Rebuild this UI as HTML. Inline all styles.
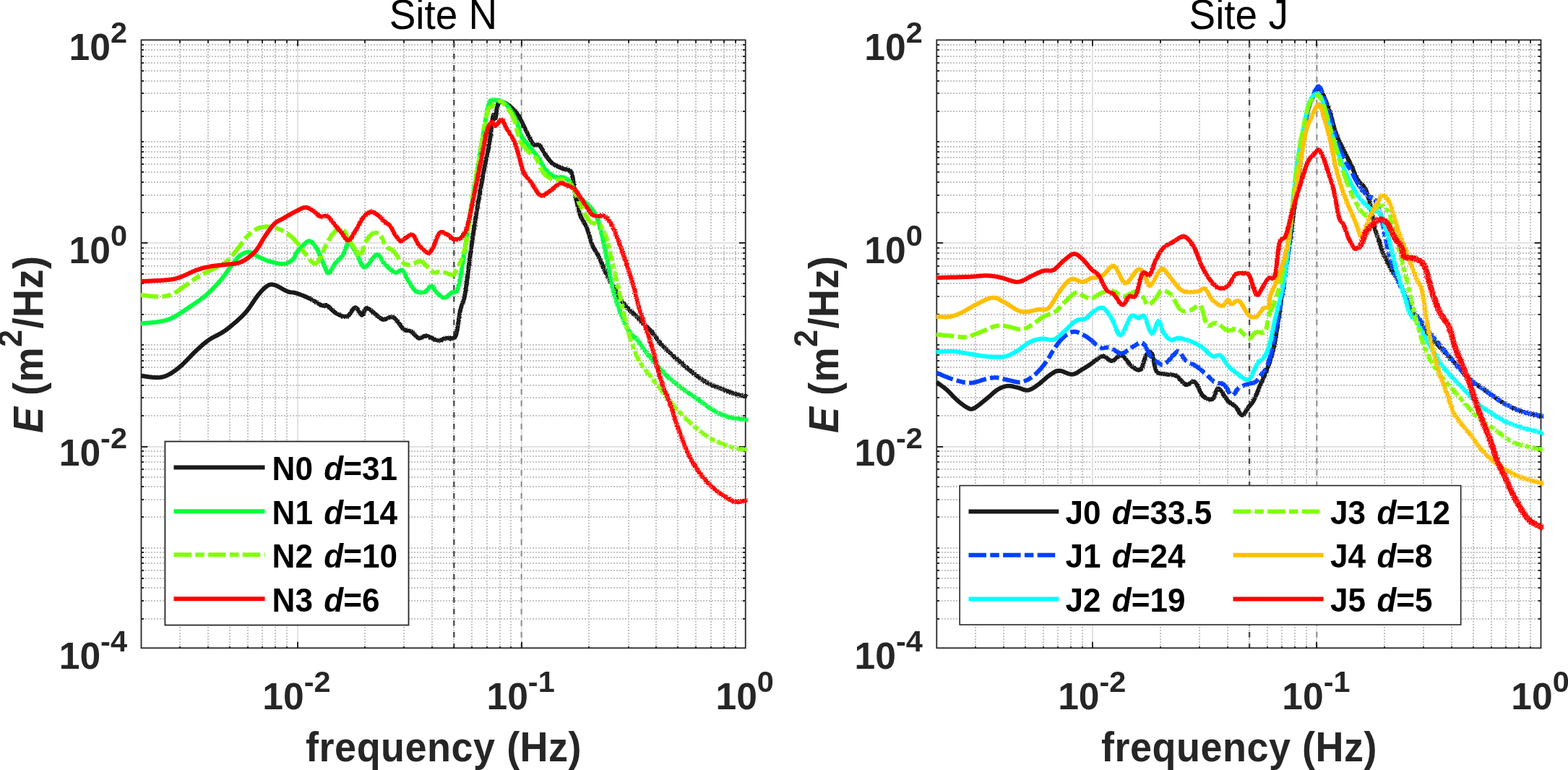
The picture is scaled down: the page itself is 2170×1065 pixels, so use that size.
<!DOCTYPE html>
<html><head><meta charset="utf-8"><title>Site N / Site J spectra</title><style>
html,body{margin:0;padding:0;background:#fff;width:2170px;height:1065px;overflow:hidden;}
svg{display:block;}
text{font-family:"Liberation Sans",Arial,Helvetica,sans-serif;}
.tl{font-size:51.6px;font-weight:bold;fill:#262626;}
.sup{font-size:41.5px;}
.ti{font-size:54.9px;fill:#000;}
.xl{font-size:54px;font-weight:bold;fill:#262626;letter-spacing:0.5px;}
.ysup{font-size:43px;}
.lg{font-size:44.1px;font-weight:bold;fill:#000;}
.it{font-style:italic;}
</style></head><body>
<svg width="2170" height="1065" viewBox="0 0 2170 1065">
<rect width="2170" height="1065" fill="#fff"/>
<defs><clipPath id="k194_0"><rect x="194.7" y="51.3" width="235.3" height="849.0"/></clipPath><clipPath id="k194_1"><rect x="430.0" y="51.3" width="400.0" height="849.0"/></clipPath><clipPath id="k194_2"><rect x="830.0" y="51.3" width="205.4" height="849.0"/></clipPath><clipPath id="k1295_0"><rect x="1295.5" y="51.3" width="214.5" height="849.0"/></clipPath><clipPath id="k1295_1"><rect x="1510.0" y="51.3" width="370.0" height="849.0"/></clipPath><clipPath id="k1295_2"><rect x="1880.0" y="51.3" width="256.2" height="849.0"/></clipPath><filter id="spk0" filterUnits="userSpaceOnUse" x="0" y="0" width="2170" height="1065" color-interpolation-filters="sRGB"><feTurbulence type="fractalNoise" baseFrequency="0.73" numOctaves="1" seed="3" result="t"/><feDisplacementMap in="SourceGraphic" in2="t" scale="0" xChannelSelector="R" yChannelSelector="G" result="d"/><feTurbulence type="fractalNoise" baseFrequency="0.91" numOctaves="1" seed="11" result="t2"/><feColorMatrix in="t2" type="matrix" values="0 0 0 0 0  0 0 0 0 0  0 0 0 0 0  0 0 0 0 1" result="m"/><feComposite in="d" in2="m" operator="in"/></filter><filter id="spk1" filterUnits="userSpaceOnUse" x="0" y="0" width="2170" height="1065" color-interpolation-filters="sRGB"><feTurbulence type="fractalNoise" baseFrequency="0.73" numOctaves="1" seed="4" result="t"/><feDisplacementMap in="SourceGraphic" in2="t" scale="3.0" xChannelSelector="R" yChannelSelector="G" result="d"/><feTurbulence type="fractalNoise" baseFrequency="0.91" numOctaves="1" seed="12" result="t2"/><feColorMatrix in="t2" type="matrix" values="0 0 0 0 0  0 0 0 0 0  0 0 0 0 0  4 0 0 0 -0.4" result="m"/><feComposite in="d" in2="m" operator="in"/></filter><filter id="spk2" filterUnits="userSpaceOnUse" x="0" y="0" width="2170" height="1065" color-interpolation-filters="sRGB"><feTurbulence type="fractalNoise" baseFrequency="0.73" numOctaves="1" seed="5" result="t"/><feDisplacementMap in="SourceGraphic" in2="t" scale="5.0" xChannelSelector="R" yChannelSelector="G" result="d"/><feTurbulence type="fractalNoise" baseFrequency="0.91" numOctaves="1" seed="13" result="t2"/><feColorMatrix in="t2" type="matrix" values="0 0 0 0 0  0 0 0 0 0  0 0 0 0 0  4 0 0 0 -0.7" result="m"/><feComposite in="d" in2="m" operator="in"/></filter></defs>
<path d="M249.0 55V896.3M288.0 55V896.3M318.0 55V896.3M343.0 55V896.3M363.0 55V896.3M381.0 55V896.3M397.0 55V896.3M505.0 55V896.3M559.0 55V896.3M598.0 55V896.3M628.0 55V896.3M653.0 55V896.3M674.0 55V896.3M692.0 55V896.3M707.0 55V896.3M815.0 55V896.3M870.0 55V896.3M908.0 55V896.3M938.0 55V896.3M963.0 55V896.3M984.0 55V896.3M1002.0 55V896.3M1018.0 55V896.3" stroke="#c4c4c4" stroke-width="2" stroke-dasharray="2 2" fill="none"/>
<path d="M197 856.0H1031.7M197 831.0H1031.7M197 813.0H1031.7M197 800.0H1031.7M197 789.0H1031.7M197 779.0H1031.7M197 771.0H1031.7M197 764.0H1031.7M197 758.0H1031.7M197 715.0H1031.7M197 691.0H1031.7M197 673.0H1031.7M197 660.0H1031.7M197 649.0H1031.7M197 639.0H1031.7M197 631.0H1031.7M197 624.0H1031.7M197 575.0H1031.7M197 550.0H1031.7M197 533.0H1031.7M197 519.0H1031.7M197 508.0H1031.7M197 499.0H1031.7M197 491.0H1031.7M197 483.0H1031.7M197 477.0H1031.7M197 435.0H1031.7M197 410.0H1031.7M197 392.0H1031.7M197 379.0H1031.7M197 368.0H1031.7M197 358.0H1031.7M197 350.0H1031.7M197 343.0H1031.7M197 294.0H1031.7M197 270.0H1031.7M197 252.0H1031.7M197 238.0H1031.7M197 227.0H1031.7M197 218.0H1031.7M197 210.0H1031.7M197 203.0H1031.7M197 196.0H1031.7M197 154.0H1031.7M197 129.0H1031.7M197 112.0H1031.7M197 98.0H1031.7M197 87.0H1031.7M197 78.0H1031.7M197 69.0H1031.7M197 62.0H1031.7" stroke="#c4c4c4" stroke-width="2" stroke-dasharray="2 2" fill="none"/>
<path d="M412.0 896.3V55.3M722.0 896.3V55.3M195.5 336.0H1031.7M195.5 618.0H1031.7" stroke="#e2e2e2" stroke-width="2" fill="none"/>
<path d="M628.3 58.1V896.3" stroke="#505050" stroke-width="2.4" stroke-dasharray="7.6 8.4" fill="none"/>
<path d="M721.6 58.1V896.3" stroke="#8c8c8c" stroke-width="2.0" stroke-dasharray="7.6 8.4" fill="none"/>
<path d="M1350.0 55V896.3M1389.0 55V896.3M1419.0 55V896.3M1444.0 55V896.3M1464.0 55V896.3M1482.0 55V896.3M1498.0 55V896.3M1606.0 55V896.3M1660.0 55V896.3M1699.0 55V896.3M1729.0 55V896.3M1754.0 55V896.3M1774.0 55V896.3M1792.0 55V896.3M1808.0 55V896.3M1916.0 55V896.3M1970.0 55V896.3M2009.0 55V896.3M2039.0 55V896.3M2064.0 55V896.3M2084.0 55V896.3M2102.0 55V896.3M2118.0 55V896.3" stroke="#c4c4c4" stroke-width="2" stroke-dasharray="2 2" fill="none"/>
<path d="M1299 856.0H2132.5M1299 831.0H2132.5M1299 813.0H2132.5M1299 800.0H2132.5M1299 789.0H2132.5M1299 779.0H2132.5M1299 771.0H2132.5M1299 764.0H2132.5M1299 758.0H2132.5M1299 715.0H2132.5M1299 691.0H2132.5M1299 673.0H2132.5M1299 660.0H2132.5M1299 649.0H2132.5M1299 639.0H2132.5M1299 631.0H2132.5M1299 624.0H2132.5M1299 575.0H2132.5M1299 550.0H2132.5M1299 533.0H2132.5M1299 519.0H2132.5M1299 508.0H2132.5M1299 499.0H2132.5M1299 491.0H2132.5M1299 483.0H2132.5M1299 477.0H2132.5M1299 435.0H2132.5M1299 410.0H2132.5M1299 392.0H2132.5M1299 379.0H2132.5M1299 368.0H2132.5M1299 358.0H2132.5M1299 350.0H2132.5M1299 343.0H2132.5M1299 294.0H2132.5M1299 270.0H2132.5M1299 252.0H2132.5M1299 238.0H2132.5M1299 227.0H2132.5M1299 218.0H2132.5M1299 210.0H2132.5M1299 203.0H2132.5M1299 196.0H2132.5M1299 154.0H2132.5M1299 129.0H2132.5M1299 112.0H2132.5M1299 98.0H2132.5M1299 87.0H2132.5M1299 78.0H2132.5M1299 69.0H2132.5M1299 62.0H2132.5" stroke="#c4c4c4" stroke-width="2" stroke-dasharray="2 2" fill="none"/>
<path d="M1512.0 896.3V55.3M1822.0 896.3V55.3M1296.3 336.0H2132.5M1296.3 618.0H2132.5" stroke="#e2e2e2" stroke-width="2" fill="none"/>
<path d="M1729.1 58.1V896.3" stroke="#505050" stroke-width="2.4" stroke-dasharray="7.6 8.4" fill="none"/>
<path d="M1822.4 58.1V896.3" stroke="#8c8c8c" stroke-width="2.0" stroke-dasharray="7.6 8.4" fill="none"/>
<path d="M412.0 896.3V887.8M412.0 55.3V63.8M722.0 896.3V887.8M722.0 55.3V63.8M195.5 336.0H204.3M1031.7 336.0H1022.9M195.5 618.0H204.3M1031.7 618.0H1022.9M249.0 896.3V893.9M249.0 55.3V59.5M288.0 896.3V893.9M288.0 55.3V59.5M318.0 896.3V893.9M318.0 55.3V59.5M343.0 896.3V893.9M343.0 55.3V59.5M363.0 896.3V893.9M363.0 55.3V59.5M381.0 896.3V893.9M381.0 55.3V59.5M397.0 896.3V893.9M397.0 55.3V59.5M505.0 896.3V893.9M505.0 55.3V59.5M559.0 896.3V893.9M559.0 55.3V59.5M598.0 896.3V893.9M598.0 55.3V59.5M628.0 896.3V893.9M628.0 55.3V59.5M653.0 896.3V893.9M653.0 55.3V59.5M674.0 896.3V893.9M674.0 55.3V59.5M692.0 896.3V893.9M692.0 55.3V59.5M707.0 896.3V893.9M707.0 55.3V59.5M815.0 896.3V893.9M815.0 55.3V59.5M870.0 896.3V893.9M870.0 55.3V59.5M908.0 896.3V893.9M908.0 55.3V59.5M938.0 896.3V893.9M938.0 55.3V59.5M963.0 896.3V893.9M963.0 55.3V59.5M984.0 896.3V893.9M984.0 55.3V59.5M1002.0 896.3V893.9M1002.0 55.3V59.5M1018.0 896.3V893.9M1018.0 55.3V59.5M195.5 856.0H199.0M1031.7 856.0H1028.0M195.5 831.0H199.0M1031.7 831.0H1028.0M195.5 813.0H199.0M1031.7 813.0H1028.0M195.5 800.0H199.0M1031.7 800.0H1028.0M195.5 789.0H199.0M1031.7 789.0H1028.0M195.5 779.0H199.0M1031.7 779.0H1028.0M195.5 771.0H199.0M1031.7 771.0H1028.0M195.5 764.0H199.0M1031.7 764.0H1028.0M195.5 758.0H199.0M1031.7 758.0H1028.0M195.5 715.0H199.0M1031.7 715.0H1028.0M195.5 691.0H199.0M1031.7 691.0H1028.0M195.5 673.0H199.0M1031.7 673.0H1028.0M195.5 660.0H199.0M1031.7 660.0H1028.0M195.5 649.0H199.0M1031.7 649.0H1028.0M195.5 639.0H199.0M1031.7 639.0H1028.0M195.5 631.0H199.0M1031.7 631.0H1028.0M195.5 624.0H199.0M1031.7 624.0H1028.0M195.5 575.0H199.0M1031.7 575.0H1028.0M195.5 550.0H199.0M1031.7 550.0H1028.0M195.5 533.0H199.0M1031.7 533.0H1028.0M195.5 519.0H199.0M1031.7 519.0H1028.0M195.5 508.0H199.0M1031.7 508.0H1028.0M195.5 499.0H199.0M1031.7 499.0H1028.0M195.5 491.0H199.0M1031.7 491.0H1028.0M195.5 483.0H199.0M1031.7 483.0H1028.0M195.5 477.0H199.0M1031.7 477.0H1028.0M195.5 435.0H199.0M1031.7 435.0H1028.0M195.5 410.0H199.0M1031.7 410.0H1028.0M195.5 392.0H199.0M1031.7 392.0H1028.0M195.5 379.0H199.0M1031.7 379.0H1028.0M195.5 368.0H199.0M1031.7 368.0H1028.0M195.5 358.0H199.0M1031.7 358.0H1028.0M195.5 350.0H199.0M1031.7 350.0H1028.0M195.5 343.0H199.0M1031.7 343.0H1028.0M195.5 294.0H199.0M1031.7 294.0H1028.0M195.5 270.0H199.0M1031.7 270.0H1028.0M195.5 252.0H199.0M1031.7 252.0H1028.0M195.5 238.0H199.0M1031.7 238.0H1028.0M195.5 227.0H199.0M1031.7 227.0H1028.0M195.5 218.0H199.0M1031.7 218.0H1028.0M195.5 210.0H199.0M1031.7 210.0H1028.0M195.5 203.0H199.0M1031.7 203.0H1028.0M195.5 196.0H199.0M1031.7 196.0H1028.0M195.5 154.0H199.0M1031.7 154.0H1028.0M195.5 129.0H199.0M1031.7 129.0H1028.0M195.5 112.0H199.0M1031.7 112.0H1028.0M195.5 98.0H199.0M1031.7 98.0H1028.0M195.5 87.0H199.0M1031.7 87.0H1028.0M195.5 78.0H199.0M1031.7 78.0H1028.0M195.5 69.0H199.0M1031.7 69.0H1028.0M195.5 62.0H199.0M1031.7 62.0H1028.0" stroke="#262626" stroke-width="2" fill="none"/>
<rect x="195.5" y="55.3" width="836.2" height="841.0" stroke="#262626" stroke-width="1.8" fill="none"/>
<path d="M1512.0 896.3V887.8M1512.0 55.3V63.8M1822.0 896.3V887.8M1822.0 55.3V63.8M1296.3 336.0H1305.1M2132.5 336.0H2123.7M1296.3 618.0H1305.1M2132.5 618.0H2123.7M1350.0 896.3V893.9M1350.0 55.3V59.5M1389.0 896.3V893.9M1389.0 55.3V59.5M1419.0 896.3V893.9M1419.0 55.3V59.5M1444.0 896.3V893.9M1444.0 55.3V59.5M1464.0 896.3V893.9M1464.0 55.3V59.5M1482.0 896.3V893.9M1482.0 55.3V59.5M1498.0 896.3V893.9M1498.0 55.3V59.5M1606.0 896.3V893.9M1606.0 55.3V59.5M1660.0 896.3V893.9M1660.0 55.3V59.5M1699.0 896.3V893.9M1699.0 55.3V59.5M1729.0 896.3V893.9M1729.0 55.3V59.5M1754.0 896.3V893.9M1754.0 55.3V59.5M1774.0 896.3V893.9M1774.0 55.3V59.5M1792.0 896.3V893.9M1792.0 55.3V59.5M1808.0 896.3V893.9M1808.0 55.3V59.5M1916.0 896.3V893.9M1916.0 55.3V59.5M1970.0 896.3V893.9M1970.0 55.3V59.5M2009.0 896.3V893.9M2009.0 55.3V59.5M2039.0 896.3V893.9M2039.0 55.3V59.5M2064.0 896.3V893.9M2064.0 55.3V59.5M2084.0 896.3V893.9M2084.0 55.3V59.5M2102.0 896.3V893.9M2102.0 55.3V59.5M2118.0 896.3V893.9M2118.0 55.3V59.5M1296.3 856.0H1299.8M2132.5 856.0H2128.8M1296.3 831.0H1299.8M2132.5 831.0H2128.8M1296.3 813.0H1299.8M2132.5 813.0H2128.8M1296.3 800.0H1299.8M2132.5 800.0H2128.8M1296.3 789.0H1299.8M2132.5 789.0H2128.8M1296.3 779.0H1299.8M2132.5 779.0H2128.8M1296.3 771.0H1299.8M2132.5 771.0H2128.8M1296.3 764.0H1299.8M2132.5 764.0H2128.8M1296.3 758.0H1299.8M2132.5 758.0H2128.8M1296.3 715.0H1299.8M2132.5 715.0H2128.8M1296.3 691.0H1299.8M2132.5 691.0H2128.8M1296.3 673.0H1299.8M2132.5 673.0H2128.8M1296.3 660.0H1299.8M2132.5 660.0H2128.8M1296.3 649.0H1299.8M2132.5 649.0H2128.8M1296.3 639.0H1299.8M2132.5 639.0H2128.8M1296.3 631.0H1299.8M2132.5 631.0H2128.8M1296.3 624.0H1299.8M2132.5 624.0H2128.8M1296.3 575.0H1299.8M2132.5 575.0H2128.8M1296.3 550.0H1299.8M2132.5 550.0H2128.8M1296.3 533.0H1299.8M2132.5 533.0H2128.8M1296.3 519.0H1299.8M2132.5 519.0H2128.8M1296.3 508.0H1299.8M2132.5 508.0H2128.8M1296.3 499.0H1299.8M2132.5 499.0H2128.8M1296.3 491.0H1299.8M2132.5 491.0H2128.8M1296.3 483.0H1299.8M2132.5 483.0H2128.8M1296.3 477.0H1299.8M2132.5 477.0H2128.8M1296.3 435.0H1299.8M2132.5 435.0H2128.8M1296.3 410.0H1299.8M2132.5 410.0H2128.8M1296.3 392.0H1299.8M2132.5 392.0H2128.8M1296.3 379.0H1299.8M2132.5 379.0H2128.8M1296.3 368.0H1299.8M2132.5 368.0H2128.8M1296.3 358.0H1299.8M2132.5 358.0H2128.8M1296.3 350.0H1299.8M2132.5 350.0H2128.8M1296.3 343.0H1299.8M2132.5 343.0H2128.8M1296.3 294.0H1299.8M2132.5 294.0H2128.8M1296.3 270.0H1299.8M2132.5 270.0H2128.8M1296.3 252.0H1299.8M2132.5 252.0H2128.8M1296.3 238.0H1299.8M2132.5 238.0H2128.8M1296.3 227.0H1299.8M2132.5 227.0H2128.8M1296.3 218.0H1299.8M2132.5 218.0H2128.8M1296.3 210.0H1299.8M2132.5 210.0H2128.8M1296.3 203.0H1299.8M2132.5 203.0H2128.8M1296.3 196.0H1299.8M2132.5 196.0H2128.8M1296.3 154.0H1299.8M2132.5 154.0H2128.8M1296.3 129.0H1299.8M2132.5 129.0H2128.8M1296.3 112.0H1299.8M2132.5 112.0H2128.8M1296.3 98.0H1299.8M2132.5 98.0H2128.8M1296.3 87.0H1299.8M2132.5 87.0H2128.8M1296.3 78.0H1299.8M2132.5 78.0H2128.8M1296.3 69.0H1299.8M2132.5 69.0H2128.8M1296.3 62.0H1299.8M2132.5 62.0H2128.8" stroke="#262626" stroke-width="2" fill="none"/>
<rect x="1296.3" y="55.3" width="836.2" height="841.0" stroke="#262626" stroke-width="1.8" fill="none"/>
<g clip-path="url(#k194_0)">
<path d="M194.70 519.70 L197.30 520.04 L200.98 520.58 L205.30 521.19 L209.83 521.74 L214.14 522.12 L217.80 522.20 L220.76 522.03 L223.36 521.73 L225.73 521.25 L228.03 520.56 L230.41 519.62 L233.00 518.40 L235.79 516.89 L238.65 515.10 L241.59 513.07 L244.59 510.82 L247.66 508.35 L250.80 505.70 L254.06 502.71 L257.44 499.34 L260.90 495.76 L264.36 492.14 L267.74 488.66 L271.00 485.50 L274.08 482.63 L277.02 479.92 L279.89 477.35 L282.77 474.90 L285.72 472.56 L288.80 470.30 L292.07 468.21 L295.48 466.31 L298.96 464.52 L302.43 462.75 L305.84 460.91 L309.10 458.90 L312.23 456.73 L315.29 454.47 L318.27 452.14 L321.18 449.75 L324.02 447.33 L326.80 444.90 L329.48 442.51 L332.05 440.16 L334.56 437.77 L337.03 435.29 L339.50 432.62 L342.00 429.70 L344.56 426.37 L347.16 422.64 L349.76 418.74 L352.32 414.87 L354.81 411.25 L357.20 408.10 L359.49 405.35 L361.71 402.81 L363.87 400.53 L365.95 398.53 L367.96 396.84 L369.90 395.50 L371.64 394.51 L373.17 393.85 L374.63 393.51 L376.16 393.46 L377.90 393.70 L380.00 394.20 L382.59 395.17 L385.57 396.65 L388.77 398.42 L392.00 400.24 L395.07 401.87 L397.80 403.10 L400.08 403.82 L402.04 404.20 L403.85 404.39 L405.67 404.57 L407.66 404.89 L410.00 405.50 L412.75 406.42 L415.80 407.53 L419.03 408.77 L422.32 410.11 L425.55 411.50 L428.60 412.90 L431.57 414.43 L434.56 416.16 L437.49 417.94 L440.29 419.64 L442.85 421.10 L445.10 422.20 L446.91 422.75 L448.32 422.83 L449.51 422.69 L450.63 422.56 L451.87 422.68 L453.40 423.30 L455.21 424.56 L457.15 426.28 L459.21 428.26 L461.36 430.29 L463.56 432.14 L465.80 433.60 L468.13 434.83 L470.60 436.04 L473.12 437.07 L475.63 437.79 L478.04 438.04 L480.30 437.70 L482.39 436.32 L484.38 433.94 L486.27 431.11 L488.10 428.36 L489.87 426.24 L491.60 425.30 L493.30 425.94 L494.96 427.81 L496.57 430.31 L498.10 432.85 L499.55 434.84 L500.90 435.70 L502.06 435.11 L503.04 433.49 L503.93 431.31 L504.84 429.08 L505.86 427.28 L507.10 426.40 L508.57 426.50 L510.18 427.20 L511.91 428.34 L513.73 429.73 L515.60 431.21 L517.50 432.60 L519.43 434.11 L521.41 435.93 L523.45 437.83 L525.54 439.60 L527.69 441.03 L529.90 441.90 L532.18 441.87 L534.55 441.06 L536.97 439.90 L539.42 438.84 L541.87 438.33 L544.30 438.80 L546.76 440.57 L549.28 443.34 L551.81 446.66 L554.27 450.07 L556.63 453.10 L558.80 455.30 L560.76 456.52 L562.54 457.10 L564.21 457.30 L565.81 457.40 L567.43 457.68 L569.10 458.40 L570.83 459.73 L572.56 461.50 L574.30 463.44 L576.04 465.29 L577.77 466.80 L579.50 467.70 L581.15 467.79 L582.71 467.24 L584.27 466.34 L585.91 465.40 L587.73 464.72 L589.80 464.60 L592.26 465.20 L595.07 466.32 L598.04 467.70 L601.02 469.08 L603.83 470.20 L606.30 470.80 L608.36 470.80 L610.14 470.38 L611.76 469.70 L613.31 468.92 L614.92 468.20 L616.70 467.70 L618.75 467.57 L620.99 467.71 L623.29 467.91 L625.51 467.96 L627.49 467.62 L629.10 466.70 L630.26 465.18 L631.08 463.23 L631.67 460.90 L632.14 458.25 L632.61 455.33 L633.20 452.20 L633.86 448.69 L634.49 444.73 L635.12 440.49 L635.78 436.17 L636.50 431.95 L637.30 428.00 L638.20 424.68 L639.19 421.92 L640.23 419.26 L641.31 416.22 L642.41 412.36 L643.50 407.20 L644.60 400.44 L645.73 392.39 L646.87 383.51 L648.02 374.26 L649.17 365.10 L650.30 356.50 L651.42 348.34 L652.54 340.23 L653.65 332.22 L654.76 324.34 L655.88 316.66 L657.00 309.20 L658.13 302.01 L659.26 295.04 L660.40 288.26 L661.54 281.63 L662.67 275.09 L663.80 268.60 L664.92 262.18 L666.04 255.85 L667.15 249.63 L668.26 243.49 L669.38 237.45 L670.50 231.50 L671.65 225.72 L672.82 220.11 L674.00 214.61 L675.16 209.10 L676.26 203.49 L677.30 197.70 L678.27 191.23 L679.19 184.05 L680.07 176.77 L680.90 170.02 L681.67 164.39 L682.40 160.50 L683.05 158.99 L683.63 159.50 L684.16 161.14 L684.66 163.02 L685.17 164.23 L685.70 163.90 L686.20 161.67 L686.64 158.20 L687.08 154.06 L687.59 149.86 L688.24 146.18 L689.10 143.60 L690.20 142.16 L691.50 141.37 L692.93 141.11 L694.46 141.23 L696.03 141.57 L697.60 142.00 L699.19 142.58 L700.85 143.43 L702.55 144.51 L704.27 145.78 L706.00 147.19 L707.70 148.70 L709.38 150.27 L711.06 151.94 L712.74 153.75 L714.43 155.75 L716.11 157.98 L717.80 160.50 L719.50 163.41 L721.20 166.70 L722.90 170.22 L724.60 173.84 L726.30 177.42 L728.00 180.80 L729.71 184.19 L731.43 187.75 L733.16 191.26 L734.86 194.51 L736.51 197.30 L738.10 199.40 L739.61 200.52 L741.06 200.78 L742.46 200.57 L743.83 200.29 L745.21 200.33 L746.60 201.10 L747.99 202.69 L749.34 204.79 L750.70 207.22 L752.08 209.79 L753.50 212.31 L755.00 214.60 L756.55 216.72 L758.11 218.84 L759.73 220.92 L761.42 222.90 L763.20 224.74 L765.10 226.40 L767.17 227.84 L769.41 229.10 L771.74 230.23 L774.09 231.25 L776.40 232.23 L778.60 233.20 L780.76 233.88 L782.94 234.18 L785.08 234.43 L787.10 234.96 L788.93 236.11 L790.50 238.20 L791.71 241.40 L792.61 245.47 L793.32 250.16 L793.96 255.20 L794.64 260.34 L795.50 265.30 L796.49 270.29 L797.51 275.56 L798.58 280.93 L799.72 286.19 L800.95 291.18 L802.30 295.70 L803.83 299.64 L805.53 303.13 L807.32 306.33 L809.13 309.43 L810.85 312.59 L812.40 316.00 L813.75 319.73 L814.96 323.65 L816.09 327.64 L817.20 331.57 L818.35 335.30 L819.60 338.70 L820.97 341.68 L822.41 344.31 L823.89 346.76 L825.38 349.14 L826.86 351.61 L828.30 354.30 L829.69 357.25 L831.07 360.35 L832.42 363.54 L833.78 366.74 L835.13 369.88 L836.50 372.90 L837.85 375.76 L839.19 378.51 L840.52 381.21 L841.88 383.90 L843.30 386.65 L844.80 389.50 L846.40 392.52 L848.09 395.67 L849.82 398.88 L851.59 402.06 L853.36 405.13 L855.10 408.00 L856.79 410.67 L858.46 413.21 L860.12 415.63 L861.81 417.97 L863.56 420.25 L865.40 422.50 L867.35 424.69 L869.38 426.79 L871.47 428.83 L873.59 430.84 L875.71 432.86 L877.80 434.90 L879.87 436.97 L881.93 439.03 L884.00 441.10 L886.07 443.17 L888.13 445.23 L890.20 447.30 L892.27 449.32 L894.33 451.29 L896.40 453.26 L898.47 455.28 L900.53 457.41 L902.60 459.70 L904.58 462.16 L906.46 464.74 L908.34 467.43 L910.32 470.21 L912.51 473.08 L915.00 476.00 L917.85 479.03 L920.99 482.18 L924.32 485.41 L927.79 488.67 L931.31 491.92 L934.80 495.10 L938.30 498.25 L941.87 501.43 L945.49 504.58 L949.13 507.69 L952.78 510.70 L956.40 513.60 L960.00 516.42 L963.60 519.19 L967.20 521.88 L970.80 524.43 L974.40 526.82 L978.00 529.00 L981.60 530.92 L985.20 532.61 L988.80 534.14 L992.40 535.55 L996.00 536.92 L999.60 538.30 L1003.33 539.73 L1007.20 541.16 L1011.08 542.55 L1014.80 543.84 L1018.23 544.97 L1021.20 545.90 L1023.72 546.59 L1025.91 547.07 L1027.79 547.39 L1029.41 547.62 L1030.81 547.81 L1032.00 548.00 L1032.93 548.18 L1033.54 548.30 L1033.92 548.38 L1034.16 548.43 L1034.32 548.46 L1034.50 548.50" stroke="#1a1a1a" stroke-width="6.0" fill="none" stroke-linejoin="round"/>
<path d="M194.70 447.40 L197.58 447.16 L201.63 446.85 L206.39 446.47 L211.40 446.02 L216.19 445.50 L220.30 444.90 L223.69 444.29 L226.72 443.67 L229.53 442.98 L232.27 442.15 L235.08 441.11 L238.10 439.80 L241.28 438.19 L244.50 436.35 L247.78 434.29 L251.17 432.06 L254.70 429.69 L258.40 427.20 L262.39 424.56 L266.65 421.74 L271.05 418.78 L275.45 415.71 L279.71 412.57 L283.70 409.40 L287.43 406.16 L291.03 402.81 L294.48 399.40 L297.80 395.95 L300.97 392.51 L304.00 389.10 L306.86 385.67 L309.54 382.17 L312.08 378.68 L314.51 375.26 L316.87 371.98 L319.20 368.90 L321.46 365.96 L323.62 363.09 L325.71 360.36 L327.76 357.83 L329.81 355.59 L331.90 353.70 L334.02 352.13 L336.14 350.83 L338.26 349.81 L340.37 349.08 L342.49 348.67 L344.60 348.60 L346.68 348.99 L348.71 349.85 L350.74 351.03 L352.81 352.37 L354.95 353.71 L357.20 354.90 L359.52 355.99 L361.89 357.12 L364.32 358.26 L366.86 359.36 L369.54 360.38 L372.40 361.30 L375.58 362.20 L379.07 363.14 L382.71 364.00 L386.31 364.69 L389.70 365.09 L392.70 365.10 L395.35 364.65 L397.80 363.81 L400.03 362.68 L402.05 361.38 L403.84 360.02 L405.40 358.70 L406.59 357.39 L407.40 356.00 L407.97 354.54 L408.49 353.04 L409.11 351.52 L410.00 350.00 L411.15 348.45 L412.42 346.84 L413.79 345.21 L415.25 343.60 L416.76 342.05 L418.30 340.60 L419.90 339.06 L421.59 337.35 L423.33 335.71 L425.09 334.35 L426.86 333.50 L428.60 333.40 L430.35 334.15 L432.14 335.60 L433.94 337.56 L435.69 339.86 L437.36 342.30 L438.90 344.70 L440.28 347.16 L441.52 349.84 L442.68 352.67 L443.81 355.58 L444.97 358.48 L446.20 361.30 L447.50 364.40 L448.83 367.91 L450.17 371.43 L451.55 374.52 L452.96 376.78 L454.40 377.80 L455.87 377.27 L457.38 375.47 L458.91 372.84 L460.48 369.83 L462.07 366.86 L463.70 364.40 L465.40 362.44 L467.17 360.64 L468.97 358.89 L470.76 357.10 L472.48 355.17 L474.10 353.00 L475.57 350.21 L476.91 346.81 L478.20 343.26 L479.49 340.05 L480.83 337.64 L482.30 336.50 L483.93 336.84 L485.69 338.30 L487.50 340.57 L489.31 343.32 L491.07 346.20 L492.70 348.90 L494.22 351.70 L495.67 354.93 L497.06 358.29 L498.40 361.52 L499.67 364.32 L500.90 366.40 L501.95 367.86 L502.81 368.93 L503.61 369.57 L504.49 369.75 L505.61 369.40 L507.10 368.50 L509.08 366.49 L511.47 363.31 L514.09 359.61 L516.77 356.05 L519.33 353.29 L521.60 352.00 L523.51 352.39 L525.19 353.99 L526.75 356.39 L528.31 359.20 L529.99 362.00 L531.90 364.40 L534.12 366.65 L536.58 369.11 L539.15 371.57 L541.72 373.81 L544.18 375.63 L546.40 376.80 L548.38 376.98 L550.22 376.27 L551.94 375.12 L553.57 374.01 L555.15 373.38 L556.70 373.70 L558.18 375.09 L559.54 377.20 L560.85 379.80 L562.16 382.64 L563.52 385.49 L565.00 388.10 L566.58 390.67 L568.21 393.43 L569.89 396.19 L571.64 398.76 L573.44 400.96 L575.30 402.60 L577.28 403.65 L579.39 404.27 L581.56 404.52 L583.72 404.45 L585.79 404.12 L587.70 403.60 L589.45 402.56 L591.10 400.90 L592.67 398.98 L594.16 397.18 L595.60 395.86 L597.00 395.40 L598.30 395.96 L599.47 397.28 L600.59 399.09 L601.72 401.11 L602.93 403.07 L604.30 404.70 L605.84 406.19 L607.51 407.79 L609.26 409.33 L611.06 410.64 L612.85 411.56 L614.60 411.90 L616.38 411.46 L618.23 410.33 L620.08 408.81 L621.85 407.17 L623.48 405.70 L624.90 404.70 L626.06 404.24 L627.03 404.11 L627.84 404.16 L628.57 404.23 L629.27 404.16 L630.00 403.80 L630.71 403.42 L631.34 403.20 L631.94 402.84 L632.55 402.06 L633.22 400.54 L634.00 398.00 L634.85 394.59 L635.73 390.57 L636.66 385.82 L637.69 380.23 L638.82 373.66 L640.10 366.00 L641.56 356.79 L643.20 346.03 L644.95 334.30 L646.76 322.17 L648.56 310.21 L650.30 299.00 L651.99 288.55 L653.67 278.40 L655.36 268.42 L657.04 258.48 L658.72 248.45 L660.40 238.20 L662.12 227.34 L663.89 215.89 L665.66 204.36 L667.38 193.22 L669.01 182.97 L670.50 174.10 L671.83 166.57 L673.01 159.97 L674.11 154.26 L675.16 149.39 L676.21 145.32 L677.30 142.00 L678.38 139.71 L679.41 138.55 L680.44 138.19 L681.51 138.29 L682.68 138.54 L684.00 138.60 L685.50 138.51 L687.14 138.54 L688.89 138.71 L690.68 139.05 L692.47 139.57 L694.20 140.30 L695.89 141.19 L697.57 142.23 L699.25 143.44 L700.93 144.90 L702.61 146.63 L704.30 148.70 L706.03 151.19 L707.82 154.08 L709.61 157.26 L711.36 160.60 L713.00 163.98 L714.50 167.30 L715.78 170.66 L716.86 174.19 L717.85 177.77 L718.84 181.27 L719.92 184.59 L721.20 187.60 L722.66 190.20 L724.22 192.48 L725.88 194.56 L727.63 196.60 L729.47 198.73 L731.40 201.10 L733.50 203.72 L735.78 206.48 L738.16 209.34 L740.53 212.24 L742.81 215.14 L744.90 218.00 L746.74 220.90 L748.39 223.89 L749.95 226.88 L751.51 229.77 L753.16 232.48 L755.00 234.90 L757.09 237.09 L759.37 239.14 L761.75 241.01 L764.13 242.63 L766.41 243.98 L768.50 245.00 L770.38 245.51 L772.11 245.50 L773.76 245.21 L775.35 244.87 L776.95 244.72 L778.60 245.00 L780.30 245.62 L782.00 246.39 L783.70 247.35 L785.40 248.54 L787.10 250.01 L788.80 251.80 L790.45 254.06 L792.05 256.78 L793.64 259.78 L795.29 262.87 L797.02 265.87 L798.90 268.60 L801.02 271.12 L803.37 273.57 L805.81 275.94 L808.21 278.19 L810.45 280.29 L812.40 282.20 L814.00 283.77 L815.34 285.00 L816.52 286.07 L817.63 287.18 L818.76 288.53 L820.00 290.30 L821.37 292.47 L822.79 294.87 L824.24 297.51 L825.66 300.37 L827.03 303.47 L828.30 306.80 L829.45 310.38 L830.52 314.22 L831.53 318.29 L832.51 322.57 L833.49 327.01 L834.50 331.60 L835.53 336.41 L836.57 341.47 L837.61 346.71 L838.64 352.04 L839.67 357.36 L840.70 362.60 L841.72 367.86 L842.74 373.24 L843.75 378.62 L844.76 383.88 L845.78 388.91 L846.80 393.60 L847.80 397.86 L848.78 401.78 L849.76 405.47 L850.77 409.04 L851.84 412.61 L853.00 416.30 L854.24 420.11 L855.54 423.94 L856.89 427.77 L858.31 431.58 L859.78 435.33 L861.30 439.00 L862.90 442.69 L864.58 446.43 L866.32 450.12 L868.09 453.64 L869.85 456.87 L871.60 459.70 L873.33 461.97 L875.06 463.75 L876.80 465.24 L878.54 466.64 L880.27 468.16 L882.00 470.00 L883.72 472.19 L885.45 474.59 L887.17 477.09 L888.89 479.64 L890.60 482.13 L892.30 484.50 L893.86 486.61 L895.26 488.49 L896.64 490.33 L898.19 492.29 L900.05 494.56 L902.40 497.30 L905.33 500.69 L908.75 504.63 L912.48 508.87 L916.37 513.17 L920.27 517.29 L924.00 521.00 L927.60 524.28 L931.20 527.32 L934.80 530.19 L938.40 532.93 L942.00 535.62 L945.60 538.30 L949.20 540.94 L952.80 543.50 L956.40 545.99 L960.00 548.45 L963.60 550.91 L967.20 553.40 L970.80 555.99 L974.40 558.67 L978.00 561.35 L981.60 563.94 L985.20 566.35 L988.80 568.50 L992.40 570.38 L996.00 572.08 L999.60 573.59 L1003.20 574.94 L1006.80 576.14 L1010.40 577.20 L1014.22 578.08 L1018.31 578.78 L1022.39 579.32 L1026.21 579.74 L1029.51 580.09 L1032.00 580.40 L1033.55 580.63 L1034.34 580.76 L1034.60 580.80 L1034.56 580.80 L1034.45 580.79 L1034.50 580.80" stroke="#00ff40" stroke-width="6.0" fill="none" stroke-linejoin="round"/>
<path d="M194.70 408.10 L197.58 408.39 L201.63 408.84 L206.39 409.36 L211.40 409.82 L216.19 410.14 L220.30 410.20 L223.72 410.06 L226.81 409.80 L229.69 409.39 L232.46 408.80 L235.23 407.98 L238.10 406.90 L241.03 405.50 L243.91 403.80 L246.79 401.87 L249.71 399.79 L252.70 397.64 L255.80 395.50 L259.03 393.27 L262.37 390.88 L265.79 388.42 L269.24 385.97 L272.69 383.64 L276.10 381.50 L279.51 379.59 L282.96 377.84 L286.41 376.21 L289.83 374.62 L293.17 373.04 L296.40 371.40 L299.53 369.81 L302.59 368.32 L305.57 366.83 L308.48 365.24 L311.32 363.43 L314.10 361.30 L316.81 358.76 L319.44 355.89 L322.01 352.80 L324.51 349.62 L326.94 346.48 L329.30 343.50 L331.56 340.60 L333.72 337.67 L335.81 334.77 L337.86 331.98 L339.91 329.36 L342.00 327.00 L344.12 324.87 L346.23 322.91 L348.35 321.12 L350.47 319.53 L352.58 318.12 L354.70 316.90 L356.79 315.90 L358.84 315.10 L360.89 314.49 L362.98 314.06 L365.14 313.76 L367.40 313.60 L369.79 313.56 L372.28 313.67 L374.84 313.92 L377.44 314.32 L380.04 314.88 L382.60 315.60 L385.17 316.50 L387.78 317.59 L390.39 318.82 L392.96 320.19 L395.44 321.66 L397.80 323.20 L400.00 324.80 L402.08 326.47 L404.07 328.24 L406.03 330.14 L407.99 332.18 L410.00 334.40 L412.06 336.88 L414.12 339.62 L416.19 342.51 L418.26 345.43 L420.33 348.26 L422.40 350.90 L424.51 353.56 L426.69 356.39 L428.86 359.14 L430.97 361.55 L432.97 363.39 L434.80 364.40 L436.42 364.52 L437.87 363.93 L439.21 362.76 L440.49 361.14 L441.77 359.21 L443.10 357.10 L444.42 354.65 L445.69 351.74 L446.94 348.51 L448.26 345.12 L449.69 341.73 L451.30 338.50 L453.15 335.22 L455.20 331.73 L457.36 328.23 L459.56 324.95 L461.70 322.10 L463.70 319.90 L465.57 318.29 L467.40 317.10 L469.16 316.34 L470.87 316.03 L472.52 316.18 L474.10 316.80 L475.57 318.05 L476.91 319.96 L478.20 322.32 L479.49 324.96 L480.83 327.68 L482.30 330.30 L483.95 332.97 L485.76 335.88 L487.62 338.88 L489.46 341.80 L491.18 344.49 L492.70 346.80 L493.98 348.97 L495.08 351.17 L496.06 353.14 L496.99 354.63 L497.92 355.37 L498.90 355.10 L499.89 353.50 L500.81 350.70 L501.74 347.16 L502.73 343.32 L503.83 339.62 L505.10 336.50 L506.58 333.79 L508.23 331.08 L509.99 328.52 L511.81 326.23 L513.64 324.35 L515.40 323.00 L517.14 322.16 L518.91 321.71 L520.67 321.68 L522.41 322.05 L524.10 322.86 L525.70 324.10 L527.18 326.08 L528.54 328.84 L529.85 332.03 L531.16 335.29 L532.52 338.27 L534.00 340.60 L535.60 342.13 L537.28 343.12 L539.02 343.83 L540.79 344.50 L542.55 345.41 L544.30 346.80 L546.00 348.85 L547.69 351.37 L549.37 354.12 L551.08 356.86 L552.85 359.33 L554.70 361.30 L556.63 362.81 L558.61 364.07 L560.65 365.07 L562.74 365.80 L564.89 366.25 L567.10 366.40 L569.43 365.99 L571.90 364.96 L574.42 363.66 L576.92 362.39 L579.31 361.50 L581.50 361.30 L583.49 361.91 L585.34 363.08 L587.09 364.63 L588.74 366.34 L590.34 368.03 L591.90 369.50 L593.37 370.87 L594.71 372.31 L596.00 373.73 L597.29 375.02 L598.63 376.08 L600.10 376.80 L601.66 377.04 L603.26 376.86 L604.91 376.44 L606.66 375.99 L608.51 375.67 L610.50 375.70 L612.78 376.18 L615.35 376.98 L618.03 377.92 L620.64 378.84 L622.99 379.56 L624.90 379.90 L626.19 380.16 L626.98 380.54 L627.51 380.72 L628.02 380.38 L628.77 379.18 L630.00 376.80 L631.80 373.33 L634.00 369.06 L636.44 363.93 L638.94 357.91 L641.35 350.94 L643.50 343.00 L645.38 333.61 L647.11 322.72 L648.76 310.89 L650.35 298.68 L651.95 286.66 L653.60 275.40 L655.30 264.83 L657.00 254.50 L658.70 244.36 L660.40 234.36 L662.10 224.46 L663.80 214.60 L665.53 204.29 L667.30 193.47 L669.06 182.74 L670.78 172.71 L672.41 164.00 L673.90 157.20 L675.17 152.73 L676.23 150.17 L677.19 148.93 L678.19 148.39 L679.32 147.95 L680.70 147.00 L682.40 145.49 L684.33 143.89 L686.39 142.38 L688.51 141.16 L690.57 140.40 L692.50 140.30 L694.30 140.97 L696.05 142.30 L697.76 144.09 L699.41 146.16 L701.03 148.33 L702.60 150.40 L704.11 152.26 L705.56 154.02 L706.96 155.88 L708.33 158.02 L709.71 160.63 L711.10 163.90 L712.47 168.16 L713.78 173.34 L715.09 178.99 L716.44 184.67 L717.90 189.92 L719.50 194.30 L721.30 197.79 L723.27 200.74 L725.34 203.27 L727.44 205.49 L729.48 207.53 L731.40 209.50 L733.19 211.17 L734.90 212.40 L736.56 213.44 L738.20 214.55 L739.84 215.98 L741.50 218.00 L743.14 220.81 L744.74 224.24 L746.34 227.99 L747.98 231.77 L749.72 235.28 L751.60 238.20 L753.65 240.60 L755.85 242.72 L758.14 244.56 L760.47 246.13 L762.81 247.41 L765.10 248.40 L767.35 248.87 L769.60 248.78 L771.84 248.41 L774.09 248.03 L776.34 247.93 L778.60 248.40 L780.90 249.34 L783.26 250.51 L785.61 251.97 L787.92 253.75 L790.13 255.91 L792.20 258.50 L794.05 261.67 L795.70 265.41 L797.26 269.52 L798.81 273.83 L800.46 278.12 L802.30 282.20 L804.41 286.34 L806.74 290.73 L809.17 295.11 L811.57 299.21 L813.82 302.77 L815.80 305.50 L817.47 307.21 L818.92 308.08 L820.22 308.39 L821.45 308.46 L822.68 308.56 L824.00 309.00 L825.39 309.58 L826.79 310.01 L828.19 310.49 L829.60 311.19 L831.00 312.30 L832.40 314.00 L833.81 316.35 L835.26 319.21 L836.69 322.49 L838.10 326.06 L839.45 329.84 L840.70 333.70 L841.84 337.75 L842.89 342.10 L843.88 346.65 L844.84 351.30 L845.80 355.95 L846.80 360.50 L847.83 364.98 L848.86 369.46 L849.89 373.95 L850.93 378.44 L851.97 382.92 L853.00 387.40 L854.03 391.85 L855.07 396.26 L856.10 400.67 L857.13 405.11 L858.17 409.61 L859.20 414.20 L860.23 418.98 L861.27 423.94 L862.30 428.96 L863.33 433.92 L864.37 438.71 L865.40 443.20 L866.44 447.42 L867.50 451.48 L868.55 455.36 L869.59 459.06 L870.61 462.57 L871.60 465.90 L872.49 468.90 L873.28 471.54 L874.04 474.01 L874.87 476.46 L875.83 479.06 L877.00 482.00 L878.38 485.33 L879.89 488.93 L881.54 492.69 L883.33 496.50 L885.25 500.24 L887.30 503.80 L889.54 507.17 L891.98 510.44 L894.55 513.65 L897.19 516.82 L899.83 519.99 L902.40 523.20 L904.89 526.41 L907.35 529.59 L909.81 532.76 L912.30 535.97 L914.86 539.24 L917.50 542.60 L920.21 546.07 L922.94 549.64 L925.74 553.26 L928.63 556.92 L931.64 560.57 L934.80 564.20 L938.15 567.85 L941.68 571.56 L945.33 575.27 L949.04 578.92 L952.75 582.45 L956.40 585.80 L960.00 589.01 L963.60 592.13 L967.20 595.12 L970.80 597.97 L974.40 600.64 L978.00 603.10 L981.60 605.33 L985.20 607.34 L988.80 609.18 L992.40 610.86 L996.00 612.42 L999.60 613.90 L1003.33 615.29 L1007.20 616.59 L1011.08 617.76 L1014.80 618.79 L1018.23 619.68 L1021.20 620.40 L1023.72 620.91 L1025.91 621.20 L1027.79 621.34 L1029.41 621.39 L1030.81 621.43 L1032.00 621.50 L1032.93 621.60 L1033.54 621.67 L1033.92 621.72 L1034.16 621.75 L1034.32 621.78 L1034.50 621.80" stroke="#80ff00" stroke-width="6.0" fill="none" stroke-linejoin="round" stroke-dasharray="24.5 5.3 12.5 5.3"/>
<path d="M194.70 389.10 L199.10 388.91 L205.39 388.67 L212.74 388.37 L220.33 388.01 L227.36 387.59 L233.00 387.10 L237.13 386.57 L240.36 386.01 L243.03 385.38 L245.45 384.66 L247.93 383.81 L250.80 382.80 L254.06 381.54 L257.44 380.03 L260.90 378.39 L264.36 376.75 L267.74 375.21 L271.00 373.90 L274.08 372.81 L277.02 371.86 L279.89 371.01 L282.77 370.24 L285.72 369.55 L288.80 368.90 L292.04 368.33 L295.39 367.85 L298.80 367.44 L302.25 367.07 L305.69 366.70 L309.10 366.30 L312.56 365.92 L316.12 365.60 L319.68 365.28 L323.13 364.91 L326.37 364.44 L329.30 363.80 L331.85 363.03 L334.09 362.17 L336.12 361.21 L338.04 360.13 L339.97 358.89 L342.00 357.50 L344.12 355.98 L346.23 354.37 L348.35 352.62 L350.47 350.67 L352.58 348.48 L354.70 346.00 L356.82 343.09 L358.94 339.77 L361.06 336.21 L363.17 332.58 L365.29 329.05 L367.40 325.80 L369.50 322.73 L371.60 319.70 L373.70 316.76 L375.80 314.00 L377.90 311.49 L380.00 309.30 L382.06 307.54 L384.06 306.19 L386.06 305.07 L388.12 304.06 L390.32 302.99 L392.70 301.70 L395.37 300.15 L398.31 298.45 L401.37 296.69 L404.43 294.97 L407.35 293.37 L410.00 292.00 L412.37 290.78 L414.57 289.62 L416.64 288.59 L418.60 287.75 L420.51 287.16 L422.40 286.90 L424.24 287.00 L425.99 287.43 L427.67 288.11 L429.34 288.98 L431.00 289.97 L432.70 291.00 L434.43 292.24 L436.16 293.76 L437.90 295.41 L439.64 296.99 L441.37 298.35 L443.10 299.30 L444.82 299.64 L446.54 299.46 L448.26 299.04 L449.97 298.69 L451.68 298.68 L453.40 299.30 L455.14 300.68 L456.91 302.63 L458.67 304.92 L460.41 307.34 L462.10 309.67 L463.70 311.70 L465.18 313.41 L466.54 314.96 L467.85 316.42 L469.16 317.87 L470.52 319.37 L472.00 321.00 L473.60 323.07 L475.28 325.57 L477.02 328.13 L478.79 330.36 L480.55 331.88 L482.30 332.30 L484.03 331.42 L485.76 329.52 L487.50 326.91 L489.24 323.89 L490.97 320.78 L492.70 317.90 L494.42 315.03 L496.14 311.89 L497.86 308.65 L499.57 305.51 L501.28 302.67 L503.00 300.30 L504.72 298.36 L506.43 296.67 L508.14 295.28 L509.86 294.20 L511.58 293.47 L513.30 293.10 L515.05 293.20 L516.84 293.77 L518.63 294.68 L520.39 295.81 L522.09 297.02 L523.70 298.20 L525.19 299.42 L526.59 300.81 L527.93 302.28 L529.24 303.77 L530.55 305.20 L531.90 306.50 L533.30 307.59 L534.74 308.53 L536.17 309.41 L537.59 310.33 L538.94 311.39 L540.20 312.70 L541.33 314.32 L542.34 316.19 L543.30 318.21 L544.26 320.26 L545.27 322.26 L546.40 324.10 L547.66 325.94 L549.01 327.89 L550.42 329.79 L551.86 331.45 L553.30 332.71 L554.70 333.40 L556.07 333.35 L557.44 332.66 L558.80 331.57 L560.16 330.31 L561.53 329.11 L562.90 328.20 L564.28 327.37 L565.66 326.40 L567.04 325.49 L568.43 324.83 L569.82 324.64 L571.20 325.10 L572.58 326.44 L573.97 328.53 L575.36 331.09 L576.74 333.80 L578.12 336.37 L579.50 338.50 L580.90 340.24 L582.31 341.84 L583.73 343.29 L585.12 344.61 L586.45 345.78 L587.70 346.80 L588.85 347.76 L589.91 348.68 L590.93 349.45 L591.91 349.98 L592.89 350.16 L593.90 349.90 L594.91 349.18 L595.89 348.06 L596.87 346.61 L597.88 344.85 L598.95 342.83 L600.10 340.60 L601.34 337.80 L602.64 334.32 L603.99 330.59 L605.41 327.01 L606.88 324.01 L608.40 322.00 L610.02 321.10 L611.76 321.01 L613.55 321.50 L615.34 322.33 L617.08 323.27 L618.70 324.10 L620.20 324.97 L621.61 326.09 L622.98 327.33 L624.31 328.54 L625.64 329.58 L627.00 330.30 L628.42 330.71 L629.90 330.91 L631.37 330.95 L632.79 330.84 L634.12 330.61 L635.30 330.30 L636.28 329.95 L637.09 329.56 L637.79 329.04 L638.48 328.34 L639.22 327.39 L640.10 326.10 L641.08 324.78 L642.10 323.54 L643.17 322.04 L644.31 319.95 L645.55 316.91 L646.90 312.60 L648.39 306.71 L650.02 299.46 L651.74 291.28 L653.50 282.57 L655.27 273.77 L657.00 265.30 L658.73 256.85 L660.52 248.03 L662.31 239.11 L664.06 230.37 L665.70 222.11 L667.20 214.60 L668.52 207.73 L669.69 201.27 L670.76 195.27 L671.79 189.81 L672.82 184.96 L673.90 180.80 L675.05 177.36 L676.23 174.61 L677.41 172.47 L678.56 170.87 L679.67 169.73 L680.70 169.00 L681.60 169.03 L682.37 169.95 L683.09 171.34 L683.84 172.78 L684.68 173.84 L685.70 174.10 L686.93 173.24 L688.34 171.52 L689.84 169.43 L691.37 167.43 L692.85 166.00 L694.20 165.60 L695.38 166.33 L696.44 167.84 L697.44 169.91 L698.47 172.34 L699.60 174.90 L700.90 177.40 L702.44 179.88 L704.17 182.53 L706.00 185.32 L707.83 188.23 L709.56 191.23 L711.10 194.30 L712.42 197.45 L713.59 200.69 L714.66 204.03 L715.69 207.46 L716.72 210.99 L717.80 214.60 L718.89 218.46 L719.94 222.59 L720.99 226.82 L722.09 230.95 L723.27 234.81 L724.60 238.20 L726.05 240.99 L727.60 243.29 L729.23 245.32 L730.96 247.27 L732.78 249.37 L734.70 251.80 L736.75 254.89 L738.94 258.54 L741.23 262.32 L743.57 265.82 L745.90 268.62 L748.20 270.30 L750.46 270.68 L752.73 270.06 L755.00 268.74 L757.27 267.03 L759.54 265.21 L761.80 263.60 L764.10 261.95 L766.43 259.96 L768.77 257.87 L771.06 255.92 L773.25 254.35 L775.30 253.40 L777.18 253.16 L778.92 253.46 L780.56 254.14 L782.16 255.04 L783.76 255.98 L785.40 256.80 L787.04 257.38 L788.64 257.81 L790.23 258.29 L791.87 259.01 L793.61 260.15 L795.50 261.90 L797.60 264.47 L799.90 267.76 L802.30 271.48 L804.70 275.31 L807.00 278.99 L809.10 282.20 L811.00 285.07 L812.77 287.85 L814.45 290.46 L816.06 292.83 L817.63 294.87 L819.20 296.50 L820.75 297.63 L822.24 298.30 L823.70 298.64 L825.14 298.79 L826.57 298.86 L828.00 299.00 L829.41 299.01 L830.79 298.74 L832.16 298.41 L833.54 298.20 L834.98 298.33 L836.50 299.00 L838.14 300.21 L839.87 301.79 L841.66 303.71 L843.45 305.92 L845.18 308.36 L846.80 311.00 L848.30 313.91 L849.71 317.15 L851.07 320.63 L852.41 324.26 L853.74 327.95 L855.10 331.60 L856.48 335.24 L857.87 338.93 L859.26 342.69 L860.64 346.50 L862.02 350.37 L863.40 354.30 L864.80 358.36 L866.21 362.56 L867.63 366.83 L869.02 371.06 L870.35 375.18 L871.60 379.10 L872.75 382.74 L873.81 386.15 L874.83 389.45 L875.81 392.75 L876.79 396.16 L877.80 399.80 L878.81 403.70 L879.79 407.77 L880.77 411.95 L881.78 416.19 L882.85 420.43 L884.00 424.60 L885.26 428.72 L886.61 432.84 L888.02 436.95 L889.46 441.06 L890.90 445.18 L892.30 449.30 L893.72 453.55 L895.20 457.96 L896.67 462.38 L898.08 466.64 L899.38 470.60 L900.50 474.10 L901.41 477.00 L902.13 479.39 L902.74 481.48 L903.29 483.47 L903.86 485.58 L904.50 488.00 L905.16 490.63 L905.78 493.29 L906.41 496.06 L907.11 499.03 L907.92 502.28 L908.90 505.90 L910.09 510.07 L911.45 514.75 L912.93 519.72 L914.47 524.74 L916.01 529.57 L917.50 534.00 L918.95 537.93 L920.40 541.52 L921.85 544.94 L923.30 548.32 L924.75 551.83 L926.20 555.60 L927.64 559.69 L929.07 563.99 L930.51 568.41 L931.94 572.86 L933.37 577.26 L934.80 581.50 L936.23 585.61 L937.66 589.67 L939.09 593.67 L940.53 597.61 L941.96 601.48 L943.40 605.30 L944.82 609.05 L946.21 612.74 L947.61 616.38 L949.04 619.94 L950.53 623.45 L952.10 626.90 L953.75 630.28 L955.47 633.61 L957.24 636.87 L959.07 640.07 L960.95 643.21 L962.90 646.30 L964.93 649.36 L967.04 652.39 L969.21 655.36 L971.41 658.24 L973.62 661.00 L975.80 663.60 L977.94 666.03 L980.05 668.30 L982.16 670.46 L984.31 672.52 L986.51 674.52 L988.80 676.50 L991.22 678.47 L993.76 680.41 L996.35 682.30 L998.94 684.10 L1001.48 685.77 L1003.90 687.30 L1006.16 688.72 L1008.31 690.07 L1010.40 691.29 L1012.49 692.36 L1014.64 693.21 L1016.90 693.80 L1019.44 694.05 L1022.24 693.96 L1025.11 693.67 L1027.82 693.28 L1030.19 692.92 L1032.00 692.70 L1033.17 692.61 L1033.86 692.56 L1034.19 692.53 L1034.32 692.52 L1034.37 692.51 L1034.50 692.50" stroke="#ff0000" stroke-width="6.0" fill="none" stroke-linejoin="round"/>
</g>
<g clip-path="url(#k194_1)"><g filter="url(#spk1)">
<path d="M194.70 519.70 L197.30 520.04 L200.98 520.58 L205.30 521.19 L209.83 521.74 L214.14 522.12 L217.80 522.20 L220.76 522.03 L223.36 521.73 L225.73 521.25 L228.03 520.56 L230.41 519.62 L233.00 518.40 L235.79 516.89 L238.65 515.10 L241.59 513.07 L244.59 510.82 L247.66 508.35 L250.80 505.70 L254.06 502.71 L257.44 499.34 L260.90 495.76 L264.36 492.14 L267.74 488.66 L271.00 485.50 L274.08 482.63 L277.02 479.92 L279.89 477.35 L282.77 474.90 L285.72 472.56 L288.80 470.30 L292.07 468.21 L295.48 466.31 L298.96 464.52 L302.43 462.75 L305.84 460.91 L309.10 458.90 L312.23 456.73 L315.29 454.47 L318.27 452.14 L321.18 449.75 L324.02 447.33 L326.80 444.90 L329.48 442.51 L332.05 440.16 L334.56 437.77 L337.03 435.29 L339.50 432.62 L342.00 429.70 L344.56 426.37 L347.16 422.64 L349.76 418.74 L352.32 414.87 L354.81 411.25 L357.20 408.10 L359.49 405.35 L361.71 402.81 L363.87 400.53 L365.95 398.53 L367.96 396.84 L369.90 395.50 L371.64 394.51 L373.17 393.85 L374.63 393.51 L376.16 393.46 L377.90 393.70 L380.00 394.20 L382.59 395.17 L385.57 396.65 L388.77 398.42 L392.00 400.24 L395.07 401.87 L397.80 403.10 L400.08 403.82 L402.04 404.20 L403.85 404.39 L405.67 404.57 L407.66 404.89 L410.00 405.50 L412.75 406.42 L415.80 407.53 L419.03 408.77 L422.32 410.11 L425.55 411.50 L428.60 412.90 L431.57 414.43 L434.56 416.16 L437.49 417.94 L440.29 419.64 L442.85 421.10 L445.10 422.20 L446.91 422.75 L448.32 422.83 L449.51 422.69 L450.63 422.56 L451.87 422.68 L453.40 423.30 L455.21 424.56 L457.15 426.28 L459.21 428.26 L461.36 430.29 L463.56 432.14 L465.80 433.60 L468.13 434.83 L470.60 436.04 L473.12 437.07 L475.63 437.79 L478.04 438.04 L480.30 437.70 L482.39 436.32 L484.38 433.94 L486.27 431.11 L488.10 428.36 L489.87 426.24 L491.60 425.30 L493.30 425.94 L494.96 427.81 L496.57 430.31 L498.10 432.85 L499.55 434.84 L500.90 435.70 L502.06 435.11 L503.04 433.49 L503.93 431.31 L504.84 429.08 L505.86 427.28 L507.10 426.40 L508.57 426.50 L510.18 427.20 L511.91 428.34 L513.73 429.73 L515.60 431.21 L517.50 432.60 L519.43 434.11 L521.41 435.93 L523.45 437.83 L525.54 439.60 L527.69 441.03 L529.90 441.90 L532.18 441.87 L534.55 441.06 L536.97 439.90 L539.42 438.84 L541.87 438.33 L544.30 438.80 L546.76 440.57 L549.28 443.34 L551.81 446.66 L554.27 450.07 L556.63 453.10 L558.80 455.30 L560.76 456.52 L562.54 457.10 L564.21 457.30 L565.81 457.40 L567.43 457.68 L569.10 458.40 L570.83 459.73 L572.56 461.50 L574.30 463.44 L576.04 465.29 L577.77 466.80 L579.50 467.70 L581.15 467.79 L582.71 467.24 L584.27 466.34 L585.91 465.40 L587.73 464.72 L589.80 464.60 L592.26 465.20 L595.07 466.32 L598.04 467.70 L601.02 469.08 L603.83 470.20 L606.30 470.80 L608.36 470.80 L610.14 470.38 L611.76 469.70 L613.31 468.92 L614.92 468.20 L616.70 467.70 L618.75 467.57 L620.99 467.71 L623.29 467.91 L625.51 467.96 L627.49 467.62 L629.10 466.70 L630.26 465.18 L631.08 463.23 L631.67 460.90 L632.14 458.25 L632.61 455.33 L633.20 452.20 L633.86 448.69 L634.49 444.73 L635.12 440.49 L635.78 436.17 L636.50 431.95 L637.30 428.00 L638.20 424.68 L639.19 421.92 L640.23 419.26 L641.31 416.22 L642.41 412.36 L643.50 407.20 L644.60 400.44 L645.73 392.39 L646.87 383.51 L648.02 374.26 L649.17 365.10 L650.30 356.50 L651.42 348.34 L652.54 340.23 L653.65 332.22 L654.76 324.34 L655.88 316.66 L657.00 309.20 L658.13 302.01 L659.26 295.04 L660.40 288.26 L661.54 281.63 L662.67 275.09 L663.80 268.60 L664.92 262.18 L666.04 255.85 L667.15 249.63 L668.26 243.49 L669.38 237.45 L670.50 231.50 L671.65 225.72 L672.82 220.11 L674.00 214.61 L675.16 209.10 L676.26 203.49 L677.30 197.70 L678.27 191.23 L679.19 184.05 L680.07 176.77 L680.90 170.02 L681.67 164.39 L682.40 160.50 L683.05 158.99 L683.63 159.50 L684.16 161.14 L684.66 163.02 L685.17 164.23 L685.70 163.90 L686.20 161.67 L686.64 158.20 L687.08 154.06 L687.59 149.86 L688.24 146.18 L689.10 143.60 L690.20 142.16 L691.50 141.37 L692.93 141.11 L694.46 141.23 L696.03 141.57 L697.60 142.00 L699.19 142.58 L700.85 143.43 L702.55 144.51 L704.27 145.78 L706.00 147.19 L707.70 148.70 L709.38 150.27 L711.06 151.94 L712.74 153.75 L714.43 155.75 L716.11 157.98 L717.80 160.50 L719.50 163.41 L721.20 166.70 L722.90 170.22 L724.60 173.84 L726.30 177.42 L728.00 180.80 L729.71 184.19 L731.43 187.75 L733.16 191.26 L734.86 194.51 L736.51 197.30 L738.10 199.40 L739.61 200.52 L741.06 200.78 L742.46 200.57 L743.83 200.29 L745.21 200.33 L746.60 201.10 L747.99 202.69 L749.34 204.79 L750.70 207.22 L752.08 209.79 L753.50 212.31 L755.00 214.60 L756.55 216.72 L758.11 218.84 L759.73 220.92 L761.42 222.90 L763.20 224.74 L765.10 226.40 L767.17 227.84 L769.41 229.10 L771.74 230.23 L774.09 231.25 L776.40 232.23 L778.60 233.20 L780.76 233.88 L782.94 234.18 L785.08 234.43 L787.10 234.96 L788.93 236.11 L790.50 238.20 L791.71 241.40 L792.61 245.47 L793.32 250.16 L793.96 255.20 L794.64 260.34 L795.50 265.30 L796.49 270.29 L797.51 275.56 L798.58 280.93 L799.72 286.19 L800.95 291.18 L802.30 295.70 L803.83 299.64 L805.53 303.13 L807.32 306.33 L809.13 309.43 L810.85 312.59 L812.40 316.00 L813.75 319.73 L814.96 323.65 L816.09 327.64 L817.20 331.57 L818.35 335.30 L819.60 338.70 L820.97 341.68 L822.41 344.31 L823.89 346.76 L825.38 349.14 L826.86 351.61 L828.30 354.30 L829.69 357.25 L831.07 360.35 L832.42 363.54 L833.78 366.74 L835.13 369.88 L836.50 372.90 L837.85 375.76 L839.19 378.51 L840.52 381.21 L841.88 383.90 L843.30 386.65 L844.80 389.50 L846.40 392.52 L848.09 395.67 L849.82 398.88 L851.59 402.06 L853.36 405.13 L855.10 408.00 L856.79 410.67 L858.46 413.21 L860.12 415.63 L861.81 417.97 L863.56 420.25 L865.40 422.50 L867.35 424.69 L869.38 426.79 L871.47 428.83 L873.59 430.84 L875.71 432.86 L877.80 434.90 L879.87 436.97 L881.93 439.03 L884.00 441.10 L886.07 443.17 L888.13 445.23 L890.20 447.30 L892.27 449.32 L894.33 451.29 L896.40 453.26 L898.47 455.28 L900.53 457.41 L902.60 459.70 L904.58 462.16 L906.46 464.74 L908.34 467.43 L910.32 470.21 L912.51 473.08 L915.00 476.00 L917.85 479.03 L920.99 482.18 L924.32 485.41 L927.79 488.67 L931.31 491.92 L934.80 495.10 L938.30 498.25 L941.87 501.43 L945.49 504.58 L949.13 507.69 L952.78 510.70 L956.40 513.60 L960.00 516.42 L963.60 519.19 L967.20 521.88 L970.80 524.43 L974.40 526.82 L978.00 529.00 L981.60 530.92 L985.20 532.61 L988.80 534.14 L992.40 535.55 L996.00 536.92 L999.60 538.30 L1003.33 539.73 L1007.20 541.16 L1011.08 542.55 L1014.80 543.84 L1018.23 544.97 L1021.20 545.90 L1023.72 546.59 L1025.91 547.07 L1027.79 547.39 L1029.41 547.62 L1030.81 547.81 L1032.00 548.00 L1032.93 548.18 L1033.54 548.30 L1033.92 548.38 L1034.16 548.43 L1034.32 548.46 L1034.50 548.50" stroke="#1a1a1a" stroke-width="6.0" fill="none" stroke-linejoin="round"/>
<path d="M194.70 447.40 L197.58 447.16 L201.63 446.85 L206.39 446.47 L211.40 446.02 L216.19 445.50 L220.30 444.90 L223.69 444.29 L226.72 443.67 L229.53 442.98 L232.27 442.15 L235.08 441.11 L238.10 439.80 L241.28 438.19 L244.50 436.35 L247.78 434.29 L251.17 432.06 L254.70 429.69 L258.40 427.20 L262.39 424.56 L266.65 421.74 L271.05 418.78 L275.45 415.71 L279.71 412.57 L283.70 409.40 L287.43 406.16 L291.03 402.81 L294.48 399.40 L297.80 395.95 L300.97 392.51 L304.00 389.10 L306.86 385.67 L309.54 382.17 L312.08 378.68 L314.51 375.26 L316.87 371.98 L319.20 368.90 L321.46 365.96 L323.62 363.09 L325.71 360.36 L327.76 357.83 L329.81 355.59 L331.90 353.70 L334.02 352.13 L336.14 350.83 L338.26 349.81 L340.37 349.08 L342.49 348.67 L344.60 348.60 L346.68 348.99 L348.71 349.85 L350.74 351.03 L352.81 352.37 L354.95 353.71 L357.20 354.90 L359.52 355.99 L361.89 357.12 L364.32 358.26 L366.86 359.36 L369.54 360.38 L372.40 361.30 L375.58 362.20 L379.07 363.14 L382.71 364.00 L386.31 364.69 L389.70 365.09 L392.70 365.10 L395.35 364.65 L397.80 363.81 L400.03 362.68 L402.05 361.38 L403.84 360.02 L405.40 358.70 L406.59 357.39 L407.40 356.00 L407.97 354.54 L408.49 353.04 L409.11 351.52 L410.00 350.00 L411.15 348.45 L412.42 346.84 L413.79 345.21 L415.25 343.60 L416.76 342.05 L418.30 340.60 L419.90 339.06 L421.59 337.35 L423.33 335.71 L425.09 334.35 L426.86 333.50 L428.60 333.40 L430.35 334.15 L432.14 335.60 L433.94 337.56 L435.69 339.86 L437.36 342.30 L438.90 344.70 L440.28 347.16 L441.52 349.84 L442.68 352.67 L443.81 355.58 L444.97 358.48 L446.20 361.30 L447.50 364.40 L448.83 367.91 L450.17 371.43 L451.55 374.52 L452.96 376.78 L454.40 377.80 L455.87 377.27 L457.38 375.47 L458.91 372.84 L460.48 369.83 L462.07 366.86 L463.70 364.40 L465.40 362.44 L467.17 360.64 L468.97 358.89 L470.76 357.10 L472.48 355.17 L474.10 353.00 L475.57 350.21 L476.91 346.81 L478.20 343.26 L479.49 340.05 L480.83 337.64 L482.30 336.50 L483.93 336.84 L485.69 338.30 L487.50 340.57 L489.31 343.32 L491.07 346.20 L492.70 348.90 L494.22 351.70 L495.67 354.93 L497.06 358.29 L498.40 361.52 L499.67 364.32 L500.90 366.40 L501.95 367.86 L502.81 368.93 L503.61 369.57 L504.49 369.75 L505.61 369.40 L507.10 368.50 L509.08 366.49 L511.47 363.31 L514.09 359.61 L516.77 356.05 L519.33 353.29 L521.60 352.00 L523.51 352.39 L525.19 353.99 L526.75 356.39 L528.31 359.20 L529.99 362.00 L531.90 364.40 L534.12 366.65 L536.58 369.11 L539.15 371.57 L541.72 373.81 L544.18 375.63 L546.40 376.80 L548.38 376.98 L550.22 376.27 L551.94 375.12 L553.57 374.01 L555.15 373.38 L556.70 373.70 L558.18 375.09 L559.54 377.20 L560.85 379.80 L562.16 382.64 L563.52 385.49 L565.00 388.10 L566.58 390.67 L568.21 393.43 L569.89 396.19 L571.64 398.76 L573.44 400.96 L575.30 402.60 L577.28 403.65 L579.39 404.27 L581.56 404.52 L583.72 404.45 L585.79 404.12 L587.70 403.60 L589.45 402.56 L591.10 400.90 L592.67 398.98 L594.16 397.18 L595.60 395.86 L597.00 395.40 L598.30 395.96 L599.47 397.28 L600.59 399.09 L601.72 401.11 L602.93 403.07 L604.30 404.70 L605.84 406.19 L607.51 407.79 L609.26 409.33 L611.06 410.64 L612.85 411.56 L614.60 411.90 L616.38 411.46 L618.23 410.33 L620.08 408.81 L621.85 407.17 L623.48 405.70 L624.90 404.70 L626.06 404.24 L627.03 404.11 L627.84 404.16 L628.57 404.23 L629.27 404.16 L630.00 403.80 L630.71 403.42 L631.34 403.20 L631.94 402.84 L632.55 402.06 L633.22 400.54 L634.00 398.00 L634.85 394.59 L635.73 390.57 L636.66 385.82 L637.69 380.23 L638.82 373.66 L640.10 366.00 L641.56 356.79 L643.20 346.03 L644.95 334.30 L646.76 322.17 L648.56 310.21 L650.30 299.00 L651.99 288.55 L653.67 278.40 L655.36 268.42 L657.04 258.48 L658.72 248.45 L660.40 238.20 L662.12 227.34 L663.89 215.89 L665.66 204.36 L667.38 193.22 L669.01 182.97 L670.50 174.10 L671.83 166.57 L673.01 159.97 L674.11 154.26 L675.16 149.39 L676.21 145.32 L677.30 142.00 L678.38 139.71 L679.41 138.55 L680.44 138.19 L681.51 138.29 L682.68 138.54 L684.00 138.60 L685.50 138.51 L687.14 138.54 L688.89 138.71 L690.68 139.05 L692.47 139.57 L694.20 140.30 L695.89 141.19 L697.57 142.23 L699.25 143.44 L700.93 144.90 L702.61 146.63 L704.30 148.70 L706.03 151.19 L707.82 154.08 L709.61 157.26 L711.36 160.60 L713.00 163.98 L714.50 167.30 L715.78 170.66 L716.86 174.19 L717.85 177.77 L718.84 181.27 L719.92 184.59 L721.20 187.60 L722.66 190.20 L724.22 192.48 L725.88 194.56 L727.63 196.60 L729.47 198.73 L731.40 201.10 L733.50 203.72 L735.78 206.48 L738.16 209.34 L740.53 212.24 L742.81 215.14 L744.90 218.00 L746.74 220.90 L748.39 223.89 L749.95 226.88 L751.51 229.77 L753.16 232.48 L755.00 234.90 L757.09 237.09 L759.37 239.14 L761.75 241.01 L764.13 242.63 L766.41 243.98 L768.50 245.00 L770.38 245.51 L772.11 245.50 L773.76 245.21 L775.35 244.87 L776.95 244.72 L778.60 245.00 L780.30 245.62 L782.00 246.39 L783.70 247.35 L785.40 248.54 L787.10 250.01 L788.80 251.80 L790.45 254.06 L792.05 256.78 L793.64 259.78 L795.29 262.87 L797.02 265.87 L798.90 268.60 L801.02 271.12 L803.37 273.57 L805.81 275.94 L808.21 278.19 L810.45 280.29 L812.40 282.20 L814.00 283.77 L815.34 285.00 L816.52 286.07 L817.63 287.18 L818.76 288.53 L820.00 290.30 L821.37 292.47 L822.79 294.87 L824.24 297.51 L825.66 300.37 L827.03 303.47 L828.30 306.80 L829.45 310.38 L830.52 314.22 L831.53 318.29 L832.51 322.57 L833.49 327.01 L834.50 331.60 L835.53 336.41 L836.57 341.47 L837.61 346.71 L838.64 352.04 L839.67 357.36 L840.70 362.60 L841.72 367.86 L842.74 373.24 L843.75 378.62 L844.76 383.88 L845.78 388.91 L846.80 393.60 L847.80 397.86 L848.78 401.78 L849.76 405.47 L850.77 409.04 L851.84 412.61 L853.00 416.30 L854.24 420.11 L855.54 423.94 L856.89 427.77 L858.31 431.58 L859.78 435.33 L861.30 439.00 L862.90 442.69 L864.58 446.43 L866.32 450.12 L868.09 453.64 L869.85 456.87 L871.60 459.70 L873.33 461.97 L875.06 463.75 L876.80 465.24 L878.54 466.64 L880.27 468.16 L882.00 470.00 L883.72 472.19 L885.45 474.59 L887.17 477.09 L888.89 479.64 L890.60 482.13 L892.30 484.50 L893.86 486.61 L895.26 488.49 L896.64 490.33 L898.19 492.29 L900.05 494.56 L902.40 497.30 L905.33 500.69 L908.75 504.63 L912.48 508.87 L916.37 513.17 L920.27 517.29 L924.00 521.00 L927.60 524.28 L931.20 527.32 L934.80 530.19 L938.40 532.93 L942.00 535.62 L945.60 538.30 L949.20 540.94 L952.80 543.50 L956.40 545.99 L960.00 548.45 L963.60 550.91 L967.20 553.40 L970.80 555.99 L974.40 558.67 L978.00 561.35 L981.60 563.94 L985.20 566.35 L988.80 568.50 L992.40 570.38 L996.00 572.08 L999.60 573.59 L1003.20 574.94 L1006.80 576.14 L1010.40 577.20 L1014.22 578.08 L1018.31 578.78 L1022.39 579.32 L1026.21 579.74 L1029.51 580.09 L1032.00 580.40 L1033.55 580.63 L1034.34 580.76 L1034.60 580.80 L1034.56 580.80 L1034.45 580.79 L1034.50 580.80" stroke="#00ff40" stroke-width="6.0" fill="none" stroke-linejoin="round"/>
<path d="M194.70 408.10 L197.58 408.39 L201.63 408.84 L206.39 409.36 L211.40 409.82 L216.19 410.14 L220.30 410.20 L223.72 410.06 L226.81 409.80 L229.69 409.39 L232.46 408.80 L235.23 407.98 L238.10 406.90 L241.03 405.50 L243.91 403.80 L246.79 401.87 L249.71 399.79 L252.70 397.64 L255.80 395.50 L259.03 393.27 L262.37 390.88 L265.79 388.42 L269.24 385.97 L272.69 383.64 L276.10 381.50 L279.51 379.59 L282.96 377.84 L286.41 376.21 L289.83 374.62 L293.17 373.04 L296.40 371.40 L299.53 369.81 L302.59 368.32 L305.57 366.83 L308.48 365.24 L311.32 363.43 L314.10 361.30 L316.81 358.76 L319.44 355.89 L322.01 352.80 L324.51 349.62 L326.94 346.48 L329.30 343.50 L331.56 340.60 L333.72 337.67 L335.81 334.77 L337.86 331.98 L339.91 329.36 L342.00 327.00 L344.12 324.87 L346.23 322.91 L348.35 321.12 L350.47 319.53 L352.58 318.12 L354.70 316.90 L356.79 315.90 L358.84 315.10 L360.89 314.49 L362.98 314.06 L365.14 313.76 L367.40 313.60 L369.79 313.56 L372.28 313.67 L374.84 313.92 L377.44 314.32 L380.04 314.88 L382.60 315.60 L385.17 316.50 L387.78 317.59 L390.39 318.82 L392.96 320.19 L395.44 321.66 L397.80 323.20 L400.00 324.80 L402.08 326.47 L404.07 328.24 L406.03 330.14 L407.99 332.18 L410.00 334.40 L412.06 336.88 L414.12 339.62 L416.19 342.51 L418.26 345.43 L420.33 348.26 L422.40 350.90 L424.51 353.56 L426.69 356.39 L428.86 359.14 L430.97 361.55 L432.97 363.39 L434.80 364.40 L436.42 364.52 L437.87 363.93 L439.21 362.76 L440.49 361.14 L441.77 359.21 L443.10 357.10 L444.42 354.65 L445.69 351.74 L446.94 348.51 L448.26 345.12 L449.69 341.73 L451.30 338.50 L453.15 335.22 L455.20 331.73 L457.36 328.23 L459.56 324.95 L461.70 322.10 L463.70 319.90 L465.57 318.29 L467.40 317.10 L469.16 316.34 L470.87 316.03 L472.52 316.18 L474.10 316.80 L475.57 318.05 L476.91 319.96 L478.20 322.32 L479.49 324.96 L480.83 327.68 L482.30 330.30 L483.95 332.97 L485.76 335.88 L487.62 338.88 L489.46 341.80 L491.18 344.49 L492.70 346.80 L493.98 348.97 L495.08 351.17 L496.06 353.14 L496.99 354.63 L497.92 355.37 L498.90 355.10 L499.89 353.50 L500.81 350.70 L501.74 347.16 L502.73 343.32 L503.83 339.62 L505.10 336.50 L506.58 333.79 L508.23 331.08 L509.99 328.52 L511.81 326.23 L513.64 324.35 L515.40 323.00 L517.14 322.16 L518.91 321.71 L520.67 321.68 L522.41 322.05 L524.10 322.86 L525.70 324.10 L527.18 326.08 L528.54 328.84 L529.85 332.03 L531.16 335.29 L532.52 338.27 L534.00 340.60 L535.60 342.13 L537.28 343.12 L539.02 343.83 L540.79 344.50 L542.55 345.41 L544.30 346.80 L546.00 348.85 L547.69 351.37 L549.37 354.12 L551.08 356.86 L552.85 359.33 L554.70 361.30 L556.63 362.81 L558.61 364.07 L560.65 365.07 L562.74 365.80 L564.89 366.25 L567.10 366.40 L569.43 365.99 L571.90 364.96 L574.42 363.66 L576.92 362.39 L579.31 361.50 L581.50 361.30 L583.49 361.91 L585.34 363.08 L587.09 364.63 L588.74 366.34 L590.34 368.03 L591.90 369.50 L593.37 370.87 L594.71 372.31 L596.00 373.73 L597.29 375.02 L598.63 376.08 L600.10 376.80 L601.66 377.04 L603.26 376.86 L604.91 376.44 L606.66 375.99 L608.51 375.67 L610.50 375.70 L612.78 376.18 L615.35 376.98 L618.03 377.92 L620.64 378.84 L622.99 379.56 L624.90 379.90 L626.19 380.16 L626.98 380.54 L627.51 380.72 L628.02 380.38 L628.77 379.18 L630.00 376.80 L631.80 373.33 L634.00 369.06 L636.44 363.93 L638.94 357.91 L641.35 350.94 L643.50 343.00 L645.38 333.61 L647.11 322.72 L648.76 310.89 L650.35 298.68 L651.95 286.66 L653.60 275.40 L655.30 264.83 L657.00 254.50 L658.70 244.36 L660.40 234.36 L662.10 224.46 L663.80 214.60 L665.53 204.29 L667.30 193.47 L669.06 182.74 L670.78 172.71 L672.41 164.00 L673.90 157.20 L675.17 152.73 L676.23 150.17 L677.19 148.93 L678.19 148.39 L679.32 147.95 L680.70 147.00 L682.40 145.49 L684.33 143.89 L686.39 142.38 L688.51 141.16 L690.57 140.40 L692.50 140.30 L694.30 140.97 L696.05 142.30 L697.76 144.09 L699.41 146.16 L701.03 148.33 L702.60 150.40 L704.11 152.26 L705.56 154.02 L706.96 155.88 L708.33 158.02 L709.71 160.63 L711.10 163.90 L712.47 168.16 L713.78 173.34 L715.09 178.99 L716.44 184.67 L717.90 189.92 L719.50 194.30 L721.30 197.79 L723.27 200.74 L725.34 203.27 L727.44 205.49 L729.48 207.53 L731.40 209.50 L733.19 211.17 L734.90 212.40 L736.56 213.44 L738.20 214.55 L739.84 215.98 L741.50 218.00 L743.14 220.81 L744.74 224.24 L746.34 227.99 L747.98 231.77 L749.72 235.28 L751.60 238.20 L753.65 240.60 L755.85 242.72 L758.14 244.56 L760.47 246.13 L762.81 247.41 L765.10 248.40 L767.35 248.87 L769.60 248.78 L771.84 248.41 L774.09 248.03 L776.34 247.93 L778.60 248.40 L780.90 249.34 L783.26 250.51 L785.61 251.97 L787.92 253.75 L790.13 255.91 L792.20 258.50 L794.05 261.67 L795.70 265.41 L797.26 269.52 L798.81 273.83 L800.46 278.12 L802.30 282.20 L804.41 286.34 L806.74 290.73 L809.17 295.11 L811.57 299.21 L813.82 302.77 L815.80 305.50 L817.47 307.21 L818.92 308.08 L820.22 308.39 L821.45 308.46 L822.68 308.56 L824.00 309.00 L825.39 309.58 L826.79 310.01 L828.19 310.49 L829.60 311.19 L831.00 312.30 L832.40 314.00 L833.81 316.35 L835.26 319.21 L836.69 322.49 L838.10 326.06 L839.45 329.84 L840.70 333.70 L841.84 337.75 L842.89 342.10 L843.88 346.65 L844.84 351.30 L845.80 355.95 L846.80 360.50 L847.83 364.98 L848.86 369.46 L849.89 373.95 L850.93 378.44 L851.97 382.92 L853.00 387.40 L854.03 391.85 L855.07 396.26 L856.10 400.67 L857.13 405.11 L858.17 409.61 L859.20 414.20 L860.23 418.98 L861.27 423.94 L862.30 428.96 L863.33 433.92 L864.37 438.71 L865.40 443.20 L866.44 447.42 L867.50 451.48 L868.55 455.36 L869.59 459.06 L870.61 462.57 L871.60 465.90 L872.49 468.90 L873.28 471.54 L874.04 474.01 L874.87 476.46 L875.83 479.06 L877.00 482.00 L878.38 485.33 L879.89 488.93 L881.54 492.69 L883.33 496.50 L885.25 500.24 L887.30 503.80 L889.54 507.17 L891.98 510.44 L894.55 513.65 L897.19 516.82 L899.83 519.99 L902.40 523.20 L904.89 526.41 L907.35 529.59 L909.81 532.76 L912.30 535.97 L914.86 539.24 L917.50 542.60 L920.21 546.07 L922.94 549.64 L925.74 553.26 L928.63 556.92 L931.64 560.57 L934.80 564.20 L938.15 567.85 L941.68 571.56 L945.33 575.27 L949.04 578.92 L952.75 582.45 L956.40 585.80 L960.00 589.01 L963.60 592.13 L967.20 595.12 L970.80 597.97 L974.40 600.64 L978.00 603.10 L981.60 605.33 L985.20 607.34 L988.80 609.18 L992.40 610.86 L996.00 612.42 L999.60 613.90 L1003.33 615.29 L1007.20 616.59 L1011.08 617.76 L1014.80 618.79 L1018.23 619.68 L1021.20 620.40 L1023.72 620.91 L1025.91 621.20 L1027.79 621.34 L1029.41 621.39 L1030.81 621.43 L1032.00 621.50 L1032.93 621.60 L1033.54 621.67 L1033.92 621.72 L1034.16 621.75 L1034.32 621.78 L1034.50 621.80" stroke="#80ff00" stroke-width="6.0" fill="none" stroke-linejoin="round" stroke-dasharray="24.5 5.3 12.5 5.3"/>
<path d="M194.70 389.10 L199.10 388.91 L205.39 388.67 L212.74 388.37 L220.33 388.01 L227.36 387.59 L233.00 387.10 L237.13 386.57 L240.36 386.01 L243.03 385.38 L245.45 384.66 L247.93 383.81 L250.80 382.80 L254.06 381.54 L257.44 380.03 L260.90 378.39 L264.36 376.75 L267.74 375.21 L271.00 373.90 L274.08 372.81 L277.02 371.86 L279.89 371.01 L282.77 370.24 L285.72 369.55 L288.80 368.90 L292.04 368.33 L295.39 367.85 L298.80 367.44 L302.25 367.07 L305.69 366.70 L309.10 366.30 L312.56 365.92 L316.12 365.60 L319.68 365.28 L323.13 364.91 L326.37 364.44 L329.30 363.80 L331.85 363.03 L334.09 362.17 L336.12 361.21 L338.04 360.13 L339.97 358.89 L342.00 357.50 L344.12 355.98 L346.23 354.37 L348.35 352.62 L350.47 350.67 L352.58 348.48 L354.70 346.00 L356.82 343.09 L358.94 339.77 L361.06 336.21 L363.17 332.58 L365.29 329.05 L367.40 325.80 L369.50 322.73 L371.60 319.70 L373.70 316.76 L375.80 314.00 L377.90 311.49 L380.00 309.30 L382.06 307.54 L384.06 306.19 L386.06 305.07 L388.12 304.06 L390.32 302.99 L392.70 301.70 L395.37 300.15 L398.31 298.45 L401.37 296.69 L404.43 294.97 L407.35 293.37 L410.00 292.00 L412.37 290.78 L414.57 289.62 L416.64 288.59 L418.60 287.75 L420.51 287.16 L422.40 286.90 L424.24 287.00 L425.99 287.43 L427.67 288.11 L429.34 288.98 L431.00 289.97 L432.70 291.00 L434.43 292.24 L436.16 293.76 L437.90 295.41 L439.64 296.99 L441.37 298.35 L443.10 299.30 L444.82 299.64 L446.54 299.46 L448.26 299.04 L449.97 298.69 L451.68 298.68 L453.40 299.30 L455.14 300.68 L456.91 302.63 L458.67 304.92 L460.41 307.34 L462.10 309.67 L463.70 311.70 L465.18 313.41 L466.54 314.96 L467.85 316.42 L469.16 317.87 L470.52 319.37 L472.00 321.00 L473.60 323.07 L475.28 325.57 L477.02 328.13 L478.79 330.36 L480.55 331.88 L482.30 332.30 L484.03 331.42 L485.76 329.52 L487.50 326.91 L489.24 323.89 L490.97 320.78 L492.70 317.90 L494.42 315.03 L496.14 311.89 L497.86 308.65 L499.57 305.51 L501.28 302.67 L503.00 300.30 L504.72 298.36 L506.43 296.67 L508.14 295.28 L509.86 294.20 L511.58 293.47 L513.30 293.10 L515.05 293.20 L516.84 293.77 L518.63 294.68 L520.39 295.81 L522.09 297.02 L523.70 298.20 L525.19 299.42 L526.59 300.81 L527.93 302.28 L529.24 303.77 L530.55 305.20 L531.90 306.50 L533.30 307.59 L534.74 308.53 L536.17 309.41 L537.59 310.33 L538.94 311.39 L540.20 312.70 L541.33 314.32 L542.34 316.19 L543.30 318.21 L544.26 320.26 L545.27 322.26 L546.40 324.10 L547.66 325.94 L549.01 327.89 L550.42 329.79 L551.86 331.45 L553.30 332.71 L554.70 333.40 L556.07 333.35 L557.44 332.66 L558.80 331.57 L560.16 330.31 L561.53 329.11 L562.90 328.20 L564.28 327.37 L565.66 326.40 L567.04 325.49 L568.43 324.83 L569.82 324.64 L571.20 325.10 L572.58 326.44 L573.97 328.53 L575.36 331.09 L576.74 333.80 L578.12 336.37 L579.50 338.50 L580.90 340.24 L582.31 341.84 L583.73 343.29 L585.12 344.61 L586.45 345.78 L587.70 346.80 L588.85 347.76 L589.91 348.68 L590.93 349.45 L591.91 349.98 L592.89 350.16 L593.90 349.90 L594.91 349.18 L595.89 348.06 L596.87 346.61 L597.88 344.85 L598.95 342.83 L600.10 340.60 L601.34 337.80 L602.64 334.32 L603.99 330.59 L605.41 327.01 L606.88 324.01 L608.40 322.00 L610.02 321.10 L611.76 321.01 L613.55 321.50 L615.34 322.33 L617.08 323.27 L618.70 324.10 L620.20 324.97 L621.61 326.09 L622.98 327.33 L624.31 328.54 L625.64 329.58 L627.00 330.30 L628.42 330.71 L629.90 330.91 L631.37 330.95 L632.79 330.84 L634.12 330.61 L635.30 330.30 L636.28 329.95 L637.09 329.56 L637.79 329.04 L638.48 328.34 L639.22 327.39 L640.10 326.10 L641.08 324.78 L642.10 323.54 L643.17 322.04 L644.31 319.95 L645.55 316.91 L646.90 312.60 L648.39 306.71 L650.02 299.46 L651.74 291.28 L653.50 282.57 L655.27 273.77 L657.00 265.30 L658.73 256.85 L660.52 248.03 L662.31 239.11 L664.06 230.37 L665.70 222.11 L667.20 214.60 L668.52 207.73 L669.69 201.27 L670.76 195.27 L671.79 189.81 L672.82 184.96 L673.90 180.80 L675.05 177.36 L676.23 174.61 L677.41 172.47 L678.56 170.87 L679.67 169.73 L680.70 169.00 L681.60 169.03 L682.37 169.95 L683.09 171.34 L683.84 172.78 L684.68 173.84 L685.70 174.10 L686.93 173.24 L688.34 171.52 L689.84 169.43 L691.37 167.43 L692.85 166.00 L694.20 165.60 L695.38 166.33 L696.44 167.84 L697.44 169.91 L698.47 172.34 L699.60 174.90 L700.90 177.40 L702.44 179.88 L704.17 182.53 L706.00 185.32 L707.83 188.23 L709.56 191.23 L711.10 194.30 L712.42 197.45 L713.59 200.69 L714.66 204.03 L715.69 207.46 L716.72 210.99 L717.80 214.60 L718.89 218.46 L719.94 222.59 L720.99 226.82 L722.09 230.95 L723.27 234.81 L724.60 238.20 L726.05 240.99 L727.60 243.29 L729.23 245.32 L730.96 247.27 L732.78 249.37 L734.70 251.80 L736.75 254.89 L738.94 258.54 L741.23 262.32 L743.57 265.82 L745.90 268.62 L748.20 270.30 L750.46 270.68 L752.73 270.06 L755.00 268.74 L757.27 267.03 L759.54 265.21 L761.80 263.60 L764.10 261.95 L766.43 259.96 L768.77 257.87 L771.06 255.92 L773.25 254.35 L775.30 253.40 L777.18 253.16 L778.92 253.46 L780.56 254.14 L782.16 255.04 L783.76 255.98 L785.40 256.80 L787.04 257.38 L788.64 257.81 L790.23 258.29 L791.87 259.01 L793.61 260.15 L795.50 261.90 L797.60 264.47 L799.90 267.76 L802.30 271.48 L804.70 275.31 L807.00 278.99 L809.10 282.20 L811.00 285.07 L812.77 287.85 L814.45 290.46 L816.06 292.83 L817.63 294.87 L819.20 296.50 L820.75 297.63 L822.24 298.30 L823.70 298.64 L825.14 298.79 L826.57 298.86 L828.00 299.00 L829.41 299.01 L830.79 298.74 L832.16 298.41 L833.54 298.20 L834.98 298.33 L836.50 299.00 L838.14 300.21 L839.87 301.79 L841.66 303.71 L843.45 305.92 L845.18 308.36 L846.80 311.00 L848.30 313.91 L849.71 317.15 L851.07 320.63 L852.41 324.26 L853.74 327.95 L855.10 331.60 L856.48 335.24 L857.87 338.93 L859.26 342.69 L860.64 346.50 L862.02 350.37 L863.40 354.30 L864.80 358.36 L866.21 362.56 L867.63 366.83 L869.02 371.06 L870.35 375.18 L871.60 379.10 L872.75 382.74 L873.81 386.15 L874.83 389.45 L875.81 392.75 L876.79 396.16 L877.80 399.80 L878.81 403.70 L879.79 407.77 L880.77 411.95 L881.78 416.19 L882.85 420.43 L884.00 424.60 L885.26 428.72 L886.61 432.84 L888.02 436.95 L889.46 441.06 L890.90 445.18 L892.30 449.30 L893.72 453.55 L895.20 457.96 L896.67 462.38 L898.08 466.64 L899.38 470.60 L900.50 474.10 L901.41 477.00 L902.13 479.39 L902.74 481.48 L903.29 483.47 L903.86 485.58 L904.50 488.00 L905.16 490.63 L905.78 493.29 L906.41 496.06 L907.11 499.03 L907.92 502.28 L908.90 505.90 L910.09 510.07 L911.45 514.75 L912.93 519.72 L914.47 524.74 L916.01 529.57 L917.50 534.00 L918.95 537.93 L920.40 541.52 L921.85 544.94 L923.30 548.32 L924.75 551.83 L926.20 555.60 L927.64 559.69 L929.07 563.99 L930.51 568.41 L931.94 572.86 L933.37 577.26 L934.80 581.50 L936.23 585.61 L937.66 589.67 L939.09 593.67 L940.53 597.61 L941.96 601.48 L943.40 605.30 L944.82 609.05 L946.21 612.74 L947.61 616.38 L949.04 619.94 L950.53 623.45 L952.10 626.90 L953.75 630.28 L955.47 633.61 L957.24 636.87 L959.07 640.07 L960.95 643.21 L962.90 646.30 L964.93 649.36 L967.04 652.39 L969.21 655.36 L971.41 658.24 L973.62 661.00 L975.80 663.60 L977.94 666.03 L980.05 668.30 L982.16 670.46 L984.31 672.52 L986.51 674.52 L988.80 676.50 L991.22 678.47 L993.76 680.41 L996.35 682.30 L998.94 684.10 L1001.48 685.77 L1003.90 687.30 L1006.16 688.72 L1008.31 690.07 L1010.40 691.29 L1012.49 692.36 L1014.64 693.21 L1016.90 693.80 L1019.44 694.05 L1022.24 693.96 L1025.11 693.67 L1027.82 693.28 L1030.19 692.92 L1032.00 692.70 L1033.17 692.61 L1033.86 692.56 L1034.19 692.53 L1034.32 692.52 L1034.37 692.51 L1034.50 692.50" stroke="#ff0000" stroke-width="6.0" fill="none" stroke-linejoin="round"/>
</g></g>
<g clip-path="url(#k194_2)"><g filter="url(#spk2)">
<path d="M194.70 519.70 L197.30 520.04 L200.98 520.58 L205.30 521.19 L209.83 521.74 L214.14 522.12 L217.80 522.20 L220.76 522.03 L223.36 521.73 L225.73 521.25 L228.03 520.56 L230.41 519.62 L233.00 518.40 L235.79 516.89 L238.65 515.10 L241.59 513.07 L244.59 510.82 L247.66 508.35 L250.80 505.70 L254.06 502.71 L257.44 499.34 L260.90 495.76 L264.36 492.14 L267.74 488.66 L271.00 485.50 L274.08 482.63 L277.02 479.92 L279.89 477.35 L282.77 474.90 L285.72 472.56 L288.80 470.30 L292.07 468.21 L295.48 466.31 L298.96 464.52 L302.43 462.75 L305.84 460.91 L309.10 458.90 L312.23 456.73 L315.29 454.47 L318.27 452.14 L321.18 449.75 L324.02 447.33 L326.80 444.90 L329.48 442.51 L332.05 440.16 L334.56 437.77 L337.03 435.29 L339.50 432.62 L342.00 429.70 L344.56 426.37 L347.16 422.64 L349.76 418.74 L352.32 414.87 L354.81 411.25 L357.20 408.10 L359.49 405.35 L361.71 402.81 L363.87 400.53 L365.95 398.53 L367.96 396.84 L369.90 395.50 L371.64 394.51 L373.17 393.85 L374.63 393.51 L376.16 393.46 L377.90 393.70 L380.00 394.20 L382.59 395.17 L385.57 396.65 L388.77 398.42 L392.00 400.24 L395.07 401.87 L397.80 403.10 L400.08 403.82 L402.04 404.20 L403.85 404.39 L405.67 404.57 L407.66 404.89 L410.00 405.50 L412.75 406.42 L415.80 407.53 L419.03 408.77 L422.32 410.11 L425.55 411.50 L428.60 412.90 L431.57 414.43 L434.56 416.16 L437.49 417.94 L440.29 419.64 L442.85 421.10 L445.10 422.20 L446.91 422.75 L448.32 422.83 L449.51 422.69 L450.63 422.56 L451.87 422.68 L453.40 423.30 L455.21 424.56 L457.15 426.28 L459.21 428.26 L461.36 430.29 L463.56 432.14 L465.80 433.60 L468.13 434.83 L470.60 436.04 L473.12 437.07 L475.63 437.79 L478.04 438.04 L480.30 437.70 L482.39 436.32 L484.38 433.94 L486.27 431.11 L488.10 428.36 L489.87 426.24 L491.60 425.30 L493.30 425.94 L494.96 427.81 L496.57 430.31 L498.10 432.85 L499.55 434.84 L500.90 435.70 L502.06 435.11 L503.04 433.49 L503.93 431.31 L504.84 429.08 L505.86 427.28 L507.10 426.40 L508.57 426.50 L510.18 427.20 L511.91 428.34 L513.73 429.73 L515.60 431.21 L517.50 432.60 L519.43 434.11 L521.41 435.93 L523.45 437.83 L525.54 439.60 L527.69 441.03 L529.90 441.90 L532.18 441.87 L534.55 441.06 L536.97 439.90 L539.42 438.84 L541.87 438.33 L544.30 438.80 L546.76 440.57 L549.28 443.34 L551.81 446.66 L554.27 450.07 L556.63 453.10 L558.80 455.30 L560.76 456.52 L562.54 457.10 L564.21 457.30 L565.81 457.40 L567.43 457.68 L569.10 458.40 L570.83 459.73 L572.56 461.50 L574.30 463.44 L576.04 465.29 L577.77 466.80 L579.50 467.70 L581.15 467.79 L582.71 467.24 L584.27 466.34 L585.91 465.40 L587.73 464.72 L589.80 464.60 L592.26 465.20 L595.07 466.32 L598.04 467.70 L601.02 469.08 L603.83 470.20 L606.30 470.80 L608.36 470.80 L610.14 470.38 L611.76 469.70 L613.31 468.92 L614.92 468.20 L616.70 467.70 L618.75 467.57 L620.99 467.71 L623.29 467.91 L625.51 467.96 L627.49 467.62 L629.10 466.70 L630.26 465.18 L631.08 463.23 L631.67 460.90 L632.14 458.25 L632.61 455.33 L633.20 452.20 L633.86 448.69 L634.49 444.73 L635.12 440.49 L635.78 436.17 L636.50 431.95 L637.30 428.00 L638.20 424.68 L639.19 421.92 L640.23 419.26 L641.31 416.22 L642.41 412.36 L643.50 407.20 L644.60 400.44 L645.73 392.39 L646.87 383.51 L648.02 374.26 L649.17 365.10 L650.30 356.50 L651.42 348.34 L652.54 340.23 L653.65 332.22 L654.76 324.34 L655.88 316.66 L657.00 309.20 L658.13 302.01 L659.26 295.04 L660.40 288.26 L661.54 281.63 L662.67 275.09 L663.80 268.60 L664.92 262.18 L666.04 255.85 L667.15 249.63 L668.26 243.49 L669.38 237.45 L670.50 231.50 L671.65 225.72 L672.82 220.11 L674.00 214.61 L675.16 209.10 L676.26 203.49 L677.30 197.70 L678.27 191.23 L679.19 184.05 L680.07 176.77 L680.90 170.02 L681.67 164.39 L682.40 160.50 L683.05 158.99 L683.63 159.50 L684.16 161.14 L684.66 163.02 L685.17 164.23 L685.70 163.90 L686.20 161.67 L686.64 158.20 L687.08 154.06 L687.59 149.86 L688.24 146.18 L689.10 143.60 L690.20 142.16 L691.50 141.37 L692.93 141.11 L694.46 141.23 L696.03 141.57 L697.60 142.00 L699.19 142.58 L700.85 143.43 L702.55 144.51 L704.27 145.78 L706.00 147.19 L707.70 148.70 L709.38 150.27 L711.06 151.94 L712.74 153.75 L714.43 155.75 L716.11 157.98 L717.80 160.50 L719.50 163.41 L721.20 166.70 L722.90 170.22 L724.60 173.84 L726.30 177.42 L728.00 180.80 L729.71 184.19 L731.43 187.75 L733.16 191.26 L734.86 194.51 L736.51 197.30 L738.10 199.40 L739.61 200.52 L741.06 200.78 L742.46 200.57 L743.83 200.29 L745.21 200.33 L746.60 201.10 L747.99 202.69 L749.34 204.79 L750.70 207.22 L752.08 209.79 L753.50 212.31 L755.00 214.60 L756.55 216.72 L758.11 218.84 L759.73 220.92 L761.42 222.90 L763.20 224.74 L765.10 226.40 L767.17 227.84 L769.41 229.10 L771.74 230.23 L774.09 231.25 L776.40 232.23 L778.60 233.20 L780.76 233.88 L782.94 234.18 L785.08 234.43 L787.10 234.96 L788.93 236.11 L790.50 238.20 L791.71 241.40 L792.61 245.47 L793.32 250.16 L793.96 255.20 L794.64 260.34 L795.50 265.30 L796.49 270.29 L797.51 275.56 L798.58 280.93 L799.72 286.19 L800.95 291.18 L802.30 295.70 L803.83 299.64 L805.53 303.13 L807.32 306.33 L809.13 309.43 L810.85 312.59 L812.40 316.00 L813.75 319.73 L814.96 323.65 L816.09 327.64 L817.20 331.57 L818.35 335.30 L819.60 338.70 L820.97 341.68 L822.41 344.31 L823.89 346.76 L825.38 349.14 L826.86 351.61 L828.30 354.30 L829.69 357.25 L831.07 360.35 L832.42 363.54 L833.78 366.74 L835.13 369.88 L836.50 372.90 L837.85 375.76 L839.19 378.51 L840.52 381.21 L841.88 383.90 L843.30 386.65 L844.80 389.50 L846.40 392.52 L848.09 395.67 L849.82 398.88 L851.59 402.06 L853.36 405.13 L855.10 408.00 L856.79 410.67 L858.46 413.21 L860.12 415.63 L861.81 417.97 L863.56 420.25 L865.40 422.50 L867.35 424.69 L869.38 426.79 L871.47 428.83 L873.59 430.84 L875.71 432.86 L877.80 434.90 L879.87 436.97 L881.93 439.03 L884.00 441.10 L886.07 443.17 L888.13 445.23 L890.20 447.30 L892.27 449.32 L894.33 451.29 L896.40 453.26 L898.47 455.28 L900.53 457.41 L902.60 459.70 L904.58 462.16 L906.46 464.74 L908.34 467.43 L910.32 470.21 L912.51 473.08 L915.00 476.00 L917.85 479.03 L920.99 482.18 L924.32 485.41 L927.79 488.67 L931.31 491.92 L934.80 495.10 L938.30 498.25 L941.87 501.43 L945.49 504.58 L949.13 507.69 L952.78 510.70 L956.40 513.60 L960.00 516.42 L963.60 519.19 L967.20 521.88 L970.80 524.43 L974.40 526.82 L978.00 529.00 L981.60 530.92 L985.20 532.61 L988.80 534.14 L992.40 535.55 L996.00 536.92 L999.60 538.30 L1003.33 539.73 L1007.20 541.16 L1011.08 542.55 L1014.80 543.84 L1018.23 544.97 L1021.20 545.90 L1023.72 546.59 L1025.91 547.07 L1027.79 547.39 L1029.41 547.62 L1030.81 547.81 L1032.00 548.00 L1032.93 548.18 L1033.54 548.30 L1033.92 548.38 L1034.16 548.43 L1034.32 548.46 L1034.50 548.50" stroke="#1a1a1a" stroke-width="6.0" fill="none" stroke-linejoin="round"/>
<path d="M194.70 447.40 L197.58 447.16 L201.63 446.85 L206.39 446.47 L211.40 446.02 L216.19 445.50 L220.30 444.90 L223.69 444.29 L226.72 443.67 L229.53 442.98 L232.27 442.15 L235.08 441.11 L238.10 439.80 L241.28 438.19 L244.50 436.35 L247.78 434.29 L251.17 432.06 L254.70 429.69 L258.40 427.20 L262.39 424.56 L266.65 421.74 L271.05 418.78 L275.45 415.71 L279.71 412.57 L283.70 409.40 L287.43 406.16 L291.03 402.81 L294.48 399.40 L297.80 395.95 L300.97 392.51 L304.00 389.10 L306.86 385.67 L309.54 382.17 L312.08 378.68 L314.51 375.26 L316.87 371.98 L319.20 368.90 L321.46 365.96 L323.62 363.09 L325.71 360.36 L327.76 357.83 L329.81 355.59 L331.90 353.70 L334.02 352.13 L336.14 350.83 L338.26 349.81 L340.37 349.08 L342.49 348.67 L344.60 348.60 L346.68 348.99 L348.71 349.85 L350.74 351.03 L352.81 352.37 L354.95 353.71 L357.20 354.90 L359.52 355.99 L361.89 357.12 L364.32 358.26 L366.86 359.36 L369.54 360.38 L372.40 361.30 L375.58 362.20 L379.07 363.14 L382.71 364.00 L386.31 364.69 L389.70 365.09 L392.70 365.10 L395.35 364.65 L397.80 363.81 L400.03 362.68 L402.05 361.38 L403.84 360.02 L405.40 358.70 L406.59 357.39 L407.40 356.00 L407.97 354.54 L408.49 353.04 L409.11 351.52 L410.00 350.00 L411.15 348.45 L412.42 346.84 L413.79 345.21 L415.25 343.60 L416.76 342.05 L418.30 340.60 L419.90 339.06 L421.59 337.35 L423.33 335.71 L425.09 334.35 L426.86 333.50 L428.60 333.40 L430.35 334.15 L432.14 335.60 L433.94 337.56 L435.69 339.86 L437.36 342.30 L438.90 344.70 L440.28 347.16 L441.52 349.84 L442.68 352.67 L443.81 355.58 L444.97 358.48 L446.20 361.30 L447.50 364.40 L448.83 367.91 L450.17 371.43 L451.55 374.52 L452.96 376.78 L454.40 377.80 L455.87 377.27 L457.38 375.47 L458.91 372.84 L460.48 369.83 L462.07 366.86 L463.70 364.40 L465.40 362.44 L467.17 360.64 L468.97 358.89 L470.76 357.10 L472.48 355.17 L474.10 353.00 L475.57 350.21 L476.91 346.81 L478.20 343.26 L479.49 340.05 L480.83 337.64 L482.30 336.50 L483.93 336.84 L485.69 338.30 L487.50 340.57 L489.31 343.32 L491.07 346.20 L492.70 348.90 L494.22 351.70 L495.67 354.93 L497.06 358.29 L498.40 361.52 L499.67 364.32 L500.90 366.40 L501.95 367.86 L502.81 368.93 L503.61 369.57 L504.49 369.75 L505.61 369.40 L507.10 368.50 L509.08 366.49 L511.47 363.31 L514.09 359.61 L516.77 356.05 L519.33 353.29 L521.60 352.00 L523.51 352.39 L525.19 353.99 L526.75 356.39 L528.31 359.20 L529.99 362.00 L531.90 364.40 L534.12 366.65 L536.58 369.11 L539.15 371.57 L541.72 373.81 L544.18 375.63 L546.40 376.80 L548.38 376.98 L550.22 376.27 L551.94 375.12 L553.57 374.01 L555.15 373.38 L556.70 373.70 L558.18 375.09 L559.54 377.20 L560.85 379.80 L562.16 382.64 L563.52 385.49 L565.00 388.10 L566.58 390.67 L568.21 393.43 L569.89 396.19 L571.64 398.76 L573.44 400.96 L575.30 402.60 L577.28 403.65 L579.39 404.27 L581.56 404.52 L583.72 404.45 L585.79 404.12 L587.70 403.60 L589.45 402.56 L591.10 400.90 L592.67 398.98 L594.16 397.18 L595.60 395.86 L597.00 395.40 L598.30 395.96 L599.47 397.28 L600.59 399.09 L601.72 401.11 L602.93 403.07 L604.30 404.70 L605.84 406.19 L607.51 407.79 L609.26 409.33 L611.06 410.64 L612.85 411.56 L614.60 411.90 L616.38 411.46 L618.23 410.33 L620.08 408.81 L621.85 407.17 L623.48 405.70 L624.90 404.70 L626.06 404.24 L627.03 404.11 L627.84 404.16 L628.57 404.23 L629.27 404.16 L630.00 403.80 L630.71 403.42 L631.34 403.20 L631.94 402.84 L632.55 402.06 L633.22 400.54 L634.00 398.00 L634.85 394.59 L635.73 390.57 L636.66 385.82 L637.69 380.23 L638.82 373.66 L640.10 366.00 L641.56 356.79 L643.20 346.03 L644.95 334.30 L646.76 322.17 L648.56 310.21 L650.30 299.00 L651.99 288.55 L653.67 278.40 L655.36 268.42 L657.04 258.48 L658.72 248.45 L660.40 238.20 L662.12 227.34 L663.89 215.89 L665.66 204.36 L667.38 193.22 L669.01 182.97 L670.50 174.10 L671.83 166.57 L673.01 159.97 L674.11 154.26 L675.16 149.39 L676.21 145.32 L677.30 142.00 L678.38 139.71 L679.41 138.55 L680.44 138.19 L681.51 138.29 L682.68 138.54 L684.00 138.60 L685.50 138.51 L687.14 138.54 L688.89 138.71 L690.68 139.05 L692.47 139.57 L694.20 140.30 L695.89 141.19 L697.57 142.23 L699.25 143.44 L700.93 144.90 L702.61 146.63 L704.30 148.70 L706.03 151.19 L707.82 154.08 L709.61 157.26 L711.36 160.60 L713.00 163.98 L714.50 167.30 L715.78 170.66 L716.86 174.19 L717.85 177.77 L718.84 181.27 L719.92 184.59 L721.20 187.60 L722.66 190.20 L724.22 192.48 L725.88 194.56 L727.63 196.60 L729.47 198.73 L731.40 201.10 L733.50 203.72 L735.78 206.48 L738.16 209.34 L740.53 212.24 L742.81 215.14 L744.90 218.00 L746.74 220.90 L748.39 223.89 L749.95 226.88 L751.51 229.77 L753.16 232.48 L755.00 234.90 L757.09 237.09 L759.37 239.14 L761.75 241.01 L764.13 242.63 L766.41 243.98 L768.50 245.00 L770.38 245.51 L772.11 245.50 L773.76 245.21 L775.35 244.87 L776.95 244.72 L778.60 245.00 L780.30 245.62 L782.00 246.39 L783.70 247.35 L785.40 248.54 L787.10 250.01 L788.80 251.80 L790.45 254.06 L792.05 256.78 L793.64 259.78 L795.29 262.87 L797.02 265.87 L798.90 268.60 L801.02 271.12 L803.37 273.57 L805.81 275.94 L808.21 278.19 L810.45 280.29 L812.40 282.20 L814.00 283.77 L815.34 285.00 L816.52 286.07 L817.63 287.18 L818.76 288.53 L820.00 290.30 L821.37 292.47 L822.79 294.87 L824.24 297.51 L825.66 300.37 L827.03 303.47 L828.30 306.80 L829.45 310.38 L830.52 314.22 L831.53 318.29 L832.51 322.57 L833.49 327.01 L834.50 331.60 L835.53 336.41 L836.57 341.47 L837.61 346.71 L838.64 352.04 L839.67 357.36 L840.70 362.60 L841.72 367.86 L842.74 373.24 L843.75 378.62 L844.76 383.88 L845.78 388.91 L846.80 393.60 L847.80 397.86 L848.78 401.78 L849.76 405.47 L850.77 409.04 L851.84 412.61 L853.00 416.30 L854.24 420.11 L855.54 423.94 L856.89 427.77 L858.31 431.58 L859.78 435.33 L861.30 439.00 L862.90 442.69 L864.58 446.43 L866.32 450.12 L868.09 453.64 L869.85 456.87 L871.60 459.70 L873.33 461.97 L875.06 463.75 L876.80 465.24 L878.54 466.64 L880.27 468.16 L882.00 470.00 L883.72 472.19 L885.45 474.59 L887.17 477.09 L888.89 479.64 L890.60 482.13 L892.30 484.50 L893.86 486.61 L895.26 488.49 L896.64 490.33 L898.19 492.29 L900.05 494.56 L902.40 497.30 L905.33 500.69 L908.75 504.63 L912.48 508.87 L916.37 513.17 L920.27 517.29 L924.00 521.00 L927.60 524.28 L931.20 527.32 L934.80 530.19 L938.40 532.93 L942.00 535.62 L945.60 538.30 L949.20 540.94 L952.80 543.50 L956.40 545.99 L960.00 548.45 L963.60 550.91 L967.20 553.40 L970.80 555.99 L974.40 558.67 L978.00 561.35 L981.60 563.94 L985.20 566.35 L988.80 568.50 L992.40 570.38 L996.00 572.08 L999.60 573.59 L1003.20 574.94 L1006.80 576.14 L1010.40 577.20 L1014.22 578.08 L1018.31 578.78 L1022.39 579.32 L1026.21 579.74 L1029.51 580.09 L1032.00 580.40 L1033.55 580.63 L1034.34 580.76 L1034.60 580.80 L1034.56 580.80 L1034.45 580.79 L1034.50 580.80" stroke="#00ff40" stroke-width="6.0" fill="none" stroke-linejoin="round"/>
<path d="M194.70 408.10 L197.58 408.39 L201.63 408.84 L206.39 409.36 L211.40 409.82 L216.19 410.14 L220.30 410.20 L223.72 410.06 L226.81 409.80 L229.69 409.39 L232.46 408.80 L235.23 407.98 L238.10 406.90 L241.03 405.50 L243.91 403.80 L246.79 401.87 L249.71 399.79 L252.70 397.64 L255.80 395.50 L259.03 393.27 L262.37 390.88 L265.79 388.42 L269.24 385.97 L272.69 383.64 L276.10 381.50 L279.51 379.59 L282.96 377.84 L286.41 376.21 L289.83 374.62 L293.17 373.04 L296.40 371.40 L299.53 369.81 L302.59 368.32 L305.57 366.83 L308.48 365.24 L311.32 363.43 L314.10 361.30 L316.81 358.76 L319.44 355.89 L322.01 352.80 L324.51 349.62 L326.94 346.48 L329.30 343.50 L331.56 340.60 L333.72 337.67 L335.81 334.77 L337.86 331.98 L339.91 329.36 L342.00 327.00 L344.12 324.87 L346.23 322.91 L348.35 321.12 L350.47 319.53 L352.58 318.12 L354.70 316.90 L356.79 315.90 L358.84 315.10 L360.89 314.49 L362.98 314.06 L365.14 313.76 L367.40 313.60 L369.79 313.56 L372.28 313.67 L374.84 313.92 L377.44 314.32 L380.04 314.88 L382.60 315.60 L385.17 316.50 L387.78 317.59 L390.39 318.82 L392.96 320.19 L395.44 321.66 L397.80 323.20 L400.00 324.80 L402.08 326.47 L404.07 328.24 L406.03 330.14 L407.99 332.18 L410.00 334.40 L412.06 336.88 L414.12 339.62 L416.19 342.51 L418.26 345.43 L420.33 348.26 L422.40 350.90 L424.51 353.56 L426.69 356.39 L428.86 359.14 L430.97 361.55 L432.97 363.39 L434.80 364.40 L436.42 364.52 L437.87 363.93 L439.21 362.76 L440.49 361.14 L441.77 359.21 L443.10 357.10 L444.42 354.65 L445.69 351.74 L446.94 348.51 L448.26 345.12 L449.69 341.73 L451.30 338.50 L453.15 335.22 L455.20 331.73 L457.36 328.23 L459.56 324.95 L461.70 322.10 L463.70 319.90 L465.57 318.29 L467.40 317.10 L469.16 316.34 L470.87 316.03 L472.52 316.18 L474.10 316.80 L475.57 318.05 L476.91 319.96 L478.20 322.32 L479.49 324.96 L480.83 327.68 L482.30 330.30 L483.95 332.97 L485.76 335.88 L487.62 338.88 L489.46 341.80 L491.18 344.49 L492.70 346.80 L493.98 348.97 L495.08 351.17 L496.06 353.14 L496.99 354.63 L497.92 355.37 L498.90 355.10 L499.89 353.50 L500.81 350.70 L501.74 347.16 L502.73 343.32 L503.83 339.62 L505.10 336.50 L506.58 333.79 L508.23 331.08 L509.99 328.52 L511.81 326.23 L513.64 324.35 L515.40 323.00 L517.14 322.16 L518.91 321.71 L520.67 321.68 L522.41 322.05 L524.10 322.86 L525.70 324.10 L527.18 326.08 L528.54 328.84 L529.85 332.03 L531.16 335.29 L532.52 338.27 L534.00 340.60 L535.60 342.13 L537.28 343.12 L539.02 343.83 L540.79 344.50 L542.55 345.41 L544.30 346.80 L546.00 348.85 L547.69 351.37 L549.37 354.12 L551.08 356.86 L552.85 359.33 L554.70 361.30 L556.63 362.81 L558.61 364.07 L560.65 365.07 L562.74 365.80 L564.89 366.25 L567.10 366.40 L569.43 365.99 L571.90 364.96 L574.42 363.66 L576.92 362.39 L579.31 361.50 L581.50 361.30 L583.49 361.91 L585.34 363.08 L587.09 364.63 L588.74 366.34 L590.34 368.03 L591.90 369.50 L593.37 370.87 L594.71 372.31 L596.00 373.73 L597.29 375.02 L598.63 376.08 L600.10 376.80 L601.66 377.04 L603.26 376.86 L604.91 376.44 L606.66 375.99 L608.51 375.67 L610.50 375.70 L612.78 376.18 L615.35 376.98 L618.03 377.92 L620.64 378.84 L622.99 379.56 L624.90 379.90 L626.19 380.16 L626.98 380.54 L627.51 380.72 L628.02 380.38 L628.77 379.18 L630.00 376.80 L631.80 373.33 L634.00 369.06 L636.44 363.93 L638.94 357.91 L641.35 350.94 L643.50 343.00 L645.38 333.61 L647.11 322.72 L648.76 310.89 L650.35 298.68 L651.95 286.66 L653.60 275.40 L655.30 264.83 L657.00 254.50 L658.70 244.36 L660.40 234.36 L662.10 224.46 L663.80 214.60 L665.53 204.29 L667.30 193.47 L669.06 182.74 L670.78 172.71 L672.41 164.00 L673.90 157.20 L675.17 152.73 L676.23 150.17 L677.19 148.93 L678.19 148.39 L679.32 147.95 L680.70 147.00 L682.40 145.49 L684.33 143.89 L686.39 142.38 L688.51 141.16 L690.57 140.40 L692.50 140.30 L694.30 140.97 L696.05 142.30 L697.76 144.09 L699.41 146.16 L701.03 148.33 L702.60 150.40 L704.11 152.26 L705.56 154.02 L706.96 155.88 L708.33 158.02 L709.71 160.63 L711.10 163.90 L712.47 168.16 L713.78 173.34 L715.09 178.99 L716.44 184.67 L717.90 189.92 L719.50 194.30 L721.30 197.79 L723.27 200.74 L725.34 203.27 L727.44 205.49 L729.48 207.53 L731.40 209.50 L733.19 211.17 L734.90 212.40 L736.56 213.44 L738.20 214.55 L739.84 215.98 L741.50 218.00 L743.14 220.81 L744.74 224.24 L746.34 227.99 L747.98 231.77 L749.72 235.28 L751.60 238.20 L753.65 240.60 L755.85 242.72 L758.14 244.56 L760.47 246.13 L762.81 247.41 L765.10 248.40 L767.35 248.87 L769.60 248.78 L771.84 248.41 L774.09 248.03 L776.34 247.93 L778.60 248.40 L780.90 249.34 L783.26 250.51 L785.61 251.97 L787.92 253.75 L790.13 255.91 L792.20 258.50 L794.05 261.67 L795.70 265.41 L797.26 269.52 L798.81 273.83 L800.46 278.12 L802.30 282.20 L804.41 286.34 L806.74 290.73 L809.17 295.11 L811.57 299.21 L813.82 302.77 L815.80 305.50 L817.47 307.21 L818.92 308.08 L820.22 308.39 L821.45 308.46 L822.68 308.56 L824.00 309.00 L825.39 309.58 L826.79 310.01 L828.19 310.49 L829.60 311.19 L831.00 312.30 L832.40 314.00 L833.81 316.35 L835.26 319.21 L836.69 322.49 L838.10 326.06 L839.45 329.84 L840.70 333.70 L841.84 337.75 L842.89 342.10 L843.88 346.65 L844.84 351.30 L845.80 355.95 L846.80 360.50 L847.83 364.98 L848.86 369.46 L849.89 373.95 L850.93 378.44 L851.97 382.92 L853.00 387.40 L854.03 391.85 L855.07 396.26 L856.10 400.67 L857.13 405.11 L858.17 409.61 L859.20 414.20 L860.23 418.98 L861.27 423.94 L862.30 428.96 L863.33 433.92 L864.37 438.71 L865.40 443.20 L866.44 447.42 L867.50 451.48 L868.55 455.36 L869.59 459.06 L870.61 462.57 L871.60 465.90 L872.49 468.90 L873.28 471.54 L874.04 474.01 L874.87 476.46 L875.83 479.06 L877.00 482.00 L878.38 485.33 L879.89 488.93 L881.54 492.69 L883.33 496.50 L885.25 500.24 L887.30 503.80 L889.54 507.17 L891.98 510.44 L894.55 513.65 L897.19 516.82 L899.83 519.99 L902.40 523.20 L904.89 526.41 L907.35 529.59 L909.81 532.76 L912.30 535.97 L914.86 539.24 L917.50 542.60 L920.21 546.07 L922.94 549.64 L925.74 553.26 L928.63 556.92 L931.64 560.57 L934.80 564.20 L938.15 567.85 L941.68 571.56 L945.33 575.27 L949.04 578.92 L952.75 582.45 L956.40 585.80 L960.00 589.01 L963.60 592.13 L967.20 595.12 L970.80 597.97 L974.40 600.64 L978.00 603.10 L981.60 605.33 L985.20 607.34 L988.80 609.18 L992.40 610.86 L996.00 612.42 L999.60 613.90 L1003.33 615.29 L1007.20 616.59 L1011.08 617.76 L1014.80 618.79 L1018.23 619.68 L1021.20 620.40 L1023.72 620.91 L1025.91 621.20 L1027.79 621.34 L1029.41 621.39 L1030.81 621.43 L1032.00 621.50 L1032.93 621.60 L1033.54 621.67 L1033.92 621.72 L1034.16 621.75 L1034.32 621.78 L1034.50 621.80" stroke="#80ff00" stroke-width="6.0" fill="none" stroke-linejoin="round" stroke-dasharray="14.7 3.2 7.5 3.2"/>
<path d="M194.70 389.10 L199.10 388.91 L205.39 388.67 L212.74 388.37 L220.33 388.01 L227.36 387.59 L233.00 387.10 L237.13 386.57 L240.36 386.01 L243.03 385.38 L245.45 384.66 L247.93 383.81 L250.80 382.80 L254.06 381.54 L257.44 380.03 L260.90 378.39 L264.36 376.75 L267.74 375.21 L271.00 373.90 L274.08 372.81 L277.02 371.86 L279.89 371.01 L282.77 370.24 L285.72 369.55 L288.80 368.90 L292.04 368.33 L295.39 367.85 L298.80 367.44 L302.25 367.07 L305.69 366.70 L309.10 366.30 L312.56 365.92 L316.12 365.60 L319.68 365.28 L323.13 364.91 L326.37 364.44 L329.30 363.80 L331.85 363.03 L334.09 362.17 L336.12 361.21 L338.04 360.13 L339.97 358.89 L342.00 357.50 L344.12 355.98 L346.23 354.37 L348.35 352.62 L350.47 350.67 L352.58 348.48 L354.70 346.00 L356.82 343.09 L358.94 339.77 L361.06 336.21 L363.17 332.58 L365.29 329.05 L367.40 325.80 L369.50 322.73 L371.60 319.70 L373.70 316.76 L375.80 314.00 L377.90 311.49 L380.00 309.30 L382.06 307.54 L384.06 306.19 L386.06 305.07 L388.12 304.06 L390.32 302.99 L392.70 301.70 L395.37 300.15 L398.31 298.45 L401.37 296.69 L404.43 294.97 L407.35 293.37 L410.00 292.00 L412.37 290.78 L414.57 289.62 L416.64 288.59 L418.60 287.75 L420.51 287.16 L422.40 286.90 L424.24 287.00 L425.99 287.43 L427.67 288.11 L429.34 288.98 L431.00 289.97 L432.70 291.00 L434.43 292.24 L436.16 293.76 L437.90 295.41 L439.64 296.99 L441.37 298.35 L443.10 299.30 L444.82 299.64 L446.54 299.46 L448.26 299.04 L449.97 298.69 L451.68 298.68 L453.40 299.30 L455.14 300.68 L456.91 302.63 L458.67 304.92 L460.41 307.34 L462.10 309.67 L463.70 311.70 L465.18 313.41 L466.54 314.96 L467.85 316.42 L469.16 317.87 L470.52 319.37 L472.00 321.00 L473.60 323.07 L475.28 325.57 L477.02 328.13 L478.79 330.36 L480.55 331.88 L482.30 332.30 L484.03 331.42 L485.76 329.52 L487.50 326.91 L489.24 323.89 L490.97 320.78 L492.70 317.90 L494.42 315.03 L496.14 311.89 L497.86 308.65 L499.57 305.51 L501.28 302.67 L503.00 300.30 L504.72 298.36 L506.43 296.67 L508.14 295.28 L509.86 294.20 L511.58 293.47 L513.30 293.10 L515.05 293.20 L516.84 293.77 L518.63 294.68 L520.39 295.81 L522.09 297.02 L523.70 298.20 L525.19 299.42 L526.59 300.81 L527.93 302.28 L529.24 303.77 L530.55 305.20 L531.90 306.50 L533.30 307.59 L534.74 308.53 L536.17 309.41 L537.59 310.33 L538.94 311.39 L540.20 312.70 L541.33 314.32 L542.34 316.19 L543.30 318.21 L544.26 320.26 L545.27 322.26 L546.40 324.10 L547.66 325.94 L549.01 327.89 L550.42 329.79 L551.86 331.45 L553.30 332.71 L554.70 333.40 L556.07 333.35 L557.44 332.66 L558.80 331.57 L560.16 330.31 L561.53 329.11 L562.90 328.20 L564.28 327.37 L565.66 326.40 L567.04 325.49 L568.43 324.83 L569.82 324.64 L571.20 325.10 L572.58 326.44 L573.97 328.53 L575.36 331.09 L576.74 333.80 L578.12 336.37 L579.50 338.50 L580.90 340.24 L582.31 341.84 L583.73 343.29 L585.12 344.61 L586.45 345.78 L587.70 346.80 L588.85 347.76 L589.91 348.68 L590.93 349.45 L591.91 349.98 L592.89 350.16 L593.90 349.90 L594.91 349.18 L595.89 348.06 L596.87 346.61 L597.88 344.85 L598.95 342.83 L600.10 340.60 L601.34 337.80 L602.64 334.32 L603.99 330.59 L605.41 327.01 L606.88 324.01 L608.40 322.00 L610.02 321.10 L611.76 321.01 L613.55 321.50 L615.34 322.33 L617.08 323.27 L618.70 324.10 L620.20 324.97 L621.61 326.09 L622.98 327.33 L624.31 328.54 L625.64 329.58 L627.00 330.30 L628.42 330.71 L629.90 330.91 L631.37 330.95 L632.79 330.84 L634.12 330.61 L635.30 330.30 L636.28 329.95 L637.09 329.56 L637.79 329.04 L638.48 328.34 L639.22 327.39 L640.10 326.10 L641.08 324.78 L642.10 323.54 L643.17 322.04 L644.31 319.95 L645.55 316.91 L646.90 312.60 L648.39 306.71 L650.02 299.46 L651.74 291.28 L653.50 282.57 L655.27 273.77 L657.00 265.30 L658.73 256.85 L660.52 248.03 L662.31 239.11 L664.06 230.37 L665.70 222.11 L667.20 214.60 L668.52 207.73 L669.69 201.27 L670.76 195.27 L671.79 189.81 L672.82 184.96 L673.90 180.80 L675.05 177.36 L676.23 174.61 L677.41 172.47 L678.56 170.87 L679.67 169.73 L680.70 169.00 L681.60 169.03 L682.37 169.95 L683.09 171.34 L683.84 172.78 L684.68 173.84 L685.70 174.10 L686.93 173.24 L688.34 171.52 L689.84 169.43 L691.37 167.43 L692.85 166.00 L694.20 165.60 L695.38 166.33 L696.44 167.84 L697.44 169.91 L698.47 172.34 L699.60 174.90 L700.90 177.40 L702.44 179.88 L704.17 182.53 L706.00 185.32 L707.83 188.23 L709.56 191.23 L711.10 194.30 L712.42 197.45 L713.59 200.69 L714.66 204.03 L715.69 207.46 L716.72 210.99 L717.80 214.60 L718.89 218.46 L719.94 222.59 L720.99 226.82 L722.09 230.95 L723.27 234.81 L724.60 238.20 L726.05 240.99 L727.60 243.29 L729.23 245.32 L730.96 247.27 L732.78 249.37 L734.70 251.80 L736.75 254.89 L738.94 258.54 L741.23 262.32 L743.57 265.82 L745.90 268.62 L748.20 270.30 L750.46 270.68 L752.73 270.06 L755.00 268.74 L757.27 267.03 L759.54 265.21 L761.80 263.60 L764.10 261.95 L766.43 259.96 L768.77 257.87 L771.06 255.92 L773.25 254.35 L775.30 253.40 L777.18 253.16 L778.92 253.46 L780.56 254.14 L782.16 255.04 L783.76 255.98 L785.40 256.80 L787.04 257.38 L788.64 257.81 L790.23 258.29 L791.87 259.01 L793.61 260.15 L795.50 261.90 L797.60 264.47 L799.90 267.76 L802.30 271.48 L804.70 275.31 L807.00 278.99 L809.10 282.20 L811.00 285.07 L812.77 287.85 L814.45 290.46 L816.06 292.83 L817.63 294.87 L819.20 296.50 L820.75 297.63 L822.24 298.30 L823.70 298.64 L825.14 298.79 L826.57 298.86 L828.00 299.00 L829.41 299.01 L830.79 298.74 L832.16 298.41 L833.54 298.20 L834.98 298.33 L836.50 299.00 L838.14 300.21 L839.87 301.79 L841.66 303.71 L843.45 305.92 L845.18 308.36 L846.80 311.00 L848.30 313.91 L849.71 317.15 L851.07 320.63 L852.41 324.26 L853.74 327.95 L855.10 331.60 L856.48 335.24 L857.87 338.93 L859.26 342.69 L860.64 346.50 L862.02 350.37 L863.40 354.30 L864.80 358.36 L866.21 362.56 L867.63 366.83 L869.02 371.06 L870.35 375.18 L871.60 379.10 L872.75 382.74 L873.81 386.15 L874.83 389.45 L875.81 392.75 L876.79 396.16 L877.80 399.80 L878.81 403.70 L879.79 407.77 L880.77 411.95 L881.78 416.19 L882.85 420.43 L884.00 424.60 L885.26 428.72 L886.61 432.84 L888.02 436.95 L889.46 441.06 L890.90 445.18 L892.30 449.30 L893.72 453.55 L895.20 457.96 L896.67 462.38 L898.08 466.64 L899.38 470.60 L900.50 474.10 L901.41 477.00 L902.13 479.39 L902.74 481.48 L903.29 483.47 L903.86 485.58 L904.50 488.00 L905.16 490.63 L905.78 493.29 L906.41 496.06 L907.11 499.03 L907.92 502.28 L908.90 505.90 L910.09 510.07 L911.45 514.75 L912.93 519.72 L914.47 524.74 L916.01 529.57 L917.50 534.00 L918.95 537.93 L920.40 541.52 L921.85 544.94 L923.30 548.32 L924.75 551.83 L926.20 555.60 L927.64 559.69 L929.07 563.99 L930.51 568.41 L931.94 572.86 L933.37 577.26 L934.80 581.50 L936.23 585.61 L937.66 589.67 L939.09 593.67 L940.53 597.61 L941.96 601.48 L943.40 605.30 L944.82 609.05 L946.21 612.74 L947.61 616.38 L949.04 619.94 L950.53 623.45 L952.10 626.90 L953.75 630.28 L955.47 633.61 L957.24 636.87 L959.07 640.07 L960.95 643.21 L962.90 646.30 L964.93 649.36 L967.04 652.39 L969.21 655.36 L971.41 658.24 L973.62 661.00 L975.80 663.60 L977.94 666.03 L980.05 668.30 L982.16 670.46 L984.31 672.52 L986.51 674.52 L988.80 676.50 L991.22 678.47 L993.76 680.41 L996.35 682.30 L998.94 684.10 L1001.48 685.77 L1003.90 687.30 L1006.16 688.72 L1008.31 690.07 L1010.40 691.29 L1012.49 692.36 L1014.64 693.21 L1016.90 693.80 L1019.44 694.05 L1022.24 693.96 L1025.11 693.67 L1027.82 693.28 L1030.19 692.92 L1032.00 692.70 L1033.17 692.61 L1033.86 692.56 L1034.19 692.53 L1034.32 692.52 L1034.37 692.51 L1034.50 692.50" stroke="#ff0000" stroke-width="6.0" fill="none" stroke-linejoin="round"/>
</g></g>
<g clip-path="url(#k1295_0)">
<path d="M1295.90 528.40 L1297.45 529.51 L1299.59 531.02 L1302.12 532.82 L1304.85 534.81 L1307.57 536.91 L1310.10 539.00 L1312.46 541.19 L1314.81 543.57 L1317.16 546.06 L1319.50 548.54 L1321.85 550.92 L1324.20 553.10 L1326.60 555.17 L1329.07 557.21 L1331.54 559.16 L1333.95 560.92 L1336.22 562.43 L1338.30 563.60 L1340.03 564.52 L1341.44 565.26 L1342.71 565.74 L1344.05 565.88 L1345.65 565.59 L1347.70 564.80 L1350.33 563.31 L1353.41 561.14 L1356.76 558.56 L1360.16 555.79 L1363.44 553.09 L1366.40 550.70 L1369.02 548.54 L1371.44 546.38 L1373.74 544.29 L1375.97 542.33 L1378.20 540.55 L1380.50 539.00 L1382.85 537.67 L1385.20 536.50 L1387.55 535.52 L1389.90 534.73 L1392.25 534.15 L1394.60 533.80 L1396.95 533.75 L1399.30 534.00 L1401.65 534.46 L1404.00 535.04 L1406.35 535.65 L1408.70 536.20 L1411.05 536.85 L1413.40 537.70 L1415.75 538.59 L1418.10 539.33 L1420.45 539.76 L1422.80 539.70 L1425.15 539.10 L1427.50 538.08 L1429.85 536.75 L1432.20 535.21 L1434.55 533.56 L1436.90 531.90 L1439.25 530.13 L1441.60 528.13 L1443.95 526.03 L1446.30 523.93 L1448.65 521.95 L1451.00 520.20 L1453.30 518.56 L1455.53 516.92 L1457.76 515.40 L1460.06 514.11 L1462.48 513.17 L1465.10 512.70 L1468.00 512.96 L1471.16 513.91 L1474.45 515.22 L1477.74 516.53 L1480.90 517.50 L1483.80 517.80 L1486.44 517.34 L1488.91 516.39 L1491.26 515.09 L1493.52 513.63 L1495.72 512.14 L1497.90 510.80 L1499.99 509.60 L1501.94 508.42 L1503.84 507.22 L1505.77 505.97 L1507.79 504.64 L1510.00 503.20 L1512.45 501.42 L1515.09 499.28 L1517.84 497.06 L1520.60 495.04 L1523.28 493.49 L1525.80 492.70 L1528.14 492.98 L1530.36 494.17 L1532.51 495.84 L1534.63 497.54 L1536.74 498.84 L1538.90 499.30 L1541.10 498.56 L1543.30 496.91 L1545.50 494.86 L1547.70 492.92 L1549.90 491.59 L1552.10 491.40 L1554.29 492.61 L1556.47 494.89 L1558.66 497.77 L1560.84 500.85 L1563.02 503.67 L1565.20 505.80 L1567.44 507.50 L1569.76 509.17 L1572.07 510.58 L1574.32 511.52 L1576.42 511.77 L1578.30 511.10 L1579.92 509.07 L1581.32 505.75 L1582.58 501.74 L1583.76 497.63 L1584.94 493.98 L1586.20 491.40 L1587.53 489.66 L1588.88 488.25 L1590.23 487.31 L1591.56 487.00 L1592.86 487.44 L1594.10 488.80 L1595.18 491.60 L1596.10 495.84 L1596.99 500.84 L1597.96 505.93 L1599.16 510.44 L1600.70 513.70 L1602.68 515.59 L1605.00 516.63 L1607.54 517.09 L1610.18 517.24 L1612.77 517.36 L1615.20 517.70 L1617.46 518.11 L1619.67 518.33 L1621.84 518.51 L1623.99 518.80 L1626.13 519.35 L1628.30 520.30 L1630.50 521.92 L1632.71 524.13 L1634.92 526.61 L1637.12 528.99 L1639.29 530.94 L1641.40 532.10 L1643.45 532.09 L1645.46 531.09 L1647.43 529.66 L1649.39 528.33 L1651.34 527.67 L1653.30 528.20 L1655.26 530.30 L1657.19 533.60 L1659.12 537.56 L1661.07 541.62 L1663.06 545.25 L1665.10 547.90 L1667.27 549.69 L1669.56 551.08 L1671.89 552.04 L1674.17 552.52 L1676.30 552.49 L1678.20 551.90 L1679.76 550.19 L1681.02 547.27 L1682.14 543.83 L1683.27 540.58 L1684.54 538.20 L1686.10 537.40 L1688.02 538.53 L1690.21 541.10 L1692.54 544.55 L1694.90 548.31 L1697.19 551.82 L1699.30 554.50 L1701.22 556.30 L1703.05 557.67 L1704.80 558.78 L1706.50 559.82 L1708.16 560.96 L1709.80 562.40 L1711.42 564.40 L1712.99 566.87 L1714.52 569.46 L1716.03 571.78 L1717.52 573.48 L1719.00 574.20 L1720.48 573.72 L1721.95 572.31 L1723.40 570.27 L1724.83 567.93 L1726.23 565.60 L1727.60 563.60 L1728.92 561.98 L1730.21 560.48 L1731.46 559.00 L1732.70 557.42 L1733.94 555.62 L1735.20 553.50 L1736.47 550.98 L1737.73 548.13 L1738.99 545.07 L1740.26 541.91 L1741.53 538.75 L1742.80 535.70 L1744.08 532.77 L1745.36 529.89 L1746.65 527.01 L1747.94 524.09 L1749.22 521.10 L1750.50 518.00 L1751.79 514.83 L1753.09 511.61 L1754.39 508.33 L1755.67 504.94 L1756.91 501.41 L1758.10 497.70 L1759.22 493.94 L1760.29 490.17 L1761.32 486.27 L1762.34 482.08 L1763.36 477.47 L1764.40 472.30 L1765.46 466.50 L1766.53 460.17 L1767.60 453.43 L1768.67 446.36 L1769.74 439.08 L1770.80 431.70 L1771.85 423.99 L1772.90 415.84 L1773.95 407.47 L1775.00 399.13 L1776.05 391.06 L1777.10 383.50 L1778.16 376.66 L1779.21 370.37 L1780.27 364.36 L1781.34 358.33 L1782.41 351.97 L1783.50 345.00 L1784.58 337.50 L1785.64 329.71 L1786.71 321.60 L1787.81 313.14 L1788.96 304.28 L1790.20 295.00 L1791.54 285.17 L1792.96 274.78 L1794.43 264.01 L1795.93 253.00 L1797.43 241.91 L1798.90 230.90 L1800.34 219.46 L1801.77 207.37 L1803.21 195.20 L1804.64 183.53 L1806.07 172.94 L1807.50 164.00 L1808.93 156.91 L1810.36 151.24 L1811.79 146.64 L1813.23 142.79 L1814.66 139.32 L1816.10 135.90 L1817.57 132.48 L1819.07 129.31 L1820.58 126.54 L1822.06 124.29 L1823.48 122.70 L1824.80 121.90 L1825.99 122.01 L1827.05 122.94 L1828.06 124.53 L1829.06 126.61 L1830.12 129.02 L1831.30 131.60 L1832.61 134.41 L1834.01 137.60 L1835.47 141.12 L1836.96 144.92 L1838.44 148.96 L1839.90 153.20 L1841.33 157.86 L1842.76 163.03 L1844.19 168.43 L1845.63 173.81 L1847.06 178.89 L1848.50 183.40 L1849.90 187.21 L1851.26 190.50 L1852.62 193.50 L1854.03 196.42 L1855.54 199.48 L1857.20 202.90 L1859.08 206.75 L1861.14 210.87 L1863.31 215.12 L1865.49 219.40 L1867.58 223.57 L1869.50 227.50 L1871.21 231.26 L1872.77 234.97 L1874.24 238.57 L1875.70 242.01 L1877.20 245.24 L1878.80 248.20 L1880.56 250.71 L1882.45 252.79 L1884.38 254.65 L1886.27 256.52 L1888.04 258.63 L1889.60 261.20 L1890.92 264.17 L1892.06 267.33 L1893.07 270.74 L1894.02 274.41 L1894.98 278.39 L1896.00 282.70 L1897.08 287.62 L1898.16 293.17 L1899.24 299.03 L1900.33 304.85 L1901.42 310.32 L1902.50 315.10 L1903.61 319.16 L1904.74 322.76 L1905.88 326.00 L1906.98 328.99 L1908.03 331.82 L1909.00 334.60 L1909.78 337.14 L1910.38 339.32 L1910.92 341.35 L1911.54 343.43 L1912.36 345.78 L1913.50 348.60 L1915.03 352.02 L1916.86 355.90 L1918.89 360.05 L1921.03 364.26 L1923.16 368.35 L1925.20 372.10 L1927.16 375.40 L1929.13 378.37 L1931.10 381.21 L1933.07 384.11 L1935.04 387.28 L1937.00 390.90 L1938.96 395.14 L1940.91 399.87 L1942.86 404.86 L1944.80 409.88 L1946.75 414.70 L1948.70 419.10 L1950.62 423.05 L1952.51 426.74 L1954.40 430.24 L1956.32 433.60 L1958.31 436.90 L1960.40 440.20 L1962.61 443.49 L1964.92 446.73 L1967.30 449.89 L1969.71 453.00 L1972.12 456.03 L1974.50 459.00 L1976.78 461.81 L1978.97 464.45 L1981.16 467.02 L1983.44 469.63 L1985.89 472.39 L1988.60 475.40 L1991.58 478.65 L1994.76 482.05 L1998.11 485.59 L2001.60 489.29 L2005.21 493.12 L2008.90 497.10 L2012.73 501.39 L2016.73 506.03 L2020.84 510.81 L2025.01 515.54 L2029.19 520.00 L2033.30 524.00 L2037.37 527.47 L2041.43 530.56 L2045.50 533.39 L2049.57 536.07 L2053.63 538.74 L2057.70 541.50 L2061.77 544.40 L2065.83 547.34 L2069.89 550.26 L2073.96 553.09 L2078.03 555.76 L2082.10 558.20 L2086.16 560.42 L2090.19 562.46 L2094.22 564.35 L2098.29 566.09 L2102.41 567.70 L2106.60 569.20 L2111.16 570.59 L2116.13 571.86 L2121.14 572.99 L2125.86 573.99 L2129.93 574.83 L2133.00 575.50 L2134.89 575.95 L2135.84 576.17 L2136.15 576.24 L2136.09 576.23 L2135.94 576.19 L2136.00 576.20" stroke="#1a1a1a" stroke-width="6.0" fill="none" stroke-linejoin="round"/>
<path d="M1295.90 515.50 L1298.47 516.58 L1302.02 518.11 L1306.23 519.91 L1310.77 521.77 L1315.30 523.50 L1319.50 524.90 L1323.42 526.08 L1327.34 527.21 L1331.26 528.21 L1335.18 528.99 L1339.09 529.48 L1343.00 529.60 L1347.01 529.18 L1351.15 528.24 L1355.29 527.02 L1359.29 525.71 L1363.04 524.53 L1366.40 523.70 L1369.26 523.17 L1371.70 522.77 L1373.88 522.51 L1375.97 522.37 L1378.12 522.37 L1380.50 522.50 L1383.11 522.84 L1385.83 523.39 L1388.61 524.08 L1391.42 524.82 L1394.23 525.52 L1397.00 526.10 L1399.74 526.68 L1402.47 527.35 L1405.21 527.99 L1407.94 528.46 L1410.67 528.64 L1413.40 528.40 L1416.13 527.75 L1418.86 526.79 L1421.59 525.54 L1424.33 524.02 L1427.06 522.23 L1429.80 520.20 L1432.57 517.87 L1435.38 515.20 L1438.19 512.28 L1440.97 509.16 L1443.69 505.91 L1446.30 502.60 L1448.82 499.06 L1451.27 495.21 L1453.65 491.23 L1455.97 487.30 L1458.22 483.60 L1460.40 480.30 L1462.46 477.40 L1464.39 474.75 L1466.25 472.33 L1468.11 470.11 L1470.04 468.07 L1472.10 466.20 L1474.31 464.42 L1476.62 462.74 L1479.00 461.25 L1481.41 460.02 L1483.82 459.14 L1486.20 458.70 L1488.60 458.80 L1491.06 459.41 L1493.53 460.37 L1495.93 461.52 L1498.20 462.72 L1500.30 463.80 L1502.13 464.77 L1503.73 465.74 L1505.21 466.76 L1506.68 467.86 L1508.24 469.06 L1510.00 470.40 L1511.99 472.05 L1514.11 474.00 L1516.33 476.06 L1518.60 478.03 L1520.87 479.71 L1523.10 480.90 L1525.26 481.42 L1527.40 481.39 L1529.53 481.06 L1531.70 480.70 L1533.95 480.56 L1536.30 480.90 L1538.78 481.96 L1541.38 483.58 L1544.04 485.43 L1546.74 487.14 L1549.44 488.38 L1552.10 488.80 L1554.75 488.21 L1557.43 486.86 L1560.11 485.03 L1562.76 483.01 L1565.33 481.11 L1567.80 479.60 L1570.18 478.23 L1572.49 476.71 L1574.73 475.31 L1576.89 474.26 L1578.99 473.84 L1581.00 474.30 L1582.94 475.96 L1584.80 478.68 L1586.58 482.03 L1588.29 485.55 L1589.93 488.82 L1591.50 491.40 L1592.94 493.28 L1594.23 494.81 L1595.45 496.09 L1596.67 497.21 L1597.96 498.25 L1599.40 499.30 L1601.00 500.49 L1602.71 501.77 L1604.49 502.97 L1606.30 503.93 L1608.12 504.50 L1609.90 504.50 L1611.65 503.80 L1613.40 502.50 L1615.15 500.80 L1616.90 498.90 L1618.65 497.00 L1620.40 495.30 L1622.15 493.51 L1623.90 491.40 L1625.65 489.30 L1627.40 487.51 L1629.15 486.34 L1630.90 486.10 L1632.62 487.08 L1634.30 489.09 L1635.98 491.72 L1637.70 494.57 L1639.49 497.23 L1641.40 499.30 L1643.44 500.72 L1645.60 501.81 L1647.84 502.71 L1650.11 503.58 L1652.37 504.56 L1654.60 505.80 L1656.79 507.32 L1658.97 508.99 L1661.15 510.77 L1663.33 512.63 L1665.51 514.52 L1667.70 516.40 L1669.90 518.39 L1672.10 520.54 L1674.30 522.72 L1676.50 524.81 L1678.70 526.68 L1680.90 528.20 L1683.12 529.18 L1685.37 529.69 L1687.62 529.98 L1689.83 530.31 L1691.97 530.93 L1694.00 532.10 L1695.90 534.19 L1697.69 537.07 L1699.41 540.25 L1701.09 543.23 L1702.77 545.51 L1704.50 546.60 L1706.23 546.24 L1707.93 544.76 L1709.64 542.59 L1711.38 540.14 L1713.19 537.84 L1715.10 536.10 L1717.18 534.89 L1719.41 533.85 L1721.71 532.96 L1724.00 532.18 L1726.19 531.47 L1728.20 530.80 L1730.03 530.29 L1731.73 529.98 L1733.34 529.75 L1734.88 529.45 L1736.36 528.95 L1737.80 528.10 L1739.18 526.85 L1740.48 525.29 L1741.72 523.52 L1742.94 521.65 L1744.16 519.77 L1745.40 518.00 L1746.67 516.48 L1747.93 515.17 L1749.20 513.86 L1750.47 512.33 L1751.73 510.38 L1753.00 507.80 L1754.27 504.62 L1755.53 501.02 L1756.80 497.00 L1758.07 492.56 L1759.33 487.69 L1760.60 482.40 L1761.87 476.51 L1763.13 469.99 L1764.40 463.05 L1765.67 455.90 L1766.93 448.74 L1768.20 441.80 L1769.47 435.21 L1770.73 428.84 L1771.99 422.48 L1773.26 415.89 L1774.53 408.87 L1775.80 401.20 L1777.10 392.72 L1778.44 383.58 L1779.78 374.00 L1781.09 364.22 L1782.34 354.48 L1783.50 345.00 L1784.54 335.71 L1785.50 326.41 L1786.39 317.14 L1787.25 307.95 L1788.11 298.89 L1789.00 290.00 L1789.88 281.38 L1790.71 272.99 L1791.55 264.74 L1792.43 256.50 L1793.40 248.16 L1794.50 239.60 L1795.77 230.63 L1797.17 221.31 L1798.66 211.88 L1800.19 202.61 L1801.72 193.77 L1803.20 185.60 L1804.66 177.99 L1806.15 170.71 L1807.64 163.86 L1809.09 157.51 L1810.49 151.76 L1811.80 146.70 L1813.00 142.48 L1814.12 139.05 L1815.18 136.22 L1816.21 133.80 L1817.24 131.59 L1818.30 129.40 L1819.38 127.09 L1820.47 124.80 L1821.55 122.73 L1822.63 121.05 L1823.72 119.98 L1824.80 119.70 L1825.88 120.32 L1826.97 121.71 L1828.06 123.69 L1829.14 126.11 L1830.22 128.81 L1831.30 131.60 L1832.37 134.64 L1833.44 138.08 L1834.50 141.79 L1835.56 145.64 L1836.63 149.49 L1837.70 153.20 L1838.75 156.72 L1839.78 160.16 L1840.81 163.59 L1841.87 167.12 L1842.99 170.82 L1844.20 174.80 L1845.52 179.21 L1846.94 184.01 L1848.42 188.99 L1849.93 193.94 L1851.43 198.64 L1852.90 202.90 L1854.34 206.69 L1855.77 210.17 L1857.21 213.41 L1858.64 216.47 L1860.07 219.42 L1861.50 222.30 L1862.91 225.02 L1864.29 227.49 L1865.66 229.85 L1867.07 232.21 L1868.54 234.68 L1870.10 237.40 L1871.77 240.46 L1873.54 243.79 L1875.36 247.23 L1877.22 250.65 L1879.07 253.89 L1880.90 256.80 L1882.70 259.41 L1884.50 261.85 L1886.30 264.11 L1888.10 266.19 L1889.90 268.08 L1891.70 269.80 L1893.52 271.08 L1895.38 271.89 L1897.23 272.51 L1899.06 273.26 L1900.82 274.42 L1902.50 276.30 L1904.09 278.85 L1905.62 281.83 L1907.09 285.22 L1908.50 289.03 L1909.87 293.26 L1911.20 297.90 L1912.41 303.07 L1913.49 308.78 L1914.51 314.91 L1915.58 321.32 L1916.78 327.90 L1918.20 334.50 L1919.88 341.41 L1921.75 348.79 L1923.75 356.33 L1925.82 363.71 L1927.89 370.64 L1929.90 376.80 L1931.86 382.08 L1933.83 386.71 L1935.80 390.88 L1937.77 394.78 L1939.74 398.62 L1941.70 402.60 L1943.66 406.73 L1945.61 410.87 L1947.56 414.94 L1949.50 418.88 L1951.45 422.62 L1953.40 426.10 L1955.32 429.22 L1957.21 432.00 L1959.10 434.59 L1961.02 437.12 L1963.01 439.71 L1965.10 442.50 L1967.31 445.52 L1969.62 448.67 L1972.00 451.89 L1974.41 455.11 L1976.82 458.27 L1979.20 461.30 L1981.53 464.15 L1983.84 466.87 L1986.16 469.52 L1988.49 472.18 L1990.86 474.91 L1993.30 477.80 L1995.71 480.77 L1998.06 483.74 L2000.46 486.80 L2002.99 490.00 L2005.77 493.41 L2008.90 497.10 L2012.46 501.25 L2016.38 505.85 L2020.55 510.66 L2024.84 515.45 L2029.13 519.97 L2033.30 524.00 L2037.37 527.47 L2041.43 530.56 L2045.50 533.39 L2049.57 536.07 L2053.63 538.74 L2057.70 541.50 L2061.77 544.40 L2065.83 547.34 L2069.89 550.26 L2073.96 553.09 L2078.03 555.76 L2082.10 558.20 L2086.16 560.42 L2090.19 562.47 L2094.22 564.36 L2098.29 566.11 L2102.41 567.72 L2106.60 569.20 L2111.16 570.56 L2116.13 571.80 L2121.14 572.89 L2125.86 573.85 L2129.93 574.65 L2133.00 575.30 L2134.89 575.74 L2135.84 575.96 L2136.15 576.03 L2136.09 576.02 L2135.94 575.99 L2136.00 576.00" stroke="#0040ff" stroke-width="6.0" fill="none" stroke-linejoin="round" stroke-dasharray="24.5 5.3 12.5 5.3"/>
<path d="M1295.90 486.80 L1298.47 486.67 L1302.02 486.46 L1306.23 486.23 L1310.77 486.04 L1315.30 485.98 L1319.50 486.10 L1323.42 486.45 L1327.34 486.99 L1331.26 487.64 L1335.18 488.35 L1339.09 489.06 L1343.00 489.70 L1346.90 490.33 L1350.80 491.00 L1354.70 491.68 L1358.60 492.30 L1362.50 492.82 L1366.40 493.20 L1370.39 493.48 L1374.49 493.72 L1378.58 493.86 L1382.58 493.86 L1386.39 493.65 L1389.90 493.20 L1393.03 492.49 L1395.84 491.57 L1398.45 490.46 L1401.00 489.16 L1403.60 487.70 L1406.40 486.10 L1409.41 484.19 L1412.55 481.93 L1415.75 479.50 L1418.95 477.11 L1422.09 474.94 L1425.10 473.20 L1427.98 471.87 L1430.77 470.81 L1433.49 469.97 L1436.19 469.33 L1438.88 468.85 L1441.60 468.50 L1444.37 468.50 L1447.16 468.90 L1449.95 469.47 L1452.71 469.96 L1455.40 470.11 L1458.00 469.70 L1460.46 468.67 L1462.79 467.21 L1465.05 465.43 L1467.31 463.41 L1469.64 461.27 L1472.10 459.10 L1474.73 456.70 L1477.48 453.94 L1480.30 451.06 L1483.12 448.27 L1485.87 445.81 L1488.50 443.90 L1491.04 442.70 L1493.54 442.05 L1495.99 441.72 L1498.33 441.50 L1500.55 441.13 L1502.60 440.40 L1504.39 439.26 L1505.92 437.89 L1507.32 436.37 L1508.71 434.83 L1510.23 433.34 L1512.00 432.00 L1514.05 430.57 L1516.30 428.93 L1518.67 427.34 L1521.09 426.09 L1523.49 425.45 L1525.80 425.70 L1528.04 426.97 L1530.27 429.06 L1532.47 431.76 L1534.66 434.86 L1536.80 438.14 L1538.90 441.40 L1540.91 445.31 L1542.83 450.17 L1544.71 455.22 L1546.61 459.69 L1548.59 462.81 L1550.70 463.80 L1553.01 461.90 L1555.48 457.57 L1558.03 451.89 L1560.56 445.93 L1562.98 440.77 L1565.20 437.50 L1567.21 436.32 L1569.09 436.42 L1570.86 437.32 L1572.54 438.55 L1574.15 439.63 L1575.70 440.10 L1577.14 439.66 L1578.43 438.64 L1579.65 437.48 L1580.87 436.61 L1582.16 436.47 L1583.60 437.50 L1585.21 440.40 L1586.96 444.96 L1588.77 450.26 L1590.60 455.35 L1592.40 459.31 L1594.10 461.20 L1595.74 460.33 L1597.36 457.31 L1598.94 453.15 L1600.47 448.88 L1601.93 445.52 L1603.30 444.10 L1604.51 444.88 L1605.55 447.09 L1606.52 450.22 L1607.51 453.73 L1608.60 457.10 L1609.90 459.80 L1611.42 462.02 L1613.11 464.20 L1614.91 466.25 L1616.76 468.04 L1618.60 469.46 L1620.40 470.40 L1622.09 470.64 L1623.70 470.24 L1625.32 469.46 L1627.01 468.60 L1628.84 467.92 L1630.90 467.70 L1633.23 467.93 L1635.77 468.39 L1638.47 469.04 L1641.24 469.83 L1644.01 470.73 L1646.70 471.70 L1649.33 472.73 L1651.97 473.85 L1654.61 475.08 L1657.24 476.44 L1659.87 477.94 L1662.50 479.60 L1665.18 481.65 L1667.93 484.11 L1670.67 486.73 L1673.35 489.21 L1675.88 491.29 L1678.20 492.70 L1680.26 493.13 L1682.11 492.75 L1683.83 491.97 L1685.46 491.20 L1687.10 490.87 L1688.80 491.40 L1690.56 492.95 L1692.31 495.23 L1694.06 497.94 L1695.80 500.80 L1697.55 503.52 L1699.30 505.80 L1701.02 507.63 L1702.70 509.25 L1704.39 510.72 L1706.11 512.12 L1707.90 513.52 L1709.80 515.00 L1711.90 516.67 L1714.19 518.49 L1716.55 520.31 L1718.87 521.98 L1721.02 523.36 L1722.90 524.30 L1724.42 524.92 L1725.66 525.36 L1726.74 525.50 L1727.77 525.23 L1728.89 524.44 L1730.20 523.00 L1731.72 520.60 L1733.36 517.26 L1735.07 513.40 L1736.82 509.41 L1738.58 505.71 L1740.30 502.70 L1742.02 500.54 L1743.79 498.96 L1745.56 497.65 L1747.29 496.34 L1748.95 494.76 L1750.50 492.60 L1751.93 489.93 L1753.27 486.97 L1754.54 483.73 L1755.76 480.20 L1756.94 476.39 L1758.10 472.30 L1759.22 467.75 L1760.29 462.70 L1761.32 457.37 L1762.34 451.97 L1763.36 446.71 L1764.40 441.80 L1765.45 437.42 L1766.48 433.42 L1767.52 429.57 L1768.57 425.61 L1769.66 421.30 L1770.80 416.40 L1772.00 411.09 L1773.24 405.61 L1774.52 399.77 L1775.82 393.41 L1777.12 386.35 L1778.40 378.40 L1779.66 369.54 L1780.90 359.91 L1782.14 349.58 L1783.40 338.61 L1784.68 327.06 L1786.00 315.00 L1787.36 301.78 L1788.76 287.22 L1790.18 272.09 L1791.62 257.14 L1793.06 243.16 L1794.50 230.90 L1795.94 220.51 L1797.39 211.41 L1798.84 203.28 L1800.30 195.76 L1801.75 188.55 L1803.20 181.30 L1804.61 173.90 L1805.99 166.58 L1807.37 159.56 L1808.77 153.05 L1810.24 147.26 L1811.80 142.40 L1813.50 138.43 L1815.31 135.19 L1817.19 132.66 L1819.07 130.85 L1820.90 129.76 L1822.60 129.40 L1824.17 129.84 L1825.66 131.09 L1827.09 133.06 L1828.49 135.67 L1829.88 138.81 L1831.30 142.40 L1832.74 146.75 L1834.17 152.00 L1835.61 157.79 L1837.04 163.76 L1838.47 169.55 L1839.90 174.80 L1841.33 179.49 L1842.76 183.91 L1844.19 188.16 L1845.63 192.31 L1847.06 196.46 L1848.50 200.70 L1849.92 205.04 L1851.31 209.41 L1852.71 213.78 L1854.14 218.12 L1855.63 222.40 L1857.20 226.60 L1858.88 230.74 L1860.64 234.85 L1862.47 238.91 L1864.32 242.87 L1866.18 246.71 L1868.00 250.40 L1869.80 253.96 L1871.60 257.43 L1873.40 260.78 L1875.20 263.98 L1877.00 266.99 L1878.80 269.80 L1880.60 272.37 L1882.40 274.74 L1884.20 276.92 L1886.00 278.95 L1887.80 280.87 L1889.60 282.70 L1891.40 284.42 L1893.20 285.99 L1895.00 287.45 L1896.80 288.82 L1898.60 290.13 L1900.40 291.40 L1902.19 292.26 L1903.97 292.61 L1905.74 292.91 L1907.53 293.59 L1909.35 295.10 L1911.20 297.90 L1913.12 302.25 L1915.12 307.83 L1917.14 314.26 L1919.14 321.11 L1921.07 327.99 L1922.90 334.50 L1924.60 340.79 L1926.20 347.22 L1927.74 353.68 L1929.25 360.06 L1930.76 366.23 L1932.30 372.10 L1933.87 377.59 L1935.44 382.79 L1937.01 387.79 L1938.57 392.70 L1940.14 397.60 L1941.70 402.60 L1943.25 407.90 L1944.80 413.46 L1946.35 419.02 L1947.90 424.32 L1949.45 429.10 L1951.00 433.10 L1952.53 436.04 L1954.04 438.07 L1955.54 439.59 L1957.09 440.97 L1958.69 442.61 L1960.40 444.90 L1962.22 447.88 L1964.14 451.24 L1966.12 454.86 L1968.15 458.61 L1970.18 462.36 L1972.20 466.00 L1974.21 469.56 L1976.24 473.15 L1978.28 476.74 L1980.32 480.32 L1982.36 483.85 L1984.40 487.30 L1986.29 490.58 L1988.01 493.69 L1989.73 496.76 L1991.62 499.90 L1993.85 503.24 L1996.60 506.90 L1999.97 510.98 L2003.86 515.39 L2008.09 519.99 L2012.49 524.67 L2016.88 529.28 L2021.10 533.70 L2025.17 538.00 L2029.24 542.31 L2033.31 546.56 L2037.37 550.67 L2041.43 554.57 L2045.50 558.20 L2049.57 561.53 L2053.63 564.63 L2057.70 567.52 L2061.77 570.24 L2065.83 572.82 L2069.90 575.30 L2073.80 577.63 L2077.50 579.77 L2081.21 581.78 L2085.11 583.70 L2089.41 585.59 L2094.30 587.50 L2100.34 589.52 L2107.46 591.63 L2114.99 593.71 L2122.21 595.63 L2128.45 597.27 L2133.00 598.50 L2135.60 599.24 L2136.76 599.58 L2136.92 599.64 L2136.54 599.54 L2136.09 599.42 L2136.00 599.40" stroke="#00ffff" stroke-width="6.0" fill="none" stroke-linejoin="round"/>
<path d="M1295.90 462.70 L1297.93 462.87 L1300.72 463.10 L1304.03 463.38 L1307.64 463.69 L1311.30 464.00 L1314.80 464.30 L1318.22 464.69 L1321.76 465.20 L1325.36 465.72 L1328.96 466.13 L1332.49 466.33 L1335.90 466.20 L1339.11 465.71 L1342.16 464.94 L1345.15 463.96 L1348.17 462.81 L1351.32 461.58 L1354.70 460.30 L1358.43 458.82 L1362.45 457.05 L1366.60 455.19 L1370.72 453.41 L1374.64 451.92 L1378.20 450.90 L1381.32 450.39 L1384.10 450.26 L1386.69 450.41 L1389.22 450.75 L1391.81 451.18 L1394.60 451.60 L1397.65 452.19 L1400.86 453.06 L1404.14 454.01 L1407.39 454.88 L1410.51 455.47 L1413.40 455.60 L1416.00 455.26 L1418.36 454.58 L1420.60 453.63 L1422.80 452.46 L1425.07 451.13 L1427.50 449.70 L1430.10 448.03 L1432.79 446.06 L1435.55 443.92 L1438.34 441.77 L1441.13 439.75 L1443.90 438.00 L1446.67 436.64 L1449.49 435.58 L1452.30 434.65 L1455.08 433.69 L1457.79 432.52 L1460.40 431.00 L1462.88 429.03 L1465.25 426.74 L1467.55 424.25 L1469.82 421.69 L1472.09 419.20 L1474.40 416.90 L1476.77 414.61 L1479.18 412.19 L1481.59 409.82 L1483.97 407.73 L1486.28 406.09 L1488.50 405.10 L1490.62 404.95 L1492.68 405.50 L1494.67 406.51 L1496.61 407.73 L1498.48 408.91 L1500.30 409.80 L1501.97 410.55 L1503.46 411.41 L1504.90 412.22 L1506.39 412.85 L1508.05 413.16 L1510.00 413.00 L1512.31 412.20 L1514.91 410.84 L1517.69 409.16 L1520.51 407.40 L1523.25 405.80 L1525.80 404.60 L1528.11 403.71 L1530.27 402.91 L1532.35 402.28 L1534.43 401.87 L1536.59 401.76 L1538.90 402.00 L1541.38 402.88 L1543.97 404.39 L1546.63 406.20 L1549.33 407.95 L1552.04 409.30 L1554.70 409.90 L1557.39 409.49 L1560.16 408.29 L1562.93 406.68 L1565.63 405.06 L1568.17 403.80 L1570.50 403.30 L1572.59 403.58 L1574.49 404.33 L1576.24 405.45 L1577.89 406.83 L1579.46 408.35 L1581.00 409.90 L1582.44 411.81 L1583.73 414.23 L1584.95 416.79 L1586.17 419.13 L1587.46 420.89 L1588.90 421.70 L1590.53 421.40 L1592.30 420.24 L1594.15 418.49 L1596.00 416.44 L1597.77 414.35 L1599.40 412.50 L1600.81 410.64 L1602.03 408.51 L1603.19 406.34 L1604.38 404.38 L1605.71 402.85 L1607.30 402.00 L1609.18 401.79 L1611.28 402.01 L1613.52 402.68 L1615.83 403.79 L1618.15 405.33 L1620.40 407.30 L1622.60 410.12 L1624.80 413.87 L1627.00 418.05 L1629.20 422.18 L1631.40 425.76 L1633.60 428.30 L1635.77 429.75 L1637.92 430.49 L1640.07 430.68 L1642.23 430.48 L1644.44 430.07 L1646.70 429.60 L1649.10 428.58 L1651.63 426.77 L1654.19 424.74 L1656.71 423.06 L1659.07 422.29 L1661.20 423.00 L1662.99 425.81 L1664.51 430.40 L1665.89 435.90 L1667.24 441.46 L1668.70 446.21 L1670.40 449.30 L1672.33 450.39 L1674.38 450.09 L1676.54 448.99 L1678.79 447.67 L1681.12 446.71 L1683.50 446.70 L1686.01 447.84 L1688.67 449.71 L1691.40 451.95 L1694.13 454.19 L1696.79 456.06 L1699.30 457.20 L1701.61 457.34 L1703.77 456.72 L1705.85 455.74 L1707.93 454.79 L1710.09 454.28 L1712.40 454.60 L1714.95 456.12 L1717.70 458.59 L1720.52 461.49 L1723.29 464.32 L1725.89 466.56 L1728.20 467.70 L1730.12 467.50 L1731.74 466.32 L1733.19 464.55 L1734.60 462.58 L1736.09 460.80 L1737.80 459.60 L1739.81 459.25 L1742.04 459.51 L1744.36 459.95 L1746.63 460.17 L1748.72 459.76 L1750.50 458.30 L1751.92 455.50 L1753.07 451.63 L1754.05 447.12 L1754.94 442.42 L1755.82 437.97 L1756.80 434.20 L1757.83 431.24 L1758.85 428.76 L1759.86 426.52 L1760.90 424.31 L1761.97 421.88 L1763.10 419.00 L1764.32 415.72 L1765.61 412.21 L1766.95 408.50 L1768.29 404.57 L1769.58 400.44 L1770.80 396.10 L1771.93 391.53 L1773.00 386.72 L1774.03 381.70 L1775.04 376.50 L1776.06 371.16 L1777.10 365.70 L1778.11 360.74 L1779.06 356.38 L1780.01 351.87 L1781.02 346.47 L1782.17 339.43 L1783.50 330.00 L1785.09 317.17 L1786.91 301.34 L1788.86 283.88 L1790.83 266.12 L1792.75 249.44 L1794.50 235.20 L1796.08 223.36 L1797.57 212.84 L1799.00 203.39 L1800.39 194.77 L1801.78 186.76 L1803.20 179.10 L1804.61 171.84 L1805.99 165.17 L1807.37 159.10 L1808.77 153.63 L1810.24 148.76 L1811.80 144.50 L1813.50 140.80 L1815.31 137.64 L1817.19 135.08 L1819.07 133.19 L1820.90 132.01 L1822.60 131.60 L1824.15 131.98 L1825.58 133.10 L1826.96 134.94 L1828.33 137.47 L1829.76 140.67 L1831.30 144.50 L1832.97 149.25 L1834.73 155.00 L1836.54 161.41 L1838.37 168.16 L1840.21 174.90 L1842.00 181.30 L1843.76 187.47 L1845.50 193.70 L1847.23 199.93 L1848.97 206.09 L1850.72 212.13 L1852.50 218.00 L1854.33 223.77 L1856.21 229.52 L1858.11 235.14 L1859.98 240.56 L1861.79 245.67 L1863.50 250.40 L1865.07 254.65 L1866.52 258.48 L1867.91 262.01 L1869.30 265.36 L1870.74 268.65 L1872.30 272.00 L1873.98 275.51 L1875.75 279.11 L1877.57 282.64 L1879.43 285.97 L1881.28 288.94 L1883.10 291.40 L1884.90 293.43 L1886.70 295.16 L1888.50 296.54 L1890.30 297.49 L1892.10 297.97 L1893.90 297.90 L1895.70 297.00 L1897.49 295.25 L1899.28 293.02 L1901.08 290.68 L1902.88 288.59 L1904.70 287.10 L1906.55 286.03 L1908.44 285.04 L1910.34 284.30 L1912.21 283.97 L1914.04 284.22 L1915.80 285.20 L1917.47 286.95 L1919.06 289.33 L1920.61 292.28 L1922.13 295.75 L1923.65 299.68 L1925.20 304.00 L1926.79 309.00 L1928.42 314.78 L1930.04 321.01 L1931.64 327.38 L1933.17 333.55 L1934.60 339.20 L1935.92 344.31 L1937.14 349.12 L1938.30 353.74 L1939.43 358.26 L1940.55 362.78 L1941.70 367.40 L1942.87 372.07 L1944.04 376.71 L1945.21 381.36 L1946.37 386.03 L1947.53 390.77 L1948.70 395.60 L1949.87 400.58 L1951.03 405.68 L1952.19 410.85 L1953.36 416.02 L1954.53 421.12 L1955.70 426.10 L1956.85 430.94 L1957.97 435.69 L1959.10 440.38 L1960.26 445.02 L1961.48 449.66 L1962.80 454.30 L1964.20 458.98 L1965.66 463.67 L1967.18 468.36 L1968.77 472.99 L1970.44 477.55 L1972.20 482.00 L1974.01 486.35 L1975.88 490.61 L1977.82 494.81 L1979.87 498.92 L1982.05 502.95 L1984.40 506.90 L1986.94 510.74 L1989.64 514.45 L1992.49 518.09 L1995.43 521.68 L1998.45 525.27 L2001.50 528.90 L2004.57 532.50 L2007.67 536.02 L2010.84 539.54 L2014.12 543.13 L2017.53 546.86 L2021.10 550.80 L2024.89 555.11 L2028.88 559.76 L2033.00 564.55 L2037.19 569.27 L2041.38 573.73 L2045.50 577.70 L2049.57 581.12 L2053.63 584.13 L2057.70 586.86 L2061.77 589.46 L2065.83 592.06 L2069.90 594.80 L2073.80 597.73 L2077.50 600.77 L2081.21 603.81 L2085.11 606.74 L2089.41 609.47 L2094.30 611.90 L2100.34 614.06 L2107.46 616.04 L2114.99 617.82 L2122.21 619.37 L2128.45 620.67 L2133.00 621.70 L2135.60 622.36 L2136.76 622.66 L2136.92 622.71 L2136.54 622.63 L2136.09 622.52 L2136.00 622.50" stroke="#80ff00" stroke-width="6.0" fill="none" stroke-linejoin="round" stroke-dasharray="24.5 5.3 12.5 5.3"/>
<path d="M1295.90 438.00 L1297.99 438.07 L1300.89 438.22 L1304.33 438.37 L1307.99 438.44 L1311.58 438.34 L1314.80 438.00 L1317.65 437.41 L1320.36 436.64 L1323.01 435.71 L1325.65 434.63 L1328.36 433.42 L1331.20 432.10 L1334.14 430.61 L1337.11 428.92 L1340.16 427.10 L1343.30 425.23 L1346.57 423.37 L1350.00 421.60 L1353.73 419.73 L1357.75 417.66 L1361.90 415.60 L1366.02 413.78 L1369.94 412.41 L1373.50 411.70 L1376.56 411.73 L1379.23 412.35 L1381.70 413.42 L1384.17 414.80 L1386.84 416.37 L1389.90 418.00 L1393.41 419.96 L1397.21 422.43 L1401.21 425.07 L1405.30 427.60 L1409.40 429.68 L1413.40 431.00 L1417.43 431.42 L1421.58 431.17 L1425.74 430.47 L1429.76 429.57 L1433.53 428.70 L1436.90 428.10 L1439.79 427.96 L1442.30 428.14 L1444.54 428.34 L1446.65 428.30 L1448.76 427.71 L1451.00 426.30 L1453.32 423.86 L1455.61 420.58 L1457.91 416.76 L1460.23 412.70 L1462.62 408.71 L1465.10 405.10 L1467.70 401.58 L1470.40 397.86 L1473.16 394.21 L1475.95 390.90 L1478.74 388.20 L1481.50 386.40 L1484.28 385.80 L1487.13 386.24 L1489.97 387.29 L1492.75 388.54 L1495.42 389.55 L1497.90 389.90 L1500.12 389.55 L1502.11 388.82 L1503.99 387.86 L1505.85 386.80 L1507.82 385.77 L1510.00 384.90 L1512.42 384.29 L1515.00 383.86 L1517.67 383.46 L1520.40 382.95 L1523.13 382.18 L1525.80 381.00 L1528.42 378.91 L1531.04 375.92 L1533.65 372.68 L1536.26 369.81 L1538.88 367.97 L1541.50 367.80 L1544.11 370.10 L1546.71 374.53 L1549.31 379.98 L1551.93 385.35 L1554.59 389.56 L1557.30 391.50 L1560.17 390.60 L1563.20 387.61 L1566.26 383.46 L1569.24 379.04 L1571.99 375.29 L1574.40 373.10 L1576.41 372.46 L1578.10 372.64 L1579.58 373.48 L1580.92 374.81 L1582.23 376.47 L1583.60 378.30 L1584.90 380.93 L1586.04 384.63 L1587.14 388.65 L1588.33 392.27 L1589.74 394.77 L1591.50 395.40 L1593.71 393.40 L1596.28 389.19 L1599.08 383.85 L1601.94 378.46 L1604.73 374.08 L1607.30 371.80 L1609.61 371.81 L1611.77 373.30 L1613.85 375.81 L1615.93 378.88 L1618.09 382.06 L1620.40 384.90 L1622.82 387.70 L1625.27 390.89 L1627.81 394.19 L1630.45 397.32 L1633.23 400.02 L1636.20 402.00 L1639.52 403.19 L1643.20 403.80 L1647.03 403.96 L1650.79 403.84 L1654.25 403.57 L1657.20 403.30 L1659.56 402.72 L1661.48 401.66 L1663.11 400.44 L1664.59 399.43 L1666.07 398.97 L1667.70 399.40 L1669.42 400.99 L1671.10 403.50 L1672.78 406.57 L1674.50 409.80 L1676.29 412.80 L1678.20 415.20 L1680.31 417.14 L1682.60 418.97 L1684.96 420.57 L1687.29 421.85 L1689.48 422.70 L1691.40 423.00 L1693.05 422.45 L1694.53 421.07 L1695.85 419.26 L1697.06 417.41 L1698.20 415.93 L1699.30 415.20 L1700.26 415.42 L1701.03 416.31 L1701.73 417.56 L1702.47 418.86 L1703.35 419.91 L1704.50 420.40 L1705.93 420.00 L1707.54 418.90 L1709.31 417.54 L1711.18 416.39 L1713.13 415.89 L1715.10 416.50 L1717.17 418.62 L1719.37 421.98 L1721.64 425.99 L1723.91 430.09 L1726.12 433.68 L1728.20 436.20 L1730.16 437.69 L1732.04 438.61 L1733.86 439.04 L1735.63 439.04 L1737.34 438.67 L1739.00 438.00 L1740.61 436.76 L1742.16 434.85 L1743.65 432.57 L1745.10 430.23 L1746.51 428.14 L1747.90 426.60 L1749.30 425.82 L1750.71 425.58 L1752.09 425.59 L1753.39 425.55 L1754.54 425.15 L1755.50 424.10 L1756.16 422.32 L1756.55 420.04 L1756.80 417.40 L1757.05 414.55 L1757.44 411.64 L1758.10 408.80 L1759.08 406.02 L1760.26 403.17 L1761.59 400.26 L1762.98 397.28 L1764.38 394.23 L1765.70 391.10 L1766.97 387.96 L1768.23 384.81 L1769.50 381.59 L1770.77 378.23 L1772.03 374.66 L1773.30 370.80 L1774.55 366.95 L1775.77 363.23 L1776.99 359.29 L1778.24 354.80 L1779.53 349.41 L1780.90 342.80 L1782.36 334.57 L1783.90 324.91 L1785.48 314.37 L1787.08 303.46 L1788.67 292.73 L1790.20 282.70 L1791.69 273.28 L1793.15 264.04 L1794.59 254.96 L1796.03 246.06 L1797.46 237.34 L1798.90 228.80 L1800.34 220.21 L1801.77 211.53 L1803.21 203.03 L1804.64 194.98 L1806.07 187.64 L1807.50 181.30 L1808.93 176.13 L1810.36 171.94 L1811.79 168.48 L1813.23 165.47 L1814.66 162.63 L1816.10 159.70 L1817.57 156.44 L1819.07 153.03 L1820.58 149.80 L1822.06 147.08 L1823.48 145.20 L1824.80 144.50 L1825.99 145.10 L1827.05 146.76 L1828.06 149.26 L1829.06 152.40 L1830.12 155.95 L1831.30 159.70 L1832.61 163.74 L1834.01 168.26 L1835.47 173.19 L1836.96 178.48 L1838.44 184.07 L1839.90 189.90 L1841.33 196.23 L1842.76 203.16 L1844.19 210.39 L1845.63 217.63 L1847.06 224.56 L1848.50 230.90 L1849.92 236.60 L1851.31 241.88 L1852.71 246.86 L1854.14 251.67 L1855.63 256.41 L1857.20 261.20 L1858.90 266.10 L1860.73 271.02 L1862.61 275.88 L1864.49 280.58 L1866.30 285.05 L1868.00 289.20 L1869.57 292.96 L1871.06 296.37 L1872.48 299.56 L1873.87 302.60 L1875.23 305.62 L1876.60 308.70 L1877.94 312.29 L1879.23 316.41 L1880.50 320.49 L1881.78 323.98 L1883.10 326.34 L1884.50 327.00 L1885.96 325.58 L1887.47 322.43 L1889.02 318.14 L1890.61 313.30 L1892.23 308.49 L1893.90 304.30 L1895.64 300.53 L1897.47 296.69 L1899.34 292.88 L1901.20 289.20 L1903.00 285.77 L1904.70 282.70 L1906.28 279.80 L1907.76 276.95 L1909.19 274.34 L1910.60 272.19 L1912.02 270.67 L1913.50 270.00 L1915.06 270.28 L1916.68 271.39 L1918.31 273.13 L1919.92 275.35 L1921.47 277.86 L1922.90 280.50 L1924.20 283.39 L1925.41 286.69 L1926.54 290.29 L1927.65 294.07 L1928.76 297.92 L1929.90 301.70 L1931.05 305.47 L1932.17 309.33 L1933.30 313.26 L1934.46 317.21 L1935.68 321.17 L1937.00 325.10 L1938.46 329.07 L1940.05 333.10 L1941.71 337.14 L1943.36 341.11 L1944.95 344.95 L1946.40 348.60 L1947.71 352.01 L1948.91 355.21 L1950.05 358.29 L1951.16 361.31 L1952.26 364.32 L1953.40 367.40 L1954.57 370.59 L1955.73 373.84 L1956.89 377.09 L1958.06 380.28 L1959.23 383.34 L1960.40 386.20 L1961.61 388.66 L1962.85 390.73 L1964.09 392.67 L1965.31 394.74 L1966.45 397.19 L1967.50 400.30 L1968.42 404.17 L1969.24 408.63 L1970.00 413.47 L1970.72 418.51 L1971.44 423.55 L1972.20 428.40 L1972.98 433.15 L1973.75 437.97 L1974.53 442.79 L1975.30 447.55 L1976.09 452.18 L1976.90 456.60 L1977.70 460.74 L1978.49 464.63 L1979.29 468.38 L1980.12 472.12 L1981.02 475.95 L1982.00 480.00 L1983.09 484.34 L1984.27 488.89 L1985.51 493.54 L1986.79 498.17 L1988.06 502.66 L1989.30 506.90 L1990.52 510.88 L1991.73 514.69 L1992.94 518.36 L1994.16 521.93 L1995.38 525.43 L1996.60 528.90 L1997.83 532.27 L1999.06 535.49 L2000.30 538.65 L2001.54 541.81 L2002.77 545.03 L2004.00 548.40 L2005.17 551.98 L2006.26 555.73 L2007.35 559.55 L2008.51 563.34 L2009.80 566.99 L2011.30 570.40 L2013.05 573.56 L2015.00 576.56 L2017.09 579.41 L2019.25 582.17 L2021.41 584.85 L2023.50 587.50 L2025.53 590.05 L2027.57 592.46 L2029.60 594.80 L2031.63 597.14 L2033.67 599.55 L2035.70 602.10 L2037.70 604.83 L2039.67 607.70 L2041.64 610.64 L2043.65 613.59 L2045.72 616.46 L2047.90 619.20 L2050.15 621.79 L2052.44 624.28 L2054.79 626.71 L2057.25 629.10 L2059.84 631.48 L2062.60 633.90 L2065.51 636.37 L2068.56 638.86 L2071.74 641.35 L2075.05 643.81 L2078.51 646.20 L2082.10 648.50 L2085.87 650.74 L2089.83 652.96 L2093.92 655.11 L2098.11 657.16 L2102.35 659.07 L2106.60 660.80 L2111.16 662.38 L2116.13 663.84 L2121.14 665.17 L2125.86 666.33 L2129.93 667.32 L2133.00 668.10 L2134.89 668.62 L2135.84 668.88 L2136.15 668.96 L2136.09 668.93 L2135.94 668.89 L2136.00 668.90" stroke="#ffbf00" stroke-width="6.0" fill="none" stroke-linejoin="round"/>
<path d="M1295.90 384.00 L1298.47 383.95 L1302.02 383.88 L1306.23 383.79 L1310.77 383.70 L1315.30 383.60 L1319.50 383.50 L1323.42 383.41 L1327.34 383.31 L1331.26 383.22 L1335.18 383.11 L1339.09 382.97 L1343.00 382.80 L1346.96 382.53 L1350.98 382.17 L1354.99 381.78 L1358.94 381.44 L1362.77 381.22 L1366.40 381.20 L1369.75 381.38 L1372.83 381.69 L1375.79 382.13 L1378.76 382.67 L1381.85 383.30 L1385.20 384.00 L1388.90 384.97 L1392.86 386.26 L1396.95 387.64 L1401.04 388.86 L1405.00 389.70 L1408.70 389.90 L1412.13 389.34 L1415.40 388.17 L1418.54 386.61 L1421.59 384.87 L1424.56 383.17 L1427.50 381.70 L1430.40 380.38 L1433.23 379.03 L1435.99 377.71 L1438.69 376.49 L1441.33 375.43 L1443.90 374.60 L1446.38 374.19 L1448.77 374.20 L1451.09 374.36 L1453.39 374.45 L1455.68 374.21 L1458.00 373.40 L1460.35 371.89 L1462.70 369.84 L1465.05 367.46 L1467.40 364.97 L1469.75 362.58 L1472.10 360.50 L1474.48 358.54 L1476.89 356.50 L1479.30 354.55 L1481.68 352.88 L1483.99 351.67 L1486.20 351.10 L1488.28 351.25 L1490.26 352.00 L1492.17 353.20 L1494.06 354.73 L1495.95 356.44 L1497.90 358.20 L1499.91 360.17 L1501.96 362.48 L1504.03 364.98 L1506.07 367.51 L1508.07 369.90 L1510.00 372.00 L1511.84 373.65 L1513.62 374.96 L1515.35 376.13 L1517.06 377.39 L1518.77 378.94 L1520.50 381.00 L1522.25 383.82 L1524.00 387.26 L1525.75 391.00 L1527.50 394.71 L1529.25 398.05 L1531.00 400.70 L1532.73 402.47 L1534.45 403.58 L1536.16 404.33 L1537.90 405.01 L1539.67 405.90 L1541.50 407.30 L1543.43 409.55 L1545.46 412.49 L1547.53 415.65 L1549.58 418.55 L1551.56 420.73 L1553.40 421.70 L1555.09 421.13 L1556.67 419.32 L1558.17 416.78 L1559.63 414.03 L1561.10 411.56 L1562.60 409.90 L1564.13 409.41 L1565.67 409.76 L1567.20 410.41 L1568.73 410.79 L1570.27 410.37 L1571.80 408.60 L1573.32 404.86 L1574.82 399.47 L1576.32 393.28 L1577.84 387.13 L1579.39 381.85 L1581.00 378.30 L1582.70 376.94 L1584.50 377.20 L1586.33 378.34 L1588.14 379.62 L1589.89 380.32 L1591.50 379.70 L1592.94 377.61 L1594.23 374.60 L1595.45 371.01 L1596.67 367.16 L1597.96 363.38 L1599.40 360.00 L1600.97 356.89 L1602.61 353.77 L1604.33 350.71 L1606.11 347.82 L1607.97 345.19 L1609.90 342.90 L1611.90 341.05 L1613.97 339.59 L1616.12 338.38 L1618.34 337.29 L1620.63 336.21 L1623.00 335.00 L1625.51 333.43 L1628.16 331.54 L1630.89 329.66 L1633.63 328.08 L1636.29 327.13 L1638.80 327.10 L1641.18 328.09 L1643.49 329.86 L1645.73 332.24 L1647.90 335.09 L1649.99 338.23 L1652.00 341.50 L1653.91 345.13 L1655.70 349.29 L1657.42 353.75 L1659.10 358.26 L1660.78 362.59 L1662.50 366.50 L1664.22 370.01 L1665.90 373.31 L1667.59 376.44 L1669.31 379.40 L1671.10 382.21 L1673.00 384.90 L1675.03 387.58 L1677.17 390.27 L1679.38 392.82 L1681.63 395.07 L1683.88 396.88 L1686.10 398.10 L1688.33 398.72 L1690.59 398.86 L1692.86 398.56 L1695.10 397.85 L1697.26 396.79 L1699.30 395.40 L1701.21 393.37 L1703.00 390.60 L1704.72 387.47 L1706.40 384.36 L1708.08 381.64 L1709.80 379.70 L1711.57 378.59 L1713.37 378.03 L1715.17 377.86 L1716.94 377.94 L1718.66 378.14 L1720.30 378.30 L1721.83 378.22 L1723.25 377.98 L1724.62 377.84 L1725.99 378.10 L1727.40 379.03 L1728.90 380.90 L1730.51 384.40 L1732.20 389.43 L1733.93 395.13 L1735.67 400.64 L1737.37 405.08 L1739.00 407.60 L1740.57 407.89 L1742.10 406.59 L1743.61 404.23 L1745.07 401.34 L1746.51 398.45 L1747.90 396.10 L1749.23 394.11 L1750.48 392.01 L1751.70 389.92 L1752.92 387.93 L1754.17 386.16 L1755.50 384.70 L1756.94 384.10 L1758.46 384.39 L1760.03 384.89 L1761.57 384.93 L1763.05 383.82 L1764.40 380.90 L1765.59 375.39 L1766.64 367.69 L1767.62 358.84 L1768.60 349.91 L1769.63 341.95 L1770.80 336.00 L1772.10 332.56 L1773.50 330.88 L1774.96 330.17 L1776.44 329.63 L1777.94 328.47 L1779.40 325.90 L1780.82 321.84 L1782.21 316.91 L1783.61 311.36 L1785.04 305.44 L1786.53 299.41 L1788.10 293.50 L1789.78 287.58 L1791.54 281.43 L1793.37 275.15 L1795.22 268.87 L1797.08 262.72 L1798.90 256.80 L1800.73 250.90 L1802.58 244.88 L1804.44 238.98 L1806.26 233.44 L1808.03 228.50 L1809.70 224.40 L1811.28 221.30 L1812.81 219.04 L1814.27 217.38 L1815.67 216.07 L1817.01 214.90 L1818.30 213.60 L1819.50 212.08 L1820.62 210.50 L1821.68 209.05 L1822.71 207.90 L1823.74 207.22 L1824.80 207.20 L1825.86 207.83 L1826.89 208.97 L1827.92 210.58 L1828.98 212.64 L1830.10 215.13 L1831.30 218.00 L1832.64 221.49 L1834.09 225.67 L1835.60 230.28 L1837.11 235.03 L1838.56 239.66 L1839.90 243.90 L1841.10 247.60 L1842.22 250.94 L1843.28 254.16 L1844.31 257.50 L1845.34 261.20 L1846.40 265.50 L1847.48 270.78 L1848.57 276.92 L1849.66 283.42 L1850.74 289.78 L1851.82 295.47 L1852.90 300.00 L1853.97 303.10 L1855.04 305.12 L1856.10 306.48 L1857.16 307.60 L1858.23 308.90 L1859.30 310.80 L1860.38 313.36 L1861.47 316.25 L1862.56 319.33 L1863.65 322.41 L1864.73 325.36 L1865.80 328.00 L1866.88 330.39 L1867.97 332.68 L1869.06 334.82 L1870.11 336.79 L1871.10 338.52 L1872.00 340.00 L1872.75 341.25 L1873.37 342.30 L1873.92 343.12 L1874.49 343.70 L1875.16 344.00 L1876.00 344.00 L1877.05 343.71 L1878.26 343.15 L1879.56 342.31 L1880.90 341.19 L1882.23 339.75 L1883.50 338.00 L1884.71 335.71 L1885.91 332.85 L1887.09 329.69 L1888.27 326.48 L1889.44 323.50 L1890.60 321.00 L1891.72 319.02 L1892.79 317.36 L1893.86 315.92 L1894.95 314.61 L1896.12 313.33 L1897.40 312.00 L1898.85 310.56 L1900.44 309.06 L1902.11 307.61 L1903.77 306.27 L1905.36 305.14 L1906.80 304.30 L1908.08 303.76 L1909.24 303.47 L1910.33 303.38 L1911.38 303.46 L1912.43 303.68 L1913.50 304.00 L1914.61 304.44 L1915.73 305.02 L1916.84 305.74 L1917.94 306.60 L1918.99 307.59 L1920.00 308.70 L1920.92 309.94 L1921.76 311.31 L1922.56 312.81 L1923.37 314.44 L1924.24 316.21 L1925.20 318.10 L1926.27 320.23 L1927.43 322.63 L1928.64 325.15 L1929.87 327.67 L1931.10 330.07 L1932.30 332.20 L1933.50 333.98 L1934.73 335.51 L1935.95 336.90 L1937.14 338.29 L1938.27 339.82 L1939.30 341.60 L1940.14 343.83 L1940.78 346.43 L1941.36 349.17 L1942.00 351.79 L1942.84 354.05 L1944.00 355.70 L1945.52 356.55 L1947.29 356.77 L1949.26 356.62 L1951.36 356.39 L1953.53 356.36 L1955.70 356.80 L1957.99 357.61 L1960.48 358.53 L1963.04 359.64 L1965.53 361.04 L1967.83 362.80 L1969.80 365.00 L1971.39 367.75 L1972.69 371.02 L1973.79 374.64 L1974.80 378.48 L1975.80 382.38 L1976.90 386.20 L1978.04 389.98 L1979.15 393.87 L1980.26 397.81 L1981.39 401.79 L1982.60 405.76 L1983.90 409.70 L1985.30 413.66 L1986.77 417.68 L1988.30 421.69 L1989.90 425.64 L1991.57 429.47 L1993.30 433.10 L1995.16 436.39 L1997.17 439.36 L1999.25 442.21 L2001.31 445.11 L2003.29 448.28 L2005.10 451.90 L2006.70 456.09 L2008.16 460.71 L2009.52 465.60 L2010.86 470.56 L2012.23 475.42 L2013.70 480.00 L2015.26 484.28 L2016.88 488.40 L2018.53 492.43 L2020.19 496.40 L2021.85 500.37 L2023.50 504.40 L2025.13 508.42 L2026.77 512.38 L2028.41 516.34 L2030.04 520.37 L2031.67 524.54 L2033.30 528.90 L2034.92 533.53 L2036.54 538.40 L2038.15 543.41 L2039.76 548.44 L2041.38 553.41 L2043.00 558.20 L2044.63 562.84 L2046.26 567.40 L2047.89 571.90 L2049.53 576.33 L2051.17 580.70 L2052.80 585.00 L2054.43 589.16 L2056.07 593.16 L2057.70 597.09 L2059.33 601.06 L2060.97 605.17 L2062.60 609.50 L2064.23 614.22 L2065.87 619.27 L2067.51 624.46 L2069.14 629.58 L2070.77 634.43 L2072.40 638.80 L2074.02 642.59 L2075.64 645.93 L2077.25 649.01 L2078.86 651.98 L2080.48 655.02 L2082.10 658.30 L2083.70 661.82 L2085.27 665.45 L2086.84 669.14 L2088.45 672.87 L2090.13 676.60 L2091.90 680.30 L2093.79 684.02 L2095.79 687.81 L2097.85 691.61 L2099.94 695.33 L2102.04 698.92 L2104.10 702.30 L2106.08 705.52 L2108.00 708.64 L2109.92 711.62 L2111.90 714.43 L2114.01 717.03 L2116.30 719.40 L2118.98 721.54 L2122.04 723.48 L2125.23 725.21 L2128.28 726.73 L2130.96 728.03 L2133.00 729.10 L2134.33 729.87 L2135.13 730.32 L2135.54 730.56 L2135.73 730.66 L2135.83 730.71 L2136.00 730.80" stroke="#ff0000" stroke-width="6.0" fill="none" stroke-linejoin="round"/>
</g>
<g clip-path="url(#k1295_1)"><g filter="url(#spk1)">
<path d="M1295.90 528.40 L1297.45 529.51 L1299.59 531.02 L1302.12 532.82 L1304.85 534.81 L1307.57 536.91 L1310.10 539.00 L1312.46 541.19 L1314.81 543.57 L1317.16 546.06 L1319.50 548.54 L1321.85 550.92 L1324.20 553.10 L1326.60 555.17 L1329.07 557.21 L1331.54 559.16 L1333.95 560.92 L1336.22 562.43 L1338.30 563.60 L1340.03 564.52 L1341.44 565.26 L1342.71 565.74 L1344.05 565.88 L1345.65 565.59 L1347.70 564.80 L1350.33 563.31 L1353.41 561.14 L1356.76 558.56 L1360.16 555.79 L1363.44 553.09 L1366.40 550.70 L1369.02 548.54 L1371.44 546.38 L1373.74 544.29 L1375.97 542.33 L1378.20 540.55 L1380.50 539.00 L1382.85 537.67 L1385.20 536.50 L1387.55 535.52 L1389.90 534.73 L1392.25 534.15 L1394.60 533.80 L1396.95 533.75 L1399.30 534.00 L1401.65 534.46 L1404.00 535.04 L1406.35 535.65 L1408.70 536.20 L1411.05 536.85 L1413.40 537.70 L1415.75 538.59 L1418.10 539.33 L1420.45 539.76 L1422.80 539.70 L1425.15 539.10 L1427.50 538.08 L1429.85 536.75 L1432.20 535.21 L1434.55 533.56 L1436.90 531.90 L1439.25 530.13 L1441.60 528.13 L1443.95 526.03 L1446.30 523.93 L1448.65 521.95 L1451.00 520.20 L1453.30 518.56 L1455.53 516.92 L1457.76 515.40 L1460.06 514.11 L1462.48 513.17 L1465.10 512.70 L1468.00 512.96 L1471.16 513.91 L1474.45 515.22 L1477.74 516.53 L1480.90 517.50 L1483.80 517.80 L1486.44 517.34 L1488.91 516.39 L1491.26 515.09 L1493.52 513.63 L1495.72 512.14 L1497.90 510.80 L1499.99 509.60 L1501.94 508.42 L1503.84 507.22 L1505.77 505.97 L1507.79 504.64 L1510.00 503.20 L1512.45 501.42 L1515.09 499.28 L1517.84 497.06 L1520.60 495.04 L1523.28 493.49 L1525.80 492.70 L1528.14 492.98 L1530.36 494.17 L1532.51 495.84 L1534.63 497.54 L1536.74 498.84 L1538.90 499.30 L1541.10 498.56 L1543.30 496.91 L1545.50 494.86 L1547.70 492.92 L1549.90 491.59 L1552.10 491.40 L1554.29 492.61 L1556.47 494.89 L1558.66 497.77 L1560.84 500.85 L1563.02 503.67 L1565.20 505.80 L1567.44 507.50 L1569.76 509.17 L1572.07 510.58 L1574.32 511.52 L1576.42 511.77 L1578.30 511.10 L1579.92 509.07 L1581.32 505.75 L1582.58 501.74 L1583.76 497.63 L1584.94 493.98 L1586.20 491.40 L1587.53 489.66 L1588.88 488.25 L1590.23 487.31 L1591.56 487.00 L1592.86 487.44 L1594.10 488.80 L1595.18 491.60 L1596.10 495.84 L1596.99 500.84 L1597.96 505.93 L1599.16 510.44 L1600.70 513.70 L1602.68 515.59 L1605.00 516.63 L1607.54 517.09 L1610.18 517.24 L1612.77 517.36 L1615.20 517.70 L1617.46 518.11 L1619.67 518.33 L1621.84 518.51 L1623.99 518.80 L1626.13 519.35 L1628.30 520.30 L1630.50 521.92 L1632.71 524.13 L1634.92 526.61 L1637.12 528.99 L1639.29 530.94 L1641.40 532.10 L1643.45 532.09 L1645.46 531.09 L1647.43 529.66 L1649.39 528.33 L1651.34 527.67 L1653.30 528.20 L1655.26 530.30 L1657.19 533.60 L1659.12 537.56 L1661.07 541.62 L1663.06 545.25 L1665.10 547.90 L1667.27 549.69 L1669.56 551.08 L1671.89 552.04 L1674.17 552.52 L1676.30 552.49 L1678.20 551.90 L1679.76 550.19 L1681.02 547.27 L1682.14 543.83 L1683.27 540.58 L1684.54 538.20 L1686.10 537.40 L1688.02 538.53 L1690.21 541.10 L1692.54 544.55 L1694.90 548.31 L1697.19 551.82 L1699.30 554.50 L1701.22 556.30 L1703.05 557.67 L1704.80 558.78 L1706.50 559.82 L1708.16 560.96 L1709.80 562.40 L1711.42 564.40 L1712.99 566.87 L1714.52 569.46 L1716.03 571.78 L1717.52 573.48 L1719.00 574.20 L1720.48 573.72 L1721.95 572.31 L1723.40 570.27 L1724.83 567.93 L1726.23 565.60 L1727.60 563.60 L1728.92 561.98 L1730.21 560.48 L1731.46 559.00 L1732.70 557.42 L1733.94 555.62 L1735.20 553.50 L1736.47 550.98 L1737.73 548.13 L1738.99 545.07 L1740.26 541.91 L1741.53 538.75 L1742.80 535.70 L1744.08 532.77 L1745.36 529.89 L1746.65 527.01 L1747.94 524.09 L1749.22 521.10 L1750.50 518.00 L1751.79 514.83 L1753.09 511.61 L1754.39 508.33 L1755.67 504.94 L1756.91 501.41 L1758.10 497.70 L1759.22 493.94 L1760.29 490.17 L1761.32 486.27 L1762.34 482.08 L1763.36 477.47 L1764.40 472.30 L1765.46 466.50 L1766.53 460.17 L1767.60 453.43 L1768.67 446.36 L1769.74 439.08 L1770.80 431.70 L1771.85 423.99 L1772.90 415.84 L1773.95 407.47 L1775.00 399.13 L1776.05 391.06 L1777.10 383.50 L1778.16 376.66 L1779.21 370.37 L1780.27 364.36 L1781.34 358.33 L1782.41 351.97 L1783.50 345.00 L1784.58 337.50 L1785.64 329.71 L1786.71 321.60 L1787.81 313.14 L1788.96 304.28 L1790.20 295.00 L1791.54 285.17 L1792.96 274.78 L1794.43 264.01 L1795.93 253.00 L1797.43 241.91 L1798.90 230.90 L1800.34 219.46 L1801.77 207.37 L1803.21 195.20 L1804.64 183.53 L1806.07 172.94 L1807.50 164.00 L1808.93 156.91 L1810.36 151.24 L1811.79 146.64 L1813.23 142.79 L1814.66 139.32 L1816.10 135.90 L1817.57 132.48 L1819.07 129.31 L1820.58 126.54 L1822.06 124.29 L1823.48 122.70 L1824.80 121.90 L1825.99 122.01 L1827.05 122.94 L1828.06 124.53 L1829.06 126.61 L1830.12 129.02 L1831.30 131.60 L1832.61 134.41 L1834.01 137.60 L1835.47 141.12 L1836.96 144.92 L1838.44 148.96 L1839.90 153.20 L1841.33 157.86 L1842.76 163.03 L1844.19 168.43 L1845.63 173.81 L1847.06 178.89 L1848.50 183.40 L1849.90 187.21 L1851.26 190.50 L1852.62 193.50 L1854.03 196.42 L1855.54 199.48 L1857.20 202.90 L1859.08 206.75 L1861.14 210.87 L1863.31 215.12 L1865.49 219.40 L1867.58 223.57 L1869.50 227.50 L1871.21 231.26 L1872.77 234.97 L1874.24 238.57 L1875.70 242.01 L1877.20 245.24 L1878.80 248.20 L1880.56 250.71 L1882.45 252.79 L1884.38 254.65 L1886.27 256.52 L1888.04 258.63 L1889.60 261.20 L1890.92 264.17 L1892.06 267.33 L1893.07 270.74 L1894.02 274.41 L1894.98 278.39 L1896.00 282.70 L1897.08 287.62 L1898.16 293.17 L1899.24 299.03 L1900.33 304.85 L1901.42 310.32 L1902.50 315.10 L1903.61 319.16 L1904.74 322.76 L1905.88 326.00 L1906.98 328.99 L1908.03 331.82 L1909.00 334.60 L1909.78 337.14 L1910.38 339.32 L1910.92 341.35 L1911.54 343.43 L1912.36 345.78 L1913.50 348.60 L1915.03 352.02 L1916.86 355.90 L1918.89 360.05 L1921.03 364.26 L1923.16 368.35 L1925.20 372.10 L1927.16 375.40 L1929.13 378.37 L1931.10 381.21 L1933.07 384.11 L1935.04 387.28 L1937.00 390.90 L1938.96 395.14 L1940.91 399.87 L1942.86 404.86 L1944.80 409.88 L1946.75 414.70 L1948.70 419.10 L1950.62 423.05 L1952.51 426.74 L1954.40 430.24 L1956.32 433.60 L1958.31 436.90 L1960.40 440.20 L1962.61 443.49 L1964.92 446.73 L1967.30 449.89 L1969.71 453.00 L1972.12 456.03 L1974.50 459.00 L1976.78 461.81 L1978.97 464.45 L1981.16 467.02 L1983.44 469.63 L1985.89 472.39 L1988.60 475.40 L1991.58 478.65 L1994.76 482.05 L1998.11 485.59 L2001.60 489.29 L2005.21 493.12 L2008.90 497.10 L2012.73 501.39 L2016.73 506.03 L2020.84 510.81 L2025.01 515.54 L2029.19 520.00 L2033.30 524.00 L2037.37 527.47 L2041.43 530.56 L2045.50 533.39 L2049.57 536.07 L2053.63 538.74 L2057.70 541.50 L2061.77 544.40 L2065.83 547.34 L2069.89 550.26 L2073.96 553.09 L2078.03 555.76 L2082.10 558.20 L2086.16 560.42 L2090.19 562.46 L2094.22 564.35 L2098.29 566.09 L2102.41 567.70 L2106.60 569.20 L2111.16 570.59 L2116.13 571.86 L2121.14 572.99 L2125.86 573.99 L2129.93 574.83 L2133.00 575.50 L2134.89 575.95 L2135.84 576.17 L2136.15 576.24 L2136.09 576.23 L2135.94 576.19 L2136.00 576.20" stroke="#1a1a1a" stroke-width="6.0" fill="none" stroke-linejoin="round"/>
<path d="M1295.90 515.50 L1298.47 516.58 L1302.02 518.11 L1306.23 519.91 L1310.77 521.77 L1315.30 523.50 L1319.50 524.90 L1323.42 526.08 L1327.34 527.21 L1331.26 528.21 L1335.18 528.99 L1339.09 529.48 L1343.00 529.60 L1347.01 529.18 L1351.15 528.24 L1355.29 527.02 L1359.29 525.71 L1363.04 524.53 L1366.40 523.70 L1369.26 523.17 L1371.70 522.77 L1373.88 522.51 L1375.97 522.37 L1378.12 522.37 L1380.50 522.50 L1383.11 522.84 L1385.83 523.39 L1388.61 524.08 L1391.42 524.82 L1394.23 525.52 L1397.00 526.10 L1399.74 526.68 L1402.47 527.35 L1405.21 527.99 L1407.94 528.46 L1410.67 528.64 L1413.40 528.40 L1416.13 527.75 L1418.86 526.79 L1421.59 525.54 L1424.33 524.02 L1427.06 522.23 L1429.80 520.20 L1432.57 517.87 L1435.38 515.20 L1438.19 512.28 L1440.97 509.16 L1443.69 505.91 L1446.30 502.60 L1448.82 499.06 L1451.27 495.21 L1453.65 491.23 L1455.97 487.30 L1458.22 483.60 L1460.40 480.30 L1462.46 477.40 L1464.39 474.75 L1466.25 472.33 L1468.11 470.11 L1470.04 468.07 L1472.10 466.20 L1474.31 464.42 L1476.62 462.74 L1479.00 461.25 L1481.41 460.02 L1483.82 459.14 L1486.20 458.70 L1488.60 458.80 L1491.06 459.41 L1493.53 460.37 L1495.93 461.52 L1498.20 462.72 L1500.30 463.80 L1502.13 464.77 L1503.73 465.74 L1505.21 466.76 L1506.68 467.86 L1508.24 469.06 L1510.00 470.40 L1511.99 472.05 L1514.11 474.00 L1516.33 476.06 L1518.60 478.03 L1520.87 479.71 L1523.10 480.90 L1525.26 481.42 L1527.40 481.39 L1529.53 481.06 L1531.70 480.70 L1533.95 480.56 L1536.30 480.90 L1538.78 481.96 L1541.38 483.58 L1544.04 485.43 L1546.74 487.14 L1549.44 488.38 L1552.10 488.80 L1554.75 488.21 L1557.43 486.86 L1560.11 485.03 L1562.76 483.01 L1565.33 481.11 L1567.80 479.60 L1570.18 478.23 L1572.49 476.71 L1574.73 475.31 L1576.89 474.26 L1578.99 473.84 L1581.00 474.30 L1582.94 475.96 L1584.80 478.68 L1586.58 482.03 L1588.29 485.55 L1589.93 488.82 L1591.50 491.40 L1592.94 493.28 L1594.23 494.81 L1595.45 496.09 L1596.67 497.21 L1597.96 498.25 L1599.40 499.30 L1601.00 500.49 L1602.71 501.77 L1604.49 502.97 L1606.30 503.93 L1608.12 504.50 L1609.90 504.50 L1611.65 503.80 L1613.40 502.50 L1615.15 500.80 L1616.90 498.90 L1618.65 497.00 L1620.40 495.30 L1622.15 493.51 L1623.90 491.40 L1625.65 489.30 L1627.40 487.51 L1629.15 486.34 L1630.90 486.10 L1632.62 487.08 L1634.30 489.09 L1635.98 491.72 L1637.70 494.57 L1639.49 497.23 L1641.40 499.30 L1643.44 500.72 L1645.60 501.81 L1647.84 502.71 L1650.11 503.58 L1652.37 504.56 L1654.60 505.80 L1656.79 507.32 L1658.97 508.99 L1661.15 510.77 L1663.33 512.63 L1665.51 514.52 L1667.70 516.40 L1669.90 518.39 L1672.10 520.54 L1674.30 522.72 L1676.50 524.81 L1678.70 526.68 L1680.90 528.20 L1683.12 529.18 L1685.37 529.69 L1687.62 529.98 L1689.83 530.31 L1691.97 530.93 L1694.00 532.10 L1695.90 534.19 L1697.69 537.07 L1699.41 540.25 L1701.09 543.23 L1702.77 545.51 L1704.50 546.60 L1706.23 546.24 L1707.93 544.76 L1709.64 542.59 L1711.38 540.14 L1713.19 537.84 L1715.10 536.10 L1717.18 534.89 L1719.41 533.85 L1721.71 532.96 L1724.00 532.18 L1726.19 531.47 L1728.20 530.80 L1730.03 530.29 L1731.73 529.98 L1733.34 529.75 L1734.88 529.45 L1736.36 528.95 L1737.80 528.10 L1739.18 526.85 L1740.48 525.29 L1741.72 523.52 L1742.94 521.65 L1744.16 519.77 L1745.40 518.00 L1746.67 516.48 L1747.93 515.17 L1749.20 513.86 L1750.47 512.33 L1751.73 510.38 L1753.00 507.80 L1754.27 504.62 L1755.53 501.02 L1756.80 497.00 L1758.07 492.56 L1759.33 487.69 L1760.60 482.40 L1761.87 476.51 L1763.13 469.99 L1764.40 463.05 L1765.67 455.90 L1766.93 448.74 L1768.20 441.80 L1769.47 435.21 L1770.73 428.84 L1771.99 422.48 L1773.26 415.89 L1774.53 408.87 L1775.80 401.20 L1777.10 392.72 L1778.44 383.58 L1779.78 374.00 L1781.09 364.22 L1782.34 354.48 L1783.50 345.00 L1784.54 335.71 L1785.50 326.41 L1786.39 317.14 L1787.25 307.95 L1788.11 298.89 L1789.00 290.00 L1789.88 281.38 L1790.71 272.99 L1791.55 264.74 L1792.43 256.50 L1793.40 248.16 L1794.50 239.60 L1795.77 230.63 L1797.17 221.31 L1798.66 211.88 L1800.19 202.61 L1801.72 193.77 L1803.20 185.60 L1804.66 177.99 L1806.15 170.71 L1807.64 163.86 L1809.09 157.51 L1810.49 151.76 L1811.80 146.70 L1813.00 142.48 L1814.12 139.05 L1815.18 136.22 L1816.21 133.80 L1817.24 131.59 L1818.30 129.40 L1819.38 127.09 L1820.47 124.80 L1821.55 122.73 L1822.63 121.05 L1823.72 119.98 L1824.80 119.70 L1825.88 120.32 L1826.97 121.71 L1828.06 123.69 L1829.14 126.11 L1830.22 128.81 L1831.30 131.60 L1832.37 134.64 L1833.44 138.08 L1834.50 141.79 L1835.56 145.64 L1836.63 149.49 L1837.70 153.20 L1838.75 156.72 L1839.78 160.16 L1840.81 163.59 L1841.87 167.12 L1842.99 170.82 L1844.20 174.80 L1845.52 179.21 L1846.94 184.01 L1848.42 188.99 L1849.93 193.94 L1851.43 198.64 L1852.90 202.90 L1854.34 206.69 L1855.77 210.17 L1857.21 213.41 L1858.64 216.47 L1860.07 219.42 L1861.50 222.30 L1862.91 225.02 L1864.29 227.49 L1865.66 229.85 L1867.07 232.21 L1868.54 234.68 L1870.10 237.40 L1871.77 240.46 L1873.54 243.79 L1875.36 247.23 L1877.22 250.65 L1879.07 253.89 L1880.90 256.80 L1882.70 259.41 L1884.50 261.85 L1886.30 264.11 L1888.10 266.19 L1889.90 268.08 L1891.70 269.80 L1893.52 271.08 L1895.38 271.89 L1897.23 272.51 L1899.06 273.26 L1900.82 274.42 L1902.50 276.30 L1904.09 278.85 L1905.62 281.83 L1907.09 285.22 L1908.50 289.03 L1909.87 293.26 L1911.20 297.90 L1912.41 303.07 L1913.49 308.78 L1914.51 314.91 L1915.58 321.32 L1916.78 327.90 L1918.20 334.50 L1919.88 341.41 L1921.75 348.79 L1923.75 356.33 L1925.82 363.71 L1927.89 370.64 L1929.90 376.80 L1931.86 382.08 L1933.83 386.71 L1935.80 390.88 L1937.77 394.78 L1939.74 398.62 L1941.70 402.60 L1943.66 406.73 L1945.61 410.87 L1947.56 414.94 L1949.50 418.88 L1951.45 422.62 L1953.40 426.10 L1955.32 429.22 L1957.21 432.00 L1959.10 434.59 L1961.02 437.12 L1963.01 439.71 L1965.10 442.50 L1967.31 445.52 L1969.62 448.67 L1972.00 451.89 L1974.41 455.11 L1976.82 458.27 L1979.20 461.30 L1981.53 464.15 L1983.84 466.87 L1986.16 469.52 L1988.49 472.18 L1990.86 474.91 L1993.30 477.80 L1995.71 480.77 L1998.06 483.74 L2000.46 486.80 L2002.99 490.00 L2005.77 493.41 L2008.90 497.10 L2012.46 501.25 L2016.38 505.85 L2020.55 510.66 L2024.84 515.45 L2029.13 519.97 L2033.30 524.00 L2037.37 527.47 L2041.43 530.56 L2045.50 533.39 L2049.57 536.07 L2053.63 538.74 L2057.70 541.50 L2061.77 544.40 L2065.83 547.34 L2069.89 550.26 L2073.96 553.09 L2078.03 555.76 L2082.10 558.20 L2086.16 560.42 L2090.19 562.47 L2094.22 564.36 L2098.29 566.11 L2102.41 567.72 L2106.60 569.20 L2111.16 570.56 L2116.13 571.80 L2121.14 572.89 L2125.86 573.85 L2129.93 574.65 L2133.00 575.30 L2134.89 575.74 L2135.84 575.96 L2136.15 576.03 L2136.09 576.02 L2135.94 575.99 L2136.00 576.00" stroke="#0040ff" stroke-width="6.0" fill="none" stroke-linejoin="round" stroke-dasharray="24.5 5.3 12.5 5.3"/>
<path d="M1295.90 486.80 L1298.47 486.67 L1302.02 486.46 L1306.23 486.23 L1310.77 486.04 L1315.30 485.98 L1319.50 486.10 L1323.42 486.45 L1327.34 486.99 L1331.26 487.64 L1335.18 488.35 L1339.09 489.06 L1343.00 489.70 L1346.90 490.33 L1350.80 491.00 L1354.70 491.68 L1358.60 492.30 L1362.50 492.82 L1366.40 493.20 L1370.39 493.48 L1374.49 493.72 L1378.58 493.86 L1382.58 493.86 L1386.39 493.65 L1389.90 493.20 L1393.03 492.49 L1395.84 491.57 L1398.45 490.46 L1401.00 489.16 L1403.60 487.70 L1406.40 486.10 L1409.41 484.19 L1412.55 481.93 L1415.75 479.50 L1418.95 477.11 L1422.09 474.94 L1425.10 473.20 L1427.98 471.87 L1430.77 470.81 L1433.49 469.97 L1436.19 469.33 L1438.88 468.85 L1441.60 468.50 L1444.37 468.50 L1447.16 468.90 L1449.95 469.47 L1452.71 469.96 L1455.40 470.11 L1458.00 469.70 L1460.46 468.67 L1462.79 467.21 L1465.05 465.43 L1467.31 463.41 L1469.64 461.27 L1472.10 459.10 L1474.73 456.70 L1477.48 453.94 L1480.30 451.06 L1483.12 448.27 L1485.87 445.81 L1488.50 443.90 L1491.04 442.70 L1493.54 442.05 L1495.99 441.72 L1498.33 441.50 L1500.55 441.13 L1502.60 440.40 L1504.39 439.26 L1505.92 437.89 L1507.32 436.37 L1508.71 434.83 L1510.23 433.34 L1512.00 432.00 L1514.05 430.57 L1516.30 428.93 L1518.67 427.34 L1521.09 426.09 L1523.49 425.45 L1525.80 425.70 L1528.04 426.97 L1530.27 429.06 L1532.47 431.76 L1534.66 434.86 L1536.80 438.14 L1538.90 441.40 L1540.91 445.31 L1542.83 450.17 L1544.71 455.22 L1546.61 459.69 L1548.59 462.81 L1550.70 463.80 L1553.01 461.90 L1555.48 457.57 L1558.03 451.89 L1560.56 445.93 L1562.98 440.77 L1565.20 437.50 L1567.21 436.32 L1569.09 436.42 L1570.86 437.32 L1572.54 438.55 L1574.15 439.63 L1575.70 440.10 L1577.14 439.66 L1578.43 438.64 L1579.65 437.48 L1580.87 436.61 L1582.16 436.47 L1583.60 437.50 L1585.21 440.40 L1586.96 444.96 L1588.77 450.26 L1590.60 455.35 L1592.40 459.31 L1594.10 461.20 L1595.74 460.33 L1597.36 457.31 L1598.94 453.15 L1600.47 448.88 L1601.93 445.52 L1603.30 444.10 L1604.51 444.88 L1605.55 447.09 L1606.52 450.22 L1607.51 453.73 L1608.60 457.10 L1609.90 459.80 L1611.42 462.02 L1613.11 464.20 L1614.91 466.25 L1616.76 468.04 L1618.60 469.46 L1620.40 470.40 L1622.09 470.64 L1623.70 470.24 L1625.32 469.46 L1627.01 468.60 L1628.84 467.92 L1630.90 467.70 L1633.23 467.93 L1635.77 468.39 L1638.47 469.04 L1641.24 469.83 L1644.01 470.73 L1646.70 471.70 L1649.33 472.73 L1651.97 473.85 L1654.61 475.08 L1657.24 476.44 L1659.87 477.94 L1662.50 479.60 L1665.18 481.65 L1667.93 484.11 L1670.67 486.73 L1673.35 489.21 L1675.88 491.29 L1678.20 492.70 L1680.26 493.13 L1682.11 492.75 L1683.83 491.97 L1685.46 491.20 L1687.10 490.87 L1688.80 491.40 L1690.56 492.95 L1692.31 495.23 L1694.06 497.94 L1695.80 500.80 L1697.55 503.52 L1699.30 505.80 L1701.02 507.63 L1702.70 509.25 L1704.39 510.72 L1706.11 512.12 L1707.90 513.52 L1709.80 515.00 L1711.90 516.67 L1714.19 518.49 L1716.55 520.31 L1718.87 521.98 L1721.02 523.36 L1722.90 524.30 L1724.42 524.92 L1725.66 525.36 L1726.74 525.50 L1727.77 525.23 L1728.89 524.44 L1730.20 523.00 L1731.72 520.60 L1733.36 517.26 L1735.07 513.40 L1736.82 509.41 L1738.58 505.71 L1740.30 502.70 L1742.02 500.54 L1743.79 498.96 L1745.56 497.65 L1747.29 496.34 L1748.95 494.76 L1750.50 492.60 L1751.93 489.93 L1753.27 486.97 L1754.54 483.73 L1755.76 480.20 L1756.94 476.39 L1758.10 472.30 L1759.22 467.75 L1760.29 462.70 L1761.32 457.37 L1762.34 451.97 L1763.36 446.71 L1764.40 441.80 L1765.45 437.42 L1766.48 433.42 L1767.52 429.57 L1768.57 425.61 L1769.66 421.30 L1770.80 416.40 L1772.00 411.09 L1773.24 405.61 L1774.52 399.77 L1775.82 393.41 L1777.12 386.35 L1778.40 378.40 L1779.66 369.54 L1780.90 359.91 L1782.14 349.58 L1783.40 338.61 L1784.68 327.06 L1786.00 315.00 L1787.36 301.78 L1788.76 287.22 L1790.18 272.09 L1791.62 257.14 L1793.06 243.16 L1794.50 230.90 L1795.94 220.51 L1797.39 211.41 L1798.84 203.28 L1800.30 195.76 L1801.75 188.55 L1803.20 181.30 L1804.61 173.90 L1805.99 166.58 L1807.37 159.56 L1808.77 153.05 L1810.24 147.26 L1811.80 142.40 L1813.50 138.43 L1815.31 135.19 L1817.19 132.66 L1819.07 130.85 L1820.90 129.76 L1822.60 129.40 L1824.17 129.84 L1825.66 131.09 L1827.09 133.06 L1828.49 135.67 L1829.88 138.81 L1831.30 142.40 L1832.74 146.75 L1834.17 152.00 L1835.61 157.79 L1837.04 163.76 L1838.47 169.55 L1839.90 174.80 L1841.33 179.49 L1842.76 183.91 L1844.19 188.16 L1845.63 192.31 L1847.06 196.46 L1848.50 200.70 L1849.92 205.04 L1851.31 209.41 L1852.71 213.78 L1854.14 218.12 L1855.63 222.40 L1857.20 226.60 L1858.88 230.74 L1860.64 234.85 L1862.47 238.91 L1864.32 242.87 L1866.18 246.71 L1868.00 250.40 L1869.80 253.96 L1871.60 257.43 L1873.40 260.78 L1875.20 263.98 L1877.00 266.99 L1878.80 269.80 L1880.60 272.37 L1882.40 274.74 L1884.20 276.92 L1886.00 278.95 L1887.80 280.87 L1889.60 282.70 L1891.40 284.42 L1893.20 285.99 L1895.00 287.45 L1896.80 288.82 L1898.60 290.13 L1900.40 291.40 L1902.19 292.26 L1903.97 292.61 L1905.74 292.91 L1907.53 293.59 L1909.35 295.10 L1911.20 297.90 L1913.12 302.25 L1915.12 307.83 L1917.14 314.26 L1919.14 321.11 L1921.07 327.99 L1922.90 334.50 L1924.60 340.79 L1926.20 347.22 L1927.74 353.68 L1929.25 360.06 L1930.76 366.23 L1932.30 372.10 L1933.87 377.59 L1935.44 382.79 L1937.01 387.79 L1938.57 392.70 L1940.14 397.60 L1941.70 402.60 L1943.25 407.90 L1944.80 413.46 L1946.35 419.02 L1947.90 424.32 L1949.45 429.10 L1951.00 433.10 L1952.53 436.04 L1954.04 438.07 L1955.54 439.59 L1957.09 440.97 L1958.69 442.61 L1960.40 444.90 L1962.22 447.88 L1964.14 451.24 L1966.12 454.86 L1968.15 458.61 L1970.18 462.36 L1972.20 466.00 L1974.21 469.56 L1976.24 473.15 L1978.28 476.74 L1980.32 480.32 L1982.36 483.85 L1984.40 487.30 L1986.29 490.58 L1988.01 493.69 L1989.73 496.76 L1991.62 499.90 L1993.85 503.24 L1996.60 506.90 L1999.97 510.98 L2003.86 515.39 L2008.09 519.99 L2012.49 524.67 L2016.88 529.28 L2021.10 533.70 L2025.17 538.00 L2029.24 542.31 L2033.31 546.56 L2037.37 550.67 L2041.43 554.57 L2045.50 558.20 L2049.57 561.53 L2053.63 564.63 L2057.70 567.52 L2061.77 570.24 L2065.83 572.82 L2069.90 575.30 L2073.80 577.63 L2077.50 579.77 L2081.21 581.78 L2085.11 583.70 L2089.41 585.59 L2094.30 587.50 L2100.34 589.52 L2107.46 591.63 L2114.99 593.71 L2122.21 595.63 L2128.45 597.27 L2133.00 598.50 L2135.60 599.24 L2136.76 599.58 L2136.92 599.64 L2136.54 599.54 L2136.09 599.42 L2136.00 599.40" stroke="#00ffff" stroke-width="6.0" fill="none" stroke-linejoin="round"/>
<path d="M1295.90 462.70 L1297.93 462.87 L1300.72 463.10 L1304.03 463.38 L1307.64 463.69 L1311.30 464.00 L1314.80 464.30 L1318.22 464.69 L1321.76 465.20 L1325.36 465.72 L1328.96 466.13 L1332.49 466.33 L1335.90 466.20 L1339.11 465.71 L1342.16 464.94 L1345.15 463.96 L1348.17 462.81 L1351.32 461.58 L1354.70 460.30 L1358.43 458.82 L1362.45 457.05 L1366.60 455.19 L1370.72 453.41 L1374.64 451.92 L1378.20 450.90 L1381.32 450.39 L1384.10 450.26 L1386.69 450.41 L1389.22 450.75 L1391.81 451.18 L1394.60 451.60 L1397.65 452.19 L1400.86 453.06 L1404.14 454.01 L1407.39 454.88 L1410.51 455.47 L1413.40 455.60 L1416.00 455.26 L1418.36 454.58 L1420.60 453.63 L1422.80 452.46 L1425.07 451.13 L1427.50 449.70 L1430.10 448.03 L1432.79 446.06 L1435.55 443.92 L1438.34 441.77 L1441.13 439.75 L1443.90 438.00 L1446.67 436.64 L1449.49 435.58 L1452.30 434.65 L1455.08 433.69 L1457.79 432.52 L1460.40 431.00 L1462.88 429.03 L1465.25 426.74 L1467.55 424.25 L1469.82 421.69 L1472.09 419.20 L1474.40 416.90 L1476.77 414.61 L1479.18 412.19 L1481.59 409.82 L1483.97 407.73 L1486.28 406.09 L1488.50 405.10 L1490.62 404.95 L1492.68 405.50 L1494.67 406.51 L1496.61 407.73 L1498.48 408.91 L1500.30 409.80 L1501.97 410.55 L1503.46 411.41 L1504.90 412.22 L1506.39 412.85 L1508.05 413.16 L1510.00 413.00 L1512.31 412.20 L1514.91 410.84 L1517.69 409.16 L1520.51 407.40 L1523.25 405.80 L1525.80 404.60 L1528.11 403.71 L1530.27 402.91 L1532.35 402.28 L1534.43 401.87 L1536.59 401.76 L1538.90 402.00 L1541.38 402.88 L1543.97 404.39 L1546.63 406.20 L1549.33 407.95 L1552.04 409.30 L1554.70 409.90 L1557.39 409.49 L1560.16 408.29 L1562.93 406.68 L1565.63 405.06 L1568.17 403.80 L1570.50 403.30 L1572.59 403.58 L1574.49 404.33 L1576.24 405.45 L1577.89 406.83 L1579.46 408.35 L1581.00 409.90 L1582.44 411.81 L1583.73 414.23 L1584.95 416.79 L1586.17 419.13 L1587.46 420.89 L1588.90 421.70 L1590.53 421.40 L1592.30 420.24 L1594.15 418.49 L1596.00 416.44 L1597.77 414.35 L1599.40 412.50 L1600.81 410.64 L1602.03 408.51 L1603.19 406.34 L1604.38 404.38 L1605.71 402.85 L1607.30 402.00 L1609.18 401.79 L1611.28 402.01 L1613.52 402.68 L1615.83 403.79 L1618.15 405.33 L1620.40 407.30 L1622.60 410.12 L1624.80 413.87 L1627.00 418.05 L1629.20 422.18 L1631.40 425.76 L1633.60 428.30 L1635.77 429.75 L1637.92 430.49 L1640.07 430.68 L1642.23 430.48 L1644.44 430.07 L1646.70 429.60 L1649.10 428.58 L1651.63 426.77 L1654.19 424.74 L1656.71 423.06 L1659.07 422.29 L1661.20 423.00 L1662.99 425.81 L1664.51 430.40 L1665.89 435.90 L1667.24 441.46 L1668.70 446.21 L1670.40 449.30 L1672.33 450.39 L1674.38 450.09 L1676.54 448.99 L1678.79 447.67 L1681.12 446.71 L1683.50 446.70 L1686.01 447.84 L1688.67 449.71 L1691.40 451.95 L1694.13 454.19 L1696.79 456.06 L1699.30 457.20 L1701.61 457.34 L1703.77 456.72 L1705.85 455.74 L1707.93 454.79 L1710.09 454.28 L1712.40 454.60 L1714.95 456.12 L1717.70 458.59 L1720.52 461.49 L1723.29 464.32 L1725.89 466.56 L1728.20 467.70 L1730.12 467.50 L1731.74 466.32 L1733.19 464.55 L1734.60 462.58 L1736.09 460.80 L1737.80 459.60 L1739.81 459.25 L1742.04 459.51 L1744.36 459.95 L1746.63 460.17 L1748.72 459.76 L1750.50 458.30 L1751.92 455.50 L1753.07 451.63 L1754.05 447.12 L1754.94 442.42 L1755.82 437.97 L1756.80 434.20 L1757.83 431.24 L1758.85 428.76 L1759.86 426.52 L1760.90 424.31 L1761.97 421.88 L1763.10 419.00 L1764.32 415.72 L1765.61 412.21 L1766.95 408.50 L1768.29 404.57 L1769.58 400.44 L1770.80 396.10 L1771.93 391.53 L1773.00 386.72 L1774.03 381.70 L1775.04 376.50 L1776.06 371.16 L1777.10 365.70 L1778.11 360.74 L1779.06 356.38 L1780.01 351.87 L1781.02 346.47 L1782.17 339.43 L1783.50 330.00 L1785.09 317.17 L1786.91 301.34 L1788.86 283.88 L1790.83 266.12 L1792.75 249.44 L1794.50 235.20 L1796.08 223.36 L1797.57 212.84 L1799.00 203.39 L1800.39 194.77 L1801.78 186.76 L1803.20 179.10 L1804.61 171.84 L1805.99 165.17 L1807.37 159.10 L1808.77 153.63 L1810.24 148.76 L1811.80 144.50 L1813.50 140.80 L1815.31 137.64 L1817.19 135.08 L1819.07 133.19 L1820.90 132.01 L1822.60 131.60 L1824.15 131.98 L1825.58 133.10 L1826.96 134.94 L1828.33 137.47 L1829.76 140.67 L1831.30 144.50 L1832.97 149.25 L1834.73 155.00 L1836.54 161.41 L1838.37 168.16 L1840.21 174.90 L1842.00 181.30 L1843.76 187.47 L1845.50 193.70 L1847.23 199.93 L1848.97 206.09 L1850.72 212.13 L1852.50 218.00 L1854.33 223.77 L1856.21 229.52 L1858.11 235.14 L1859.98 240.56 L1861.79 245.67 L1863.50 250.40 L1865.07 254.65 L1866.52 258.48 L1867.91 262.01 L1869.30 265.36 L1870.74 268.65 L1872.30 272.00 L1873.98 275.51 L1875.75 279.11 L1877.57 282.64 L1879.43 285.97 L1881.28 288.94 L1883.10 291.40 L1884.90 293.43 L1886.70 295.16 L1888.50 296.54 L1890.30 297.49 L1892.10 297.97 L1893.90 297.90 L1895.70 297.00 L1897.49 295.25 L1899.28 293.02 L1901.08 290.68 L1902.88 288.59 L1904.70 287.10 L1906.55 286.03 L1908.44 285.04 L1910.34 284.30 L1912.21 283.97 L1914.04 284.22 L1915.80 285.20 L1917.47 286.95 L1919.06 289.33 L1920.61 292.28 L1922.13 295.75 L1923.65 299.68 L1925.20 304.00 L1926.79 309.00 L1928.42 314.78 L1930.04 321.01 L1931.64 327.38 L1933.17 333.55 L1934.60 339.20 L1935.92 344.31 L1937.14 349.12 L1938.30 353.74 L1939.43 358.26 L1940.55 362.78 L1941.70 367.40 L1942.87 372.07 L1944.04 376.71 L1945.21 381.36 L1946.37 386.03 L1947.53 390.77 L1948.70 395.60 L1949.87 400.58 L1951.03 405.68 L1952.19 410.85 L1953.36 416.02 L1954.53 421.12 L1955.70 426.10 L1956.85 430.94 L1957.97 435.69 L1959.10 440.38 L1960.26 445.02 L1961.48 449.66 L1962.80 454.30 L1964.20 458.98 L1965.66 463.67 L1967.18 468.36 L1968.77 472.99 L1970.44 477.55 L1972.20 482.00 L1974.01 486.35 L1975.88 490.61 L1977.82 494.81 L1979.87 498.92 L1982.05 502.95 L1984.40 506.90 L1986.94 510.74 L1989.64 514.45 L1992.49 518.09 L1995.43 521.68 L1998.45 525.27 L2001.50 528.90 L2004.57 532.50 L2007.67 536.02 L2010.84 539.54 L2014.12 543.13 L2017.53 546.86 L2021.10 550.80 L2024.89 555.11 L2028.88 559.76 L2033.00 564.55 L2037.19 569.27 L2041.38 573.73 L2045.50 577.70 L2049.57 581.12 L2053.63 584.13 L2057.70 586.86 L2061.77 589.46 L2065.83 592.06 L2069.90 594.80 L2073.80 597.73 L2077.50 600.77 L2081.21 603.81 L2085.11 606.74 L2089.41 609.47 L2094.30 611.90 L2100.34 614.06 L2107.46 616.04 L2114.99 617.82 L2122.21 619.37 L2128.45 620.67 L2133.00 621.70 L2135.60 622.36 L2136.76 622.66 L2136.92 622.71 L2136.54 622.63 L2136.09 622.52 L2136.00 622.50" stroke="#80ff00" stroke-width="6.0" fill="none" stroke-linejoin="round" stroke-dasharray="24.5 5.3 12.5 5.3"/>
<path d="M1295.90 438.00 L1297.99 438.07 L1300.89 438.22 L1304.33 438.37 L1307.99 438.44 L1311.58 438.34 L1314.80 438.00 L1317.65 437.41 L1320.36 436.64 L1323.01 435.71 L1325.65 434.63 L1328.36 433.42 L1331.20 432.10 L1334.14 430.61 L1337.11 428.92 L1340.16 427.10 L1343.30 425.23 L1346.57 423.37 L1350.00 421.60 L1353.73 419.73 L1357.75 417.66 L1361.90 415.60 L1366.02 413.78 L1369.94 412.41 L1373.50 411.70 L1376.56 411.73 L1379.23 412.35 L1381.70 413.42 L1384.17 414.80 L1386.84 416.37 L1389.90 418.00 L1393.41 419.96 L1397.21 422.43 L1401.21 425.07 L1405.30 427.60 L1409.40 429.68 L1413.40 431.00 L1417.43 431.42 L1421.58 431.17 L1425.74 430.47 L1429.76 429.57 L1433.53 428.70 L1436.90 428.10 L1439.79 427.96 L1442.30 428.14 L1444.54 428.34 L1446.65 428.30 L1448.76 427.71 L1451.00 426.30 L1453.32 423.86 L1455.61 420.58 L1457.91 416.76 L1460.23 412.70 L1462.62 408.71 L1465.10 405.10 L1467.70 401.58 L1470.40 397.86 L1473.16 394.21 L1475.95 390.90 L1478.74 388.20 L1481.50 386.40 L1484.28 385.80 L1487.13 386.24 L1489.97 387.29 L1492.75 388.54 L1495.42 389.55 L1497.90 389.90 L1500.12 389.55 L1502.11 388.82 L1503.99 387.86 L1505.85 386.80 L1507.82 385.77 L1510.00 384.90 L1512.42 384.29 L1515.00 383.86 L1517.67 383.46 L1520.40 382.95 L1523.13 382.18 L1525.80 381.00 L1528.42 378.91 L1531.04 375.92 L1533.65 372.68 L1536.26 369.81 L1538.88 367.97 L1541.50 367.80 L1544.11 370.10 L1546.71 374.53 L1549.31 379.98 L1551.93 385.35 L1554.59 389.56 L1557.30 391.50 L1560.17 390.60 L1563.20 387.61 L1566.26 383.46 L1569.24 379.04 L1571.99 375.29 L1574.40 373.10 L1576.41 372.46 L1578.10 372.64 L1579.58 373.48 L1580.92 374.81 L1582.23 376.47 L1583.60 378.30 L1584.90 380.93 L1586.04 384.63 L1587.14 388.65 L1588.33 392.27 L1589.74 394.77 L1591.50 395.40 L1593.71 393.40 L1596.28 389.19 L1599.08 383.85 L1601.94 378.46 L1604.73 374.08 L1607.30 371.80 L1609.61 371.81 L1611.77 373.30 L1613.85 375.81 L1615.93 378.88 L1618.09 382.06 L1620.40 384.90 L1622.82 387.70 L1625.27 390.89 L1627.81 394.19 L1630.45 397.32 L1633.23 400.02 L1636.20 402.00 L1639.52 403.19 L1643.20 403.80 L1647.03 403.96 L1650.79 403.84 L1654.25 403.57 L1657.20 403.30 L1659.56 402.72 L1661.48 401.66 L1663.11 400.44 L1664.59 399.43 L1666.07 398.97 L1667.70 399.40 L1669.42 400.99 L1671.10 403.50 L1672.78 406.57 L1674.50 409.80 L1676.29 412.80 L1678.20 415.20 L1680.31 417.14 L1682.60 418.97 L1684.96 420.57 L1687.29 421.85 L1689.48 422.70 L1691.40 423.00 L1693.05 422.45 L1694.53 421.07 L1695.85 419.26 L1697.06 417.41 L1698.20 415.93 L1699.30 415.20 L1700.26 415.42 L1701.03 416.31 L1701.73 417.56 L1702.47 418.86 L1703.35 419.91 L1704.50 420.40 L1705.93 420.00 L1707.54 418.90 L1709.31 417.54 L1711.18 416.39 L1713.13 415.89 L1715.10 416.50 L1717.17 418.62 L1719.37 421.98 L1721.64 425.99 L1723.91 430.09 L1726.12 433.68 L1728.20 436.20 L1730.16 437.69 L1732.04 438.61 L1733.86 439.04 L1735.63 439.04 L1737.34 438.67 L1739.00 438.00 L1740.61 436.76 L1742.16 434.85 L1743.65 432.57 L1745.10 430.23 L1746.51 428.14 L1747.90 426.60 L1749.30 425.82 L1750.71 425.58 L1752.09 425.59 L1753.39 425.55 L1754.54 425.15 L1755.50 424.10 L1756.16 422.32 L1756.55 420.04 L1756.80 417.40 L1757.05 414.55 L1757.44 411.64 L1758.10 408.80 L1759.08 406.02 L1760.26 403.17 L1761.59 400.26 L1762.98 397.28 L1764.38 394.23 L1765.70 391.10 L1766.97 387.96 L1768.23 384.81 L1769.50 381.59 L1770.77 378.23 L1772.03 374.66 L1773.30 370.80 L1774.55 366.95 L1775.77 363.23 L1776.99 359.29 L1778.24 354.80 L1779.53 349.41 L1780.90 342.80 L1782.36 334.57 L1783.90 324.91 L1785.48 314.37 L1787.08 303.46 L1788.67 292.73 L1790.20 282.70 L1791.69 273.28 L1793.15 264.04 L1794.59 254.96 L1796.03 246.06 L1797.46 237.34 L1798.90 228.80 L1800.34 220.21 L1801.77 211.53 L1803.21 203.03 L1804.64 194.98 L1806.07 187.64 L1807.50 181.30 L1808.93 176.13 L1810.36 171.94 L1811.79 168.48 L1813.23 165.47 L1814.66 162.63 L1816.10 159.70 L1817.57 156.44 L1819.07 153.03 L1820.58 149.80 L1822.06 147.08 L1823.48 145.20 L1824.80 144.50 L1825.99 145.10 L1827.05 146.76 L1828.06 149.26 L1829.06 152.40 L1830.12 155.95 L1831.30 159.70 L1832.61 163.74 L1834.01 168.26 L1835.47 173.19 L1836.96 178.48 L1838.44 184.07 L1839.90 189.90 L1841.33 196.23 L1842.76 203.16 L1844.19 210.39 L1845.63 217.63 L1847.06 224.56 L1848.50 230.90 L1849.92 236.60 L1851.31 241.88 L1852.71 246.86 L1854.14 251.67 L1855.63 256.41 L1857.20 261.20 L1858.90 266.10 L1860.73 271.02 L1862.61 275.88 L1864.49 280.58 L1866.30 285.05 L1868.00 289.20 L1869.57 292.96 L1871.06 296.37 L1872.48 299.56 L1873.87 302.60 L1875.23 305.62 L1876.60 308.70 L1877.94 312.29 L1879.23 316.41 L1880.50 320.49 L1881.78 323.98 L1883.10 326.34 L1884.50 327.00 L1885.96 325.58 L1887.47 322.43 L1889.02 318.14 L1890.61 313.30 L1892.23 308.49 L1893.90 304.30 L1895.64 300.53 L1897.47 296.69 L1899.34 292.88 L1901.20 289.20 L1903.00 285.77 L1904.70 282.70 L1906.28 279.80 L1907.76 276.95 L1909.19 274.34 L1910.60 272.19 L1912.02 270.67 L1913.50 270.00 L1915.06 270.28 L1916.68 271.39 L1918.31 273.13 L1919.92 275.35 L1921.47 277.86 L1922.90 280.50 L1924.20 283.39 L1925.41 286.69 L1926.54 290.29 L1927.65 294.07 L1928.76 297.92 L1929.90 301.70 L1931.05 305.47 L1932.17 309.33 L1933.30 313.26 L1934.46 317.21 L1935.68 321.17 L1937.00 325.10 L1938.46 329.07 L1940.05 333.10 L1941.71 337.14 L1943.36 341.11 L1944.95 344.95 L1946.40 348.60 L1947.71 352.01 L1948.91 355.21 L1950.05 358.29 L1951.16 361.31 L1952.26 364.32 L1953.40 367.40 L1954.57 370.59 L1955.73 373.84 L1956.89 377.09 L1958.06 380.28 L1959.23 383.34 L1960.40 386.20 L1961.61 388.66 L1962.85 390.73 L1964.09 392.67 L1965.31 394.74 L1966.45 397.19 L1967.50 400.30 L1968.42 404.17 L1969.24 408.63 L1970.00 413.47 L1970.72 418.51 L1971.44 423.55 L1972.20 428.40 L1972.98 433.15 L1973.75 437.97 L1974.53 442.79 L1975.30 447.55 L1976.09 452.18 L1976.90 456.60 L1977.70 460.74 L1978.49 464.63 L1979.29 468.38 L1980.12 472.12 L1981.02 475.95 L1982.00 480.00 L1983.09 484.34 L1984.27 488.89 L1985.51 493.54 L1986.79 498.17 L1988.06 502.66 L1989.30 506.90 L1990.52 510.88 L1991.73 514.69 L1992.94 518.36 L1994.16 521.93 L1995.38 525.43 L1996.60 528.90 L1997.83 532.27 L1999.06 535.49 L2000.30 538.65 L2001.54 541.81 L2002.77 545.03 L2004.00 548.40 L2005.17 551.98 L2006.26 555.73 L2007.35 559.55 L2008.51 563.34 L2009.80 566.99 L2011.30 570.40 L2013.05 573.56 L2015.00 576.56 L2017.09 579.41 L2019.25 582.17 L2021.41 584.85 L2023.50 587.50 L2025.53 590.05 L2027.57 592.46 L2029.60 594.80 L2031.63 597.14 L2033.67 599.55 L2035.70 602.10 L2037.70 604.83 L2039.67 607.70 L2041.64 610.64 L2043.65 613.59 L2045.72 616.46 L2047.90 619.20 L2050.15 621.79 L2052.44 624.28 L2054.79 626.71 L2057.25 629.10 L2059.84 631.48 L2062.60 633.90 L2065.51 636.37 L2068.56 638.86 L2071.74 641.35 L2075.05 643.81 L2078.51 646.20 L2082.10 648.50 L2085.87 650.74 L2089.83 652.96 L2093.92 655.11 L2098.11 657.16 L2102.35 659.07 L2106.60 660.80 L2111.16 662.38 L2116.13 663.84 L2121.14 665.17 L2125.86 666.33 L2129.93 667.32 L2133.00 668.10 L2134.89 668.62 L2135.84 668.88 L2136.15 668.96 L2136.09 668.93 L2135.94 668.89 L2136.00 668.90" stroke="#ffbf00" stroke-width="6.0" fill="none" stroke-linejoin="round"/>
<path d="M1295.90 384.00 L1298.47 383.95 L1302.02 383.88 L1306.23 383.79 L1310.77 383.70 L1315.30 383.60 L1319.50 383.50 L1323.42 383.41 L1327.34 383.31 L1331.26 383.22 L1335.18 383.11 L1339.09 382.97 L1343.00 382.80 L1346.96 382.53 L1350.98 382.17 L1354.99 381.78 L1358.94 381.44 L1362.77 381.22 L1366.40 381.20 L1369.75 381.38 L1372.83 381.69 L1375.79 382.13 L1378.76 382.67 L1381.85 383.30 L1385.20 384.00 L1388.90 384.97 L1392.86 386.26 L1396.95 387.64 L1401.04 388.86 L1405.00 389.70 L1408.70 389.90 L1412.13 389.34 L1415.40 388.17 L1418.54 386.61 L1421.59 384.87 L1424.56 383.17 L1427.50 381.70 L1430.40 380.38 L1433.23 379.03 L1435.99 377.71 L1438.69 376.49 L1441.33 375.43 L1443.90 374.60 L1446.38 374.19 L1448.77 374.20 L1451.09 374.36 L1453.39 374.45 L1455.68 374.21 L1458.00 373.40 L1460.35 371.89 L1462.70 369.84 L1465.05 367.46 L1467.40 364.97 L1469.75 362.58 L1472.10 360.50 L1474.48 358.54 L1476.89 356.50 L1479.30 354.55 L1481.68 352.88 L1483.99 351.67 L1486.20 351.10 L1488.28 351.25 L1490.26 352.00 L1492.17 353.20 L1494.06 354.73 L1495.95 356.44 L1497.90 358.20 L1499.91 360.17 L1501.96 362.48 L1504.03 364.98 L1506.07 367.51 L1508.07 369.90 L1510.00 372.00 L1511.84 373.65 L1513.62 374.96 L1515.35 376.13 L1517.06 377.39 L1518.77 378.94 L1520.50 381.00 L1522.25 383.82 L1524.00 387.26 L1525.75 391.00 L1527.50 394.71 L1529.25 398.05 L1531.00 400.70 L1532.73 402.47 L1534.45 403.58 L1536.16 404.33 L1537.90 405.01 L1539.67 405.90 L1541.50 407.30 L1543.43 409.55 L1545.46 412.49 L1547.53 415.65 L1549.58 418.55 L1551.56 420.73 L1553.40 421.70 L1555.09 421.13 L1556.67 419.32 L1558.17 416.78 L1559.63 414.03 L1561.10 411.56 L1562.60 409.90 L1564.13 409.41 L1565.67 409.76 L1567.20 410.41 L1568.73 410.79 L1570.27 410.37 L1571.80 408.60 L1573.32 404.86 L1574.82 399.47 L1576.32 393.28 L1577.84 387.13 L1579.39 381.85 L1581.00 378.30 L1582.70 376.94 L1584.50 377.20 L1586.33 378.34 L1588.14 379.62 L1589.89 380.32 L1591.50 379.70 L1592.94 377.61 L1594.23 374.60 L1595.45 371.01 L1596.67 367.16 L1597.96 363.38 L1599.40 360.00 L1600.97 356.89 L1602.61 353.77 L1604.33 350.71 L1606.11 347.82 L1607.97 345.19 L1609.90 342.90 L1611.90 341.05 L1613.97 339.59 L1616.12 338.38 L1618.34 337.29 L1620.63 336.21 L1623.00 335.00 L1625.51 333.43 L1628.16 331.54 L1630.89 329.66 L1633.63 328.08 L1636.29 327.13 L1638.80 327.10 L1641.18 328.09 L1643.49 329.86 L1645.73 332.24 L1647.90 335.09 L1649.99 338.23 L1652.00 341.50 L1653.91 345.13 L1655.70 349.29 L1657.42 353.75 L1659.10 358.26 L1660.78 362.59 L1662.50 366.50 L1664.22 370.01 L1665.90 373.31 L1667.59 376.44 L1669.31 379.40 L1671.10 382.21 L1673.00 384.90 L1675.03 387.58 L1677.17 390.27 L1679.38 392.82 L1681.63 395.07 L1683.88 396.88 L1686.10 398.10 L1688.33 398.72 L1690.59 398.86 L1692.86 398.56 L1695.10 397.85 L1697.26 396.79 L1699.30 395.40 L1701.21 393.37 L1703.00 390.60 L1704.72 387.47 L1706.40 384.36 L1708.08 381.64 L1709.80 379.70 L1711.57 378.59 L1713.37 378.03 L1715.17 377.86 L1716.94 377.94 L1718.66 378.14 L1720.30 378.30 L1721.83 378.22 L1723.25 377.98 L1724.62 377.84 L1725.99 378.10 L1727.40 379.03 L1728.90 380.90 L1730.51 384.40 L1732.20 389.43 L1733.93 395.13 L1735.67 400.64 L1737.37 405.08 L1739.00 407.60 L1740.57 407.89 L1742.10 406.59 L1743.61 404.23 L1745.07 401.34 L1746.51 398.45 L1747.90 396.10 L1749.23 394.11 L1750.48 392.01 L1751.70 389.92 L1752.92 387.93 L1754.17 386.16 L1755.50 384.70 L1756.94 384.10 L1758.46 384.39 L1760.03 384.89 L1761.57 384.93 L1763.05 383.82 L1764.40 380.90 L1765.59 375.39 L1766.64 367.69 L1767.62 358.84 L1768.60 349.91 L1769.63 341.95 L1770.80 336.00 L1772.10 332.56 L1773.50 330.88 L1774.96 330.17 L1776.44 329.63 L1777.94 328.47 L1779.40 325.90 L1780.82 321.84 L1782.21 316.91 L1783.61 311.36 L1785.04 305.44 L1786.53 299.41 L1788.10 293.50 L1789.78 287.58 L1791.54 281.43 L1793.37 275.15 L1795.22 268.87 L1797.08 262.72 L1798.90 256.80 L1800.73 250.90 L1802.58 244.88 L1804.44 238.98 L1806.26 233.44 L1808.03 228.50 L1809.70 224.40 L1811.28 221.30 L1812.81 219.04 L1814.27 217.38 L1815.67 216.07 L1817.01 214.90 L1818.30 213.60 L1819.50 212.08 L1820.62 210.50 L1821.68 209.05 L1822.71 207.90 L1823.74 207.22 L1824.80 207.20 L1825.86 207.83 L1826.89 208.97 L1827.92 210.58 L1828.98 212.64 L1830.10 215.13 L1831.30 218.00 L1832.64 221.49 L1834.09 225.67 L1835.60 230.28 L1837.11 235.03 L1838.56 239.66 L1839.90 243.90 L1841.10 247.60 L1842.22 250.94 L1843.28 254.16 L1844.31 257.50 L1845.34 261.20 L1846.40 265.50 L1847.48 270.78 L1848.57 276.92 L1849.66 283.42 L1850.74 289.78 L1851.82 295.47 L1852.90 300.00 L1853.97 303.10 L1855.04 305.12 L1856.10 306.48 L1857.16 307.60 L1858.23 308.90 L1859.30 310.80 L1860.38 313.36 L1861.47 316.25 L1862.56 319.33 L1863.65 322.41 L1864.73 325.36 L1865.80 328.00 L1866.88 330.39 L1867.97 332.68 L1869.06 334.82 L1870.11 336.79 L1871.10 338.52 L1872.00 340.00 L1872.75 341.25 L1873.37 342.30 L1873.92 343.12 L1874.49 343.70 L1875.16 344.00 L1876.00 344.00 L1877.05 343.71 L1878.26 343.15 L1879.56 342.31 L1880.90 341.19 L1882.23 339.75 L1883.50 338.00 L1884.71 335.71 L1885.91 332.85 L1887.09 329.69 L1888.27 326.48 L1889.44 323.50 L1890.60 321.00 L1891.72 319.02 L1892.79 317.36 L1893.86 315.92 L1894.95 314.61 L1896.12 313.33 L1897.40 312.00 L1898.85 310.56 L1900.44 309.06 L1902.11 307.61 L1903.77 306.27 L1905.36 305.14 L1906.80 304.30 L1908.08 303.76 L1909.24 303.47 L1910.33 303.38 L1911.38 303.46 L1912.43 303.68 L1913.50 304.00 L1914.61 304.44 L1915.73 305.02 L1916.84 305.74 L1917.94 306.60 L1918.99 307.59 L1920.00 308.70 L1920.92 309.94 L1921.76 311.31 L1922.56 312.81 L1923.37 314.44 L1924.24 316.21 L1925.20 318.10 L1926.27 320.23 L1927.43 322.63 L1928.64 325.15 L1929.87 327.67 L1931.10 330.07 L1932.30 332.20 L1933.50 333.98 L1934.73 335.51 L1935.95 336.90 L1937.14 338.29 L1938.27 339.82 L1939.30 341.60 L1940.14 343.83 L1940.78 346.43 L1941.36 349.17 L1942.00 351.79 L1942.84 354.05 L1944.00 355.70 L1945.52 356.55 L1947.29 356.77 L1949.26 356.62 L1951.36 356.39 L1953.53 356.36 L1955.70 356.80 L1957.99 357.61 L1960.48 358.53 L1963.04 359.64 L1965.53 361.04 L1967.83 362.80 L1969.80 365.00 L1971.39 367.75 L1972.69 371.02 L1973.79 374.64 L1974.80 378.48 L1975.80 382.38 L1976.90 386.20 L1978.04 389.98 L1979.15 393.87 L1980.26 397.81 L1981.39 401.79 L1982.60 405.76 L1983.90 409.70 L1985.30 413.66 L1986.77 417.68 L1988.30 421.69 L1989.90 425.64 L1991.57 429.47 L1993.30 433.10 L1995.16 436.39 L1997.17 439.36 L1999.25 442.21 L2001.31 445.11 L2003.29 448.28 L2005.10 451.90 L2006.70 456.09 L2008.16 460.71 L2009.52 465.60 L2010.86 470.56 L2012.23 475.42 L2013.70 480.00 L2015.26 484.28 L2016.88 488.40 L2018.53 492.43 L2020.19 496.40 L2021.85 500.37 L2023.50 504.40 L2025.13 508.42 L2026.77 512.38 L2028.41 516.34 L2030.04 520.37 L2031.67 524.54 L2033.30 528.90 L2034.92 533.53 L2036.54 538.40 L2038.15 543.41 L2039.76 548.44 L2041.38 553.41 L2043.00 558.20 L2044.63 562.84 L2046.26 567.40 L2047.89 571.90 L2049.53 576.33 L2051.17 580.70 L2052.80 585.00 L2054.43 589.16 L2056.07 593.16 L2057.70 597.09 L2059.33 601.06 L2060.97 605.17 L2062.60 609.50 L2064.23 614.22 L2065.87 619.27 L2067.51 624.46 L2069.14 629.58 L2070.77 634.43 L2072.40 638.80 L2074.02 642.59 L2075.64 645.93 L2077.25 649.01 L2078.86 651.98 L2080.48 655.02 L2082.10 658.30 L2083.70 661.82 L2085.27 665.45 L2086.84 669.14 L2088.45 672.87 L2090.13 676.60 L2091.90 680.30 L2093.79 684.02 L2095.79 687.81 L2097.85 691.61 L2099.94 695.33 L2102.04 698.92 L2104.10 702.30 L2106.08 705.52 L2108.00 708.64 L2109.92 711.62 L2111.90 714.43 L2114.01 717.03 L2116.30 719.40 L2118.98 721.54 L2122.04 723.48 L2125.23 725.21 L2128.28 726.73 L2130.96 728.03 L2133.00 729.10 L2134.33 729.87 L2135.13 730.32 L2135.54 730.56 L2135.73 730.66 L2135.83 730.71 L2136.00 730.80" stroke="#ff0000" stroke-width="6.0" fill="none" stroke-linejoin="round"/>
</g></g>
<g clip-path="url(#k1295_2)"><g filter="url(#spk2)">
<path d="M1295.90 528.40 L1297.45 529.51 L1299.59 531.02 L1302.12 532.82 L1304.85 534.81 L1307.57 536.91 L1310.10 539.00 L1312.46 541.19 L1314.81 543.57 L1317.16 546.06 L1319.50 548.54 L1321.85 550.92 L1324.20 553.10 L1326.60 555.17 L1329.07 557.21 L1331.54 559.16 L1333.95 560.92 L1336.22 562.43 L1338.30 563.60 L1340.03 564.52 L1341.44 565.26 L1342.71 565.74 L1344.05 565.88 L1345.65 565.59 L1347.70 564.80 L1350.33 563.31 L1353.41 561.14 L1356.76 558.56 L1360.16 555.79 L1363.44 553.09 L1366.40 550.70 L1369.02 548.54 L1371.44 546.38 L1373.74 544.29 L1375.97 542.33 L1378.20 540.55 L1380.50 539.00 L1382.85 537.67 L1385.20 536.50 L1387.55 535.52 L1389.90 534.73 L1392.25 534.15 L1394.60 533.80 L1396.95 533.75 L1399.30 534.00 L1401.65 534.46 L1404.00 535.04 L1406.35 535.65 L1408.70 536.20 L1411.05 536.85 L1413.40 537.70 L1415.75 538.59 L1418.10 539.33 L1420.45 539.76 L1422.80 539.70 L1425.15 539.10 L1427.50 538.08 L1429.85 536.75 L1432.20 535.21 L1434.55 533.56 L1436.90 531.90 L1439.25 530.13 L1441.60 528.13 L1443.95 526.03 L1446.30 523.93 L1448.65 521.95 L1451.00 520.20 L1453.30 518.56 L1455.53 516.92 L1457.76 515.40 L1460.06 514.11 L1462.48 513.17 L1465.10 512.70 L1468.00 512.96 L1471.16 513.91 L1474.45 515.22 L1477.74 516.53 L1480.90 517.50 L1483.80 517.80 L1486.44 517.34 L1488.91 516.39 L1491.26 515.09 L1493.52 513.63 L1495.72 512.14 L1497.90 510.80 L1499.99 509.60 L1501.94 508.42 L1503.84 507.22 L1505.77 505.97 L1507.79 504.64 L1510.00 503.20 L1512.45 501.42 L1515.09 499.28 L1517.84 497.06 L1520.60 495.04 L1523.28 493.49 L1525.80 492.70 L1528.14 492.98 L1530.36 494.17 L1532.51 495.84 L1534.63 497.54 L1536.74 498.84 L1538.90 499.30 L1541.10 498.56 L1543.30 496.91 L1545.50 494.86 L1547.70 492.92 L1549.90 491.59 L1552.10 491.40 L1554.29 492.61 L1556.47 494.89 L1558.66 497.77 L1560.84 500.85 L1563.02 503.67 L1565.20 505.80 L1567.44 507.50 L1569.76 509.17 L1572.07 510.58 L1574.32 511.52 L1576.42 511.77 L1578.30 511.10 L1579.92 509.07 L1581.32 505.75 L1582.58 501.74 L1583.76 497.63 L1584.94 493.98 L1586.20 491.40 L1587.53 489.66 L1588.88 488.25 L1590.23 487.31 L1591.56 487.00 L1592.86 487.44 L1594.10 488.80 L1595.18 491.60 L1596.10 495.84 L1596.99 500.84 L1597.96 505.93 L1599.16 510.44 L1600.70 513.70 L1602.68 515.59 L1605.00 516.63 L1607.54 517.09 L1610.18 517.24 L1612.77 517.36 L1615.20 517.70 L1617.46 518.11 L1619.67 518.33 L1621.84 518.51 L1623.99 518.80 L1626.13 519.35 L1628.30 520.30 L1630.50 521.92 L1632.71 524.13 L1634.92 526.61 L1637.12 528.99 L1639.29 530.94 L1641.40 532.10 L1643.45 532.09 L1645.46 531.09 L1647.43 529.66 L1649.39 528.33 L1651.34 527.67 L1653.30 528.20 L1655.26 530.30 L1657.19 533.60 L1659.12 537.56 L1661.07 541.62 L1663.06 545.25 L1665.10 547.90 L1667.27 549.69 L1669.56 551.08 L1671.89 552.04 L1674.17 552.52 L1676.30 552.49 L1678.20 551.90 L1679.76 550.19 L1681.02 547.27 L1682.14 543.83 L1683.27 540.58 L1684.54 538.20 L1686.10 537.40 L1688.02 538.53 L1690.21 541.10 L1692.54 544.55 L1694.90 548.31 L1697.19 551.82 L1699.30 554.50 L1701.22 556.30 L1703.05 557.67 L1704.80 558.78 L1706.50 559.82 L1708.16 560.96 L1709.80 562.40 L1711.42 564.40 L1712.99 566.87 L1714.52 569.46 L1716.03 571.78 L1717.52 573.48 L1719.00 574.20 L1720.48 573.72 L1721.95 572.31 L1723.40 570.27 L1724.83 567.93 L1726.23 565.60 L1727.60 563.60 L1728.92 561.98 L1730.21 560.48 L1731.46 559.00 L1732.70 557.42 L1733.94 555.62 L1735.20 553.50 L1736.47 550.98 L1737.73 548.13 L1738.99 545.07 L1740.26 541.91 L1741.53 538.75 L1742.80 535.70 L1744.08 532.77 L1745.36 529.89 L1746.65 527.01 L1747.94 524.09 L1749.22 521.10 L1750.50 518.00 L1751.79 514.83 L1753.09 511.61 L1754.39 508.33 L1755.67 504.94 L1756.91 501.41 L1758.10 497.70 L1759.22 493.94 L1760.29 490.17 L1761.32 486.27 L1762.34 482.08 L1763.36 477.47 L1764.40 472.30 L1765.46 466.50 L1766.53 460.17 L1767.60 453.43 L1768.67 446.36 L1769.74 439.08 L1770.80 431.70 L1771.85 423.99 L1772.90 415.84 L1773.95 407.47 L1775.00 399.13 L1776.05 391.06 L1777.10 383.50 L1778.16 376.66 L1779.21 370.37 L1780.27 364.36 L1781.34 358.33 L1782.41 351.97 L1783.50 345.00 L1784.58 337.50 L1785.64 329.71 L1786.71 321.60 L1787.81 313.14 L1788.96 304.28 L1790.20 295.00 L1791.54 285.17 L1792.96 274.78 L1794.43 264.01 L1795.93 253.00 L1797.43 241.91 L1798.90 230.90 L1800.34 219.46 L1801.77 207.37 L1803.21 195.20 L1804.64 183.53 L1806.07 172.94 L1807.50 164.00 L1808.93 156.91 L1810.36 151.24 L1811.79 146.64 L1813.23 142.79 L1814.66 139.32 L1816.10 135.90 L1817.57 132.48 L1819.07 129.31 L1820.58 126.54 L1822.06 124.29 L1823.48 122.70 L1824.80 121.90 L1825.99 122.01 L1827.05 122.94 L1828.06 124.53 L1829.06 126.61 L1830.12 129.02 L1831.30 131.60 L1832.61 134.41 L1834.01 137.60 L1835.47 141.12 L1836.96 144.92 L1838.44 148.96 L1839.90 153.20 L1841.33 157.86 L1842.76 163.03 L1844.19 168.43 L1845.63 173.81 L1847.06 178.89 L1848.50 183.40 L1849.90 187.21 L1851.26 190.50 L1852.62 193.50 L1854.03 196.42 L1855.54 199.48 L1857.20 202.90 L1859.08 206.75 L1861.14 210.87 L1863.31 215.12 L1865.49 219.40 L1867.58 223.57 L1869.50 227.50 L1871.21 231.26 L1872.77 234.97 L1874.24 238.57 L1875.70 242.01 L1877.20 245.24 L1878.80 248.20 L1880.56 250.71 L1882.45 252.79 L1884.38 254.65 L1886.27 256.52 L1888.04 258.63 L1889.60 261.20 L1890.92 264.17 L1892.06 267.33 L1893.07 270.74 L1894.02 274.41 L1894.98 278.39 L1896.00 282.70 L1897.08 287.62 L1898.16 293.17 L1899.24 299.03 L1900.33 304.85 L1901.42 310.32 L1902.50 315.10 L1903.61 319.16 L1904.74 322.76 L1905.88 326.00 L1906.98 328.99 L1908.03 331.82 L1909.00 334.60 L1909.78 337.14 L1910.38 339.32 L1910.92 341.35 L1911.54 343.43 L1912.36 345.78 L1913.50 348.60 L1915.03 352.02 L1916.86 355.90 L1918.89 360.05 L1921.03 364.26 L1923.16 368.35 L1925.20 372.10 L1927.16 375.40 L1929.13 378.37 L1931.10 381.21 L1933.07 384.11 L1935.04 387.28 L1937.00 390.90 L1938.96 395.14 L1940.91 399.87 L1942.86 404.86 L1944.80 409.88 L1946.75 414.70 L1948.70 419.10 L1950.62 423.05 L1952.51 426.74 L1954.40 430.24 L1956.32 433.60 L1958.31 436.90 L1960.40 440.20 L1962.61 443.49 L1964.92 446.73 L1967.30 449.89 L1969.71 453.00 L1972.12 456.03 L1974.50 459.00 L1976.78 461.81 L1978.97 464.45 L1981.16 467.02 L1983.44 469.63 L1985.89 472.39 L1988.60 475.40 L1991.58 478.65 L1994.76 482.05 L1998.11 485.59 L2001.60 489.29 L2005.21 493.12 L2008.90 497.10 L2012.73 501.39 L2016.73 506.03 L2020.84 510.81 L2025.01 515.54 L2029.19 520.00 L2033.30 524.00 L2037.37 527.47 L2041.43 530.56 L2045.50 533.39 L2049.57 536.07 L2053.63 538.74 L2057.70 541.50 L2061.77 544.40 L2065.83 547.34 L2069.89 550.26 L2073.96 553.09 L2078.03 555.76 L2082.10 558.20 L2086.16 560.42 L2090.19 562.46 L2094.22 564.35 L2098.29 566.09 L2102.41 567.70 L2106.60 569.20 L2111.16 570.59 L2116.13 571.86 L2121.14 572.99 L2125.86 573.99 L2129.93 574.83 L2133.00 575.50 L2134.89 575.95 L2135.84 576.17 L2136.15 576.24 L2136.09 576.23 L2135.94 576.19 L2136.00 576.20" stroke="#1a1a1a" stroke-width="6.0" fill="none" stroke-linejoin="round"/>
<path d="M1295.90 515.50 L1298.47 516.58 L1302.02 518.11 L1306.23 519.91 L1310.77 521.77 L1315.30 523.50 L1319.50 524.90 L1323.42 526.08 L1327.34 527.21 L1331.26 528.21 L1335.18 528.99 L1339.09 529.48 L1343.00 529.60 L1347.01 529.18 L1351.15 528.24 L1355.29 527.02 L1359.29 525.71 L1363.04 524.53 L1366.40 523.70 L1369.26 523.17 L1371.70 522.77 L1373.88 522.51 L1375.97 522.37 L1378.12 522.37 L1380.50 522.50 L1383.11 522.84 L1385.83 523.39 L1388.61 524.08 L1391.42 524.82 L1394.23 525.52 L1397.00 526.10 L1399.74 526.68 L1402.47 527.35 L1405.21 527.99 L1407.94 528.46 L1410.67 528.64 L1413.40 528.40 L1416.13 527.75 L1418.86 526.79 L1421.59 525.54 L1424.33 524.02 L1427.06 522.23 L1429.80 520.20 L1432.57 517.87 L1435.38 515.20 L1438.19 512.28 L1440.97 509.16 L1443.69 505.91 L1446.30 502.60 L1448.82 499.06 L1451.27 495.21 L1453.65 491.23 L1455.97 487.30 L1458.22 483.60 L1460.40 480.30 L1462.46 477.40 L1464.39 474.75 L1466.25 472.33 L1468.11 470.11 L1470.04 468.07 L1472.10 466.20 L1474.31 464.42 L1476.62 462.74 L1479.00 461.25 L1481.41 460.02 L1483.82 459.14 L1486.20 458.70 L1488.60 458.80 L1491.06 459.41 L1493.53 460.37 L1495.93 461.52 L1498.20 462.72 L1500.30 463.80 L1502.13 464.77 L1503.73 465.74 L1505.21 466.76 L1506.68 467.86 L1508.24 469.06 L1510.00 470.40 L1511.99 472.05 L1514.11 474.00 L1516.33 476.06 L1518.60 478.03 L1520.87 479.71 L1523.10 480.90 L1525.26 481.42 L1527.40 481.39 L1529.53 481.06 L1531.70 480.70 L1533.95 480.56 L1536.30 480.90 L1538.78 481.96 L1541.38 483.58 L1544.04 485.43 L1546.74 487.14 L1549.44 488.38 L1552.10 488.80 L1554.75 488.21 L1557.43 486.86 L1560.11 485.03 L1562.76 483.01 L1565.33 481.11 L1567.80 479.60 L1570.18 478.23 L1572.49 476.71 L1574.73 475.31 L1576.89 474.26 L1578.99 473.84 L1581.00 474.30 L1582.94 475.96 L1584.80 478.68 L1586.58 482.03 L1588.29 485.55 L1589.93 488.82 L1591.50 491.40 L1592.94 493.28 L1594.23 494.81 L1595.45 496.09 L1596.67 497.21 L1597.96 498.25 L1599.40 499.30 L1601.00 500.49 L1602.71 501.77 L1604.49 502.97 L1606.30 503.93 L1608.12 504.50 L1609.90 504.50 L1611.65 503.80 L1613.40 502.50 L1615.15 500.80 L1616.90 498.90 L1618.65 497.00 L1620.40 495.30 L1622.15 493.51 L1623.90 491.40 L1625.65 489.30 L1627.40 487.51 L1629.15 486.34 L1630.90 486.10 L1632.62 487.08 L1634.30 489.09 L1635.98 491.72 L1637.70 494.57 L1639.49 497.23 L1641.40 499.30 L1643.44 500.72 L1645.60 501.81 L1647.84 502.71 L1650.11 503.58 L1652.37 504.56 L1654.60 505.80 L1656.79 507.32 L1658.97 508.99 L1661.15 510.77 L1663.33 512.63 L1665.51 514.52 L1667.70 516.40 L1669.90 518.39 L1672.10 520.54 L1674.30 522.72 L1676.50 524.81 L1678.70 526.68 L1680.90 528.20 L1683.12 529.18 L1685.37 529.69 L1687.62 529.98 L1689.83 530.31 L1691.97 530.93 L1694.00 532.10 L1695.90 534.19 L1697.69 537.07 L1699.41 540.25 L1701.09 543.23 L1702.77 545.51 L1704.50 546.60 L1706.23 546.24 L1707.93 544.76 L1709.64 542.59 L1711.38 540.14 L1713.19 537.84 L1715.10 536.10 L1717.18 534.89 L1719.41 533.85 L1721.71 532.96 L1724.00 532.18 L1726.19 531.47 L1728.20 530.80 L1730.03 530.29 L1731.73 529.98 L1733.34 529.75 L1734.88 529.45 L1736.36 528.95 L1737.80 528.10 L1739.18 526.85 L1740.48 525.29 L1741.72 523.52 L1742.94 521.65 L1744.16 519.77 L1745.40 518.00 L1746.67 516.48 L1747.93 515.17 L1749.20 513.86 L1750.47 512.33 L1751.73 510.38 L1753.00 507.80 L1754.27 504.62 L1755.53 501.02 L1756.80 497.00 L1758.07 492.56 L1759.33 487.69 L1760.60 482.40 L1761.87 476.51 L1763.13 469.99 L1764.40 463.05 L1765.67 455.90 L1766.93 448.74 L1768.20 441.80 L1769.47 435.21 L1770.73 428.84 L1771.99 422.48 L1773.26 415.89 L1774.53 408.87 L1775.80 401.20 L1777.10 392.72 L1778.44 383.58 L1779.78 374.00 L1781.09 364.22 L1782.34 354.48 L1783.50 345.00 L1784.54 335.71 L1785.50 326.41 L1786.39 317.14 L1787.25 307.95 L1788.11 298.89 L1789.00 290.00 L1789.88 281.38 L1790.71 272.99 L1791.55 264.74 L1792.43 256.50 L1793.40 248.16 L1794.50 239.60 L1795.77 230.63 L1797.17 221.31 L1798.66 211.88 L1800.19 202.61 L1801.72 193.77 L1803.20 185.60 L1804.66 177.99 L1806.15 170.71 L1807.64 163.86 L1809.09 157.51 L1810.49 151.76 L1811.80 146.70 L1813.00 142.48 L1814.12 139.05 L1815.18 136.22 L1816.21 133.80 L1817.24 131.59 L1818.30 129.40 L1819.38 127.09 L1820.47 124.80 L1821.55 122.73 L1822.63 121.05 L1823.72 119.98 L1824.80 119.70 L1825.88 120.32 L1826.97 121.71 L1828.06 123.69 L1829.14 126.11 L1830.22 128.81 L1831.30 131.60 L1832.37 134.64 L1833.44 138.08 L1834.50 141.79 L1835.56 145.64 L1836.63 149.49 L1837.70 153.20 L1838.75 156.72 L1839.78 160.16 L1840.81 163.59 L1841.87 167.12 L1842.99 170.82 L1844.20 174.80 L1845.52 179.21 L1846.94 184.01 L1848.42 188.99 L1849.93 193.94 L1851.43 198.64 L1852.90 202.90 L1854.34 206.69 L1855.77 210.17 L1857.21 213.41 L1858.64 216.47 L1860.07 219.42 L1861.50 222.30 L1862.91 225.02 L1864.29 227.49 L1865.66 229.85 L1867.07 232.21 L1868.54 234.68 L1870.10 237.40 L1871.77 240.46 L1873.54 243.79 L1875.36 247.23 L1877.22 250.65 L1879.07 253.89 L1880.90 256.80 L1882.70 259.41 L1884.50 261.85 L1886.30 264.11 L1888.10 266.19 L1889.90 268.08 L1891.70 269.80 L1893.52 271.08 L1895.38 271.89 L1897.23 272.51 L1899.06 273.26 L1900.82 274.42 L1902.50 276.30 L1904.09 278.85 L1905.62 281.83 L1907.09 285.22 L1908.50 289.03 L1909.87 293.26 L1911.20 297.90 L1912.41 303.07 L1913.49 308.78 L1914.51 314.91 L1915.58 321.32 L1916.78 327.90 L1918.20 334.50 L1919.88 341.41 L1921.75 348.79 L1923.75 356.33 L1925.82 363.71 L1927.89 370.64 L1929.90 376.80 L1931.86 382.08 L1933.83 386.71 L1935.80 390.88 L1937.77 394.78 L1939.74 398.62 L1941.70 402.60 L1943.66 406.73 L1945.61 410.87 L1947.56 414.94 L1949.50 418.88 L1951.45 422.62 L1953.40 426.10 L1955.32 429.22 L1957.21 432.00 L1959.10 434.59 L1961.02 437.12 L1963.01 439.71 L1965.10 442.50 L1967.31 445.52 L1969.62 448.67 L1972.00 451.89 L1974.41 455.11 L1976.82 458.27 L1979.20 461.30 L1981.53 464.15 L1983.84 466.87 L1986.16 469.52 L1988.49 472.18 L1990.86 474.91 L1993.30 477.80 L1995.71 480.77 L1998.06 483.74 L2000.46 486.80 L2002.99 490.00 L2005.77 493.41 L2008.90 497.10 L2012.46 501.25 L2016.38 505.85 L2020.55 510.66 L2024.84 515.45 L2029.13 519.97 L2033.30 524.00 L2037.37 527.47 L2041.43 530.56 L2045.50 533.39 L2049.57 536.07 L2053.63 538.74 L2057.70 541.50 L2061.77 544.40 L2065.83 547.34 L2069.89 550.26 L2073.96 553.09 L2078.03 555.76 L2082.10 558.20 L2086.16 560.42 L2090.19 562.47 L2094.22 564.36 L2098.29 566.11 L2102.41 567.72 L2106.60 569.20 L2111.16 570.56 L2116.13 571.80 L2121.14 572.89 L2125.86 573.85 L2129.93 574.65 L2133.00 575.30 L2134.89 575.74 L2135.84 575.96 L2136.15 576.03 L2136.09 576.02 L2135.94 575.99 L2136.00 576.00" stroke="#0040ff" stroke-width="6.0" fill="none" stroke-linejoin="round" stroke-dasharray="14.7 3.2 7.5 3.2"/>
<path d="M1295.90 486.80 L1298.47 486.67 L1302.02 486.46 L1306.23 486.23 L1310.77 486.04 L1315.30 485.98 L1319.50 486.10 L1323.42 486.45 L1327.34 486.99 L1331.26 487.64 L1335.18 488.35 L1339.09 489.06 L1343.00 489.70 L1346.90 490.33 L1350.80 491.00 L1354.70 491.68 L1358.60 492.30 L1362.50 492.82 L1366.40 493.20 L1370.39 493.48 L1374.49 493.72 L1378.58 493.86 L1382.58 493.86 L1386.39 493.65 L1389.90 493.20 L1393.03 492.49 L1395.84 491.57 L1398.45 490.46 L1401.00 489.16 L1403.60 487.70 L1406.40 486.10 L1409.41 484.19 L1412.55 481.93 L1415.75 479.50 L1418.95 477.11 L1422.09 474.94 L1425.10 473.20 L1427.98 471.87 L1430.77 470.81 L1433.49 469.97 L1436.19 469.33 L1438.88 468.85 L1441.60 468.50 L1444.37 468.50 L1447.16 468.90 L1449.95 469.47 L1452.71 469.96 L1455.40 470.11 L1458.00 469.70 L1460.46 468.67 L1462.79 467.21 L1465.05 465.43 L1467.31 463.41 L1469.64 461.27 L1472.10 459.10 L1474.73 456.70 L1477.48 453.94 L1480.30 451.06 L1483.12 448.27 L1485.87 445.81 L1488.50 443.90 L1491.04 442.70 L1493.54 442.05 L1495.99 441.72 L1498.33 441.50 L1500.55 441.13 L1502.60 440.40 L1504.39 439.26 L1505.92 437.89 L1507.32 436.37 L1508.71 434.83 L1510.23 433.34 L1512.00 432.00 L1514.05 430.57 L1516.30 428.93 L1518.67 427.34 L1521.09 426.09 L1523.49 425.45 L1525.80 425.70 L1528.04 426.97 L1530.27 429.06 L1532.47 431.76 L1534.66 434.86 L1536.80 438.14 L1538.90 441.40 L1540.91 445.31 L1542.83 450.17 L1544.71 455.22 L1546.61 459.69 L1548.59 462.81 L1550.70 463.80 L1553.01 461.90 L1555.48 457.57 L1558.03 451.89 L1560.56 445.93 L1562.98 440.77 L1565.20 437.50 L1567.21 436.32 L1569.09 436.42 L1570.86 437.32 L1572.54 438.55 L1574.15 439.63 L1575.70 440.10 L1577.14 439.66 L1578.43 438.64 L1579.65 437.48 L1580.87 436.61 L1582.16 436.47 L1583.60 437.50 L1585.21 440.40 L1586.96 444.96 L1588.77 450.26 L1590.60 455.35 L1592.40 459.31 L1594.10 461.20 L1595.74 460.33 L1597.36 457.31 L1598.94 453.15 L1600.47 448.88 L1601.93 445.52 L1603.30 444.10 L1604.51 444.88 L1605.55 447.09 L1606.52 450.22 L1607.51 453.73 L1608.60 457.10 L1609.90 459.80 L1611.42 462.02 L1613.11 464.20 L1614.91 466.25 L1616.76 468.04 L1618.60 469.46 L1620.40 470.40 L1622.09 470.64 L1623.70 470.24 L1625.32 469.46 L1627.01 468.60 L1628.84 467.92 L1630.90 467.70 L1633.23 467.93 L1635.77 468.39 L1638.47 469.04 L1641.24 469.83 L1644.01 470.73 L1646.70 471.70 L1649.33 472.73 L1651.97 473.85 L1654.61 475.08 L1657.24 476.44 L1659.87 477.94 L1662.50 479.60 L1665.18 481.65 L1667.93 484.11 L1670.67 486.73 L1673.35 489.21 L1675.88 491.29 L1678.20 492.70 L1680.26 493.13 L1682.11 492.75 L1683.83 491.97 L1685.46 491.20 L1687.10 490.87 L1688.80 491.40 L1690.56 492.95 L1692.31 495.23 L1694.06 497.94 L1695.80 500.80 L1697.55 503.52 L1699.30 505.80 L1701.02 507.63 L1702.70 509.25 L1704.39 510.72 L1706.11 512.12 L1707.90 513.52 L1709.80 515.00 L1711.90 516.67 L1714.19 518.49 L1716.55 520.31 L1718.87 521.98 L1721.02 523.36 L1722.90 524.30 L1724.42 524.92 L1725.66 525.36 L1726.74 525.50 L1727.77 525.23 L1728.89 524.44 L1730.20 523.00 L1731.72 520.60 L1733.36 517.26 L1735.07 513.40 L1736.82 509.41 L1738.58 505.71 L1740.30 502.70 L1742.02 500.54 L1743.79 498.96 L1745.56 497.65 L1747.29 496.34 L1748.95 494.76 L1750.50 492.60 L1751.93 489.93 L1753.27 486.97 L1754.54 483.73 L1755.76 480.20 L1756.94 476.39 L1758.10 472.30 L1759.22 467.75 L1760.29 462.70 L1761.32 457.37 L1762.34 451.97 L1763.36 446.71 L1764.40 441.80 L1765.45 437.42 L1766.48 433.42 L1767.52 429.57 L1768.57 425.61 L1769.66 421.30 L1770.80 416.40 L1772.00 411.09 L1773.24 405.61 L1774.52 399.77 L1775.82 393.41 L1777.12 386.35 L1778.40 378.40 L1779.66 369.54 L1780.90 359.91 L1782.14 349.58 L1783.40 338.61 L1784.68 327.06 L1786.00 315.00 L1787.36 301.78 L1788.76 287.22 L1790.18 272.09 L1791.62 257.14 L1793.06 243.16 L1794.50 230.90 L1795.94 220.51 L1797.39 211.41 L1798.84 203.28 L1800.30 195.76 L1801.75 188.55 L1803.20 181.30 L1804.61 173.90 L1805.99 166.58 L1807.37 159.56 L1808.77 153.05 L1810.24 147.26 L1811.80 142.40 L1813.50 138.43 L1815.31 135.19 L1817.19 132.66 L1819.07 130.85 L1820.90 129.76 L1822.60 129.40 L1824.17 129.84 L1825.66 131.09 L1827.09 133.06 L1828.49 135.67 L1829.88 138.81 L1831.30 142.40 L1832.74 146.75 L1834.17 152.00 L1835.61 157.79 L1837.04 163.76 L1838.47 169.55 L1839.90 174.80 L1841.33 179.49 L1842.76 183.91 L1844.19 188.16 L1845.63 192.31 L1847.06 196.46 L1848.50 200.70 L1849.92 205.04 L1851.31 209.41 L1852.71 213.78 L1854.14 218.12 L1855.63 222.40 L1857.20 226.60 L1858.88 230.74 L1860.64 234.85 L1862.47 238.91 L1864.32 242.87 L1866.18 246.71 L1868.00 250.40 L1869.80 253.96 L1871.60 257.43 L1873.40 260.78 L1875.20 263.98 L1877.00 266.99 L1878.80 269.80 L1880.60 272.37 L1882.40 274.74 L1884.20 276.92 L1886.00 278.95 L1887.80 280.87 L1889.60 282.70 L1891.40 284.42 L1893.20 285.99 L1895.00 287.45 L1896.80 288.82 L1898.60 290.13 L1900.40 291.40 L1902.19 292.26 L1903.97 292.61 L1905.74 292.91 L1907.53 293.59 L1909.35 295.10 L1911.20 297.90 L1913.12 302.25 L1915.12 307.83 L1917.14 314.26 L1919.14 321.11 L1921.07 327.99 L1922.90 334.50 L1924.60 340.79 L1926.20 347.22 L1927.74 353.68 L1929.25 360.06 L1930.76 366.23 L1932.30 372.10 L1933.87 377.59 L1935.44 382.79 L1937.01 387.79 L1938.57 392.70 L1940.14 397.60 L1941.70 402.60 L1943.25 407.90 L1944.80 413.46 L1946.35 419.02 L1947.90 424.32 L1949.45 429.10 L1951.00 433.10 L1952.53 436.04 L1954.04 438.07 L1955.54 439.59 L1957.09 440.97 L1958.69 442.61 L1960.40 444.90 L1962.22 447.88 L1964.14 451.24 L1966.12 454.86 L1968.15 458.61 L1970.18 462.36 L1972.20 466.00 L1974.21 469.56 L1976.24 473.15 L1978.28 476.74 L1980.32 480.32 L1982.36 483.85 L1984.40 487.30 L1986.29 490.58 L1988.01 493.69 L1989.73 496.76 L1991.62 499.90 L1993.85 503.24 L1996.60 506.90 L1999.97 510.98 L2003.86 515.39 L2008.09 519.99 L2012.49 524.67 L2016.88 529.28 L2021.10 533.70 L2025.17 538.00 L2029.24 542.31 L2033.31 546.56 L2037.37 550.67 L2041.43 554.57 L2045.50 558.20 L2049.57 561.53 L2053.63 564.63 L2057.70 567.52 L2061.77 570.24 L2065.83 572.82 L2069.90 575.30 L2073.80 577.63 L2077.50 579.77 L2081.21 581.78 L2085.11 583.70 L2089.41 585.59 L2094.30 587.50 L2100.34 589.52 L2107.46 591.63 L2114.99 593.71 L2122.21 595.63 L2128.45 597.27 L2133.00 598.50 L2135.60 599.24 L2136.76 599.58 L2136.92 599.64 L2136.54 599.54 L2136.09 599.42 L2136.00 599.40" stroke="#00ffff" stroke-width="6.0" fill="none" stroke-linejoin="round"/>
<path d="M1295.90 462.70 L1297.93 462.87 L1300.72 463.10 L1304.03 463.38 L1307.64 463.69 L1311.30 464.00 L1314.80 464.30 L1318.22 464.69 L1321.76 465.20 L1325.36 465.72 L1328.96 466.13 L1332.49 466.33 L1335.90 466.20 L1339.11 465.71 L1342.16 464.94 L1345.15 463.96 L1348.17 462.81 L1351.32 461.58 L1354.70 460.30 L1358.43 458.82 L1362.45 457.05 L1366.60 455.19 L1370.72 453.41 L1374.64 451.92 L1378.20 450.90 L1381.32 450.39 L1384.10 450.26 L1386.69 450.41 L1389.22 450.75 L1391.81 451.18 L1394.60 451.60 L1397.65 452.19 L1400.86 453.06 L1404.14 454.01 L1407.39 454.88 L1410.51 455.47 L1413.40 455.60 L1416.00 455.26 L1418.36 454.58 L1420.60 453.63 L1422.80 452.46 L1425.07 451.13 L1427.50 449.70 L1430.10 448.03 L1432.79 446.06 L1435.55 443.92 L1438.34 441.77 L1441.13 439.75 L1443.90 438.00 L1446.67 436.64 L1449.49 435.58 L1452.30 434.65 L1455.08 433.69 L1457.79 432.52 L1460.40 431.00 L1462.88 429.03 L1465.25 426.74 L1467.55 424.25 L1469.82 421.69 L1472.09 419.20 L1474.40 416.90 L1476.77 414.61 L1479.18 412.19 L1481.59 409.82 L1483.97 407.73 L1486.28 406.09 L1488.50 405.10 L1490.62 404.95 L1492.68 405.50 L1494.67 406.51 L1496.61 407.73 L1498.48 408.91 L1500.30 409.80 L1501.97 410.55 L1503.46 411.41 L1504.90 412.22 L1506.39 412.85 L1508.05 413.16 L1510.00 413.00 L1512.31 412.20 L1514.91 410.84 L1517.69 409.16 L1520.51 407.40 L1523.25 405.80 L1525.80 404.60 L1528.11 403.71 L1530.27 402.91 L1532.35 402.28 L1534.43 401.87 L1536.59 401.76 L1538.90 402.00 L1541.38 402.88 L1543.97 404.39 L1546.63 406.20 L1549.33 407.95 L1552.04 409.30 L1554.70 409.90 L1557.39 409.49 L1560.16 408.29 L1562.93 406.68 L1565.63 405.06 L1568.17 403.80 L1570.50 403.30 L1572.59 403.58 L1574.49 404.33 L1576.24 405.45 L1577.89 406.83 L1579.46 408.35 L1581.00 409.90 L1582.44 411.81 L1583.73 414.23 L1584.95 416.79 L1586.17 419.13 L1587.46 420.89 L1588.90 421.70 L1590.53 421.40 L1592.30 420.24 L1594.15 418.49 L1596.00 416.44 L1597.77 414.35 L1599.40 412.50 L1600.81 410.64 L1602.03 408.51 L1603.19 406.34 L1604.38 404.38 L1605.71 402.85 L1607.30 402.00 L1609.18 401.79 L1611.28 402.01 L1613.52 402.68 L1615.83 403.79 L1618.15 405.33 L1620.40 407.30 L1622.60 410.12 L1624.80 413.87 L1627.00 418.05 L1629.20 422.18 L1631.40 425.76 L1633.60 428.30 L1635.77 429.75 L1637.92 430.49 L1640.07 430.68 L1642.23 430.48 L1644.44 430.07 L1646.70 429.60 L1649.10 428.58 L1651.63 426.77 L1654.19 424.74 L1656.71 423.06 L1659.07 422.29 L1661.20 423.00 L1662.99 425.81 L1664.51 430.40 L1665.89 435.90 L1667.24 441.46 L1668.70 446.21 L1670.40 449.30 L1672.33 450.39 L1674.38 450.09 L1676.54 448.99 L1678.79 447.67 L1681.12 446.71 L1683.50 446.70 L1686.01 447.84 L1688.67 449.71 L1691.40 451.95 L1694.13 454.19 L1696.79 456.06 L1699.30 457.20 L1701.61 457.34 L1703.77 456.72 L1705.85 455.74 L1707.93 454.79 L1710.09 454.28 L1712.40 454.60 L1714.95 456.12 L1717.70 458.59 L1720.52 461.49 L1723.29 464.32 L1725.89 466.56 L1728.20 467.70 L1730.12 467.50 L1731.74 466.32 L1733.19 464.55 L1734.60 462.58 L1736.09 460.80 L1737.80 459.60 L1739.81 459.25 L1742.04 459.51 L1744.36 459.95 L1746.63 460.17 L1748.72 459.76 L1750.50 458.30 L1751.92 455.50 L1753.07 451.63 L1754.05 447.12 L1754.94 442.42 L1755.82 437.97 L1756.80 434.20 L1757.83 431.24 L1758.85 428.76 L1759.86 426.52 L1760.90 424.31 L1761.97 421.88 L1763.10 419.00 L1764.32 415.72 L1765.61 412.21 L1766.95 408.50 L1768.29 404.57 L1769.58 400.44 L1770.80 396.10 L1771.93 391.53 L1773.00 386.72 L1774.03 381.70 L1775.04 376.50 L1776.06 371.16 L1777.10 365.70 L1778.11 360.74 L1779.06 356.38 L1780.01 351.87 L1781.02 346.47 L1782.17 339.43 L1783.50 330.00 L1785.09 317.17 L1786.91 301.34 L1788.86 283.88 L1790.83 266.12 L1792.75 249.44 L1794.50 235.20 L1796.08 223.36 L1797.57 212.84 L1799.00 203.39 L1800.39 194.77 L1801.78 186.76 L1803.20 179.10 L1804.61 171.84 L1805.99 165.17 L1807.37 159.10 L1808.77 153.63 L1810.24 148.76 L1811.80 144.50 L1813.50 140.80 L1815.31 137.64 L1817.19 135.08 L1819.07 133.19 L1820.90 132.01 L1822.60 131.60 L1824.15 131.98 L1825.58 133.10 L1826.96 134.94 L1828.33 137.47 L1829.76 140.67 L1831.30 144.50 L1832.97 149.25 L1834.73 155.00 L1836.54 161.41 L1838.37 168.16 L1840.21 174.90 L1842.00 181.30 L1843.76 187.47 L1845.50 193.70 L1847.23 199.93 L1848.97 206.09 L1850.72 212.13 L1852.50 218.00 L1854.33 223.77 L1856.21 229.52 L1858.11 235.14 L1859.98 240.56 L1861.79 245.67 L1863.50 250.40 L1865.07 254.65 L1866.52 258.48 L1867.91 262.01 L1869.30 265.36 L1870.74 268.65 L1872.30 272.00 L1873.98 275.51 L1875.75 279.11 L1877.57 282.64 L1879.43 285.97 L1881.28 288.94 L1883.10 291.40 L1884.90 293.43 L1886.70 295.16 L1888.50 296.54 L1890.30 297.49 L1892.10 297.97 L1893.90 297.90 L1895.70 297.00 L1897.49 295.25 L1899.28 293.02 L1901.08 290.68 L1902.88 288.59 L1904.70 287.10 L1906.55 286.03 L1908.44 285.04 L1910.34 284.30 L1912.21 283.97 L1914.04 284.22 L1915.80 285.20 L1917.47 286.95 L1919.06 289.33 L1920.61 292.28 L1922.13 295.75 L1923.65 299.68 L1925.20 304.00 L1926.79 309.00 L1928.42 314.78 L1930.04 321.01 L1931.64 327.38 L1933.17 333.55 L1934.60 339.20 L1935.92 344.31 L1937.14 349.12 L1938.30 353.74 L1939.43 358.26 L1940.55 362.78 L1941.70 367.40 L1942.87 372.07 L1944.04 376.71 L1945.21 381.36 L1946.37 386.03 L1947.53 390.77 L1948.70 395.60 L1949.87 400.58 L1951.03 405.68 L1952.19 410.85 L1953.36 416.02 L1954.53 421.12 L1955.70 426.10 L1956.85 430.94 L1957.97 435.69 L1959.10 440.38 L1960.26 445.02 L1961.48 449.66 L1962.80 454.30 L1964.20 458.98 L1965.66 463.67 L1967.18 468.36 L1968.77 472.99 L1970.44 477.55 L1972.20 482.00 L1974.01 486.35 L1975.88 490.61 L1977.82 494.81 L1979.87 498.92 L1982.05 502.95 L1984.40 506.90 L1986.94 510.74 L1989.64 514.45 L1992.49 518.09 L1995.43 521.68 L1998.45 525.27 L2001.50 528.90 L2004.57 532.50 L2007.67 536.02 L2010.84 539.54 L2014.12 543.13 L2017.53 546.86 L2021.10 550.80 L2024.89 555.11 L2028.88 559.76 L2033.00 564.55 L2037.19 569.27 L2041.38 573.73 L2045.50 577.70 L2049.57 581.12 L2053.63 584.13 L2057.70 586.86 L2061.77 589.46 L2065.83 592.06 L2069.90 594.80 L2073.80 597.73 L2077.50 600.77 L2081.21 603.81 L2085.11 606.74 L2089.41 609.47 L2094.30 611.90 L2100.34 614.06 L2107.46 616.04 L2114.99 617.82 L2122.21 619.37 L2128.45 620.67 L2133.00 621.70 L2135.60 622.36 L2136.76 622.66 L2136.92 622.71 L2136.54 622.63 L2136.09 622.52 L2136.00 622.50" stroke="#80ff00" stroke-width="6.0" fill="none" stroke-linejoin="round" stroke-dasharray="14.7 3.2 7.5 3.2"/>
<path d="M1295.90 438.00 L1297.99 438.07 L1300.89 438.22 L1304.33 438.37 L1307.99 438.44 L1311.58 438.34 L1314.80 438.00 L1317.65 437.41 L1320.36 436.64 L1323.01 435.71 L1325.65 434.63 L1328.36 433.42 L1331.20 432.10 L1334.14 430.61 L1337.11 428.92 L1340.16 427.10 L1343.30 425.23 L1346.57 423.37 L1350.00 421.60 L1353.73 419.73 L1357.75 417.66 L1361.90 415.60 L1366.02 413.78 L1369.94 412.41 L1373.50 411.70 L1376.56 411.73 L1379.23 412.35 L1381.70 413.42 L1384.17 414.80 L1386.84 416.37 L1389.90 418.00 L1393.41 419.96 L1397.21 422.43 L1401.21 425.07 L1405.30 427.60 L1409.40 429.68 L1413.40 431.00 L1417.43 431.42 L1421.58 431.17 L1425.74 430.47 L1429.76 429.57 L1433.53 428.70 L1436.90 428.10 L1439.79 427.96 L1442.30 428.14 L1444.54 428.34 L1446.65 428.30 L1448.76 427.71 L1451.00 426.30 L1453.32 423.86 L1455.61 420.58 L1457.91 416.76 L1460.23 412.70 L1462.62 408.71 L1465.10 405.10 L1467.70 401.58 L1470.40 397.86 L1473.16 394.21 L1475.95 390.90 L1478.74 388.20 L1481.50 386.40 L1484.28 385.80 L1487.13 386.24 L1489.97 387.29 L1492.75 388.54 L1495.42 389.55 L1497.90 389.90 L1500.12 389.55 L1502.11 388.82 L1503.99 387.86 L1505.85 386.80 L1507.82 385.77 L1510.00 384.90 L1512.42 384.29 L1515.00 383.86 L1517.67 383.46 L1520.40 382.95 L1523.13 382.18 L1525.80 381.00 L1528.42 378.91 L1531.04 375.92 L1533.65 372.68 L1536.26 369.81 L1538.88 367.97 L1541.50 367.80 L1544.11 370.10 L1546.71 374.53 L1549.31 379.98 L1551.93 385.35 L1554.59 389.56 L1557.30 391.50 L1560.17 390.60 L1563.20 387.61 L1566.26 383.46 L1569.24 379.04 L1571.99 375.29 L1574.40 373.10 L1576.41 372.46 L1578.10 372.64 L1579.58 373.48 L1580.92 374.81 L1582.23 376.47 L1583.60 378.30 L1584.90 380.93 L1586.04 384.63 L1587.14 388.65 L1588.33 392.27 L1589.74 394.77 L1591.50 395.40 L1593.71 393.40 L1596.28 389.19 L1599.08 383.85 L1601.94 378.46 L1604.73 374.08 L1607.30 371.80 L1609.61 371.81 L1611.77 373.30 L1613.85 375.81 L1615.93 378.88 L1618.09 382.06 L1620.40 384.90 L1622.82 387.70 L1625.27 390.89 L1627.81 394.19 L1630.45 397.32 L1633.23 400.02 L1636.20 402.00 L1639.52 403.19 L1643.20 403.80 L1647.03 403.96 L1650.79 403.84 L1654.25 403.57 L1657.20 403.30 L1659.56 402.72 L1661.48 401.66 L1663.11 400.44 L1664.59 399.43 L1666.07 398.97 L1667.70 399.40 L1669.42 400.99 L1671.10 403.50 L1672.78 406.57 L1674.50 409.80 L1676.29 412.80 L1678.20 415.20 L1680.31 417.14 L1682.60 418.97 L1684.96 420.57 L1687.29 421.85 L1689.48 422.70 L1691.40 423.00 L1693.05 422.45 L1694.53 421.07 L1695.85 419.26 L1697.06 417.41 L1698.20 415.93 L1699.30 415.20 L1700.26 415.42 L1701.03 416.31 L1701.73 417.56 L1702.47 418.86 L1703.35 419.91 L1704.50 420.40 L1705.93 420.00 L1707.54 418.90 L1709.31 417.54 L1711.18 416.39 L1713.13 415.89 L1715.10 416.50 L1717.17 418.62 L1719.37 421.98 L1721.64 425.99 L1723.91 430.09 L1726.12 433.68 L1728.20 436.20 L1730.16 437.69 L1732.04 438.61 L1733.86 439.04 L1735.63 439.04 L1737.34 438.67 L1739.00 438.00 L1740.61 436.76 L1742.16 434.85 L1743.65 432.57 L1745.10 430.23 L1746.51 428.14 L1747.90 426.60 L1749.30 425.82 L1750.71 425.58 L1752.09 425.59 L1753.39 425.55 L1754.54 425.15 L1755.50 424.10 L1756.16 422.32 L1756.55 420.04 L1756.80 417.40 L1757.05 414.55 L1757.44 411.64 L1758.10 408.80 L1759.08 406.02 L1760.26 403.17 L1761.59 400.26 L1762.98 397.28 L1764.38 394.23 L1765.70 391.10 L1766.97 387.96 L1768.23 384.81 L1769.50 381.59 L1770.77 378.23 L1772.03 374.66 L1773.30 370.80 L1774.55 366.95 L1775.77 363.23 L1776.99 359.29 L1778.24 354.80 L1779.53 349.41 L1780.90 342.80 L1782.36 334.57 L1783.90 324.91 L1785.48 314.37 L1787.08 303.46 L1788.67 292.73 L1790.20 282.70 L1791.69 273.28 L1793.15 264.04 L1794.59 254.96 L1796.03 246.06 L1797.46 237.34 L1798.90 228.80 L1800.34 220.21 L1801.77 211.53 L1803.21 203.03 L1804.64 194.98 L1806.07 187.64 L1807.50 181.30 L1808.93 176.13 L1810.36 171.94 L1811.79 168.48 L1813.23 165.47 L1814.66 162.63 L1816.10 159.70 L1817.57 156.44 L1819.07 153.03 L1820.58 149.80 L1822.06 147.08 L1823.48 145.20 L1824.80 144.50 L1825.99 145.10 L1827.05 146.76 L1828.06 149.26 L1829.06 152.40 L1830.12 155.95 L1831.30 159.70 L1832.61 163.74 L1834.01 168.26 L1835.47 173.19 L1836.96 178.48 L1838.44 184.07 L1839.90 189.90 L1841.33 196.23 L1842.76 203.16 L1844.19 210.39 L1845.63 217.63 L1847.06 224.56 L1848.50 230.90 L1849.92 236.60 L1851.31 241.88 L1852.71 246.86 L1854.14 251.67 L1855.63 256.41 L1857.20 261.20 L1858.90 266.10 L1860.73 271.02 L1862.61 275.88 L1864.49 280.58 L1866.30 285.05 L1868.00 289.20 L1869.57 292.96 L1871.06 296.37 L1872.48 299.56 L1873.87 302.60 L1875.23 305.62 L1876.60 308.70 L1877.94 312.29 L1879.23 316.41 L1880.50 320.49 L1881.78 323.98 L1883.10 326.34 L1884.50 327.00 L1885.96 325.58 L1887.47 322.43 L1889.02 318.14 L1890.61 313.30 L1892.23 308.49 L1893.90 304.30 L1895.64 300.53 L1897.47 296.69 L1899.34 292.88 L1901.20 289.20 L1903.00 285.77 L1904.70 282.70 L1906.28 279.80 L1907.76 276.95 L1909.19 274.34 L1910.60 272.19 L1912.02 270.67 L1913.50 270.00 L1915.06 270.28 L1916.68 271.39 L1918.31 273.13 L1919.92 275.35 L1921.47 277.86 L1922.90 280.50 L1924.20 283.39 L1925.41 286.69 L1926.54 290.29 L1927.65 294.07 L1928.76 297.92 L1929.90 301.70 L1931.05 305.47 L1932.17 309.33 L1933.30 313.26 L1934.46 317.21 L1935.68 321.17 L1937.00 325.10 L1938.46 329.07 L1940.05 333.10 L1941.71 337.14 L1943.36 341.11 L1944.95 344.95 L1946.40 348.60 L1947.71 352.01 L1948.91 355.21 L1950.05 358.29 L1951.16 361.31 L1952.26 364.32 L1953.40 367.40 L1954.57 370.59 L1955.73 373.84 L1956.89 377.09 L1958.06 380.28 L1959.23 383.34 L1960.40 386.20 L1961.61 388.66 L1962.85 390.73 L1964.09 392.67 L1965.31 394.74 L1966.45 397.19 L1967.50 400.30 L1968.42 404.17 L1969.24 408.63 L1970.00 413.47 L1970.72 418.51 L1971.44 423.55 L1972.20 428.40 L1972.98 433.15 L1973.75 437.97 L1974.53 442.79 L1975.30 447.55 L1976.09 452.18 L1976.90 456.60 L1977.70 460.74 L1978.49 464.63 L1979.29 468.38 L1980.12 472.12 L1981.02 475.95 L1982.00 480.00 L1983.09 484.34 L1984.27 488.89 L1985.51 493.54 L1986.79 498.17 L1988.06 502.66 L1989.30 506.90 L1990.52 510.88 L1991.73 514.69 L1992.94 518.36 L1994.16 521.93 L1995.38 525.43 L1996.60 528.90 L1997.83 532.27 L1999.06 535.49 L2000.30 538.65 L2001.54 541.81 L2002.77 545.03 L2004.00 548.40 L2005.17 551.98 L2006.26 555.73 L2007.35 559.55 L2008.51 563.34 L2009.80 566.99 L2011.30 570.40 L2013.05 573.56 L2015.00 576.56 L2017.09 579.41 L2019.25 582.17 L2021.41 584.85 L2023.50 587.50 L2025.53 590.05 L2027.57 592.46 L2029.60 594.80 L2031.63 597.14 L2033.67 599.55 L2035.70 602.10 L2037.70 604.83 L2039.67 607.70 L2041.64 610.64 L2043.65 613.59 L2045.72 616.46 L2047.90 619.20 L2050.15 621.79 L2052.44 624.28 L2054.79 626.71 L2057.25 629.10 L2059.84 631.48 L2062.60 633.90 L2065.51 636.37 L2068.56 638.86 L2071.74 641.35 L2075.05 643.81 L2078.51 646.20 L2082.10 648.50 L2085.87 650.74 L2089.83 652.96 L2093.92 655.11 L2098.11 657.16 L2102.35 659.07 L2106.60 660.80 L2111.16 662.38 L2116.13 663.84 L2121.14 665.17 L2125.86 666.33 L2129.93 667.32 L2133.00 668.10 L2134.89 668.62 L2135.84 668.88 L2136.15 668.96 L2136.09 668.93 L2135.94 668.89 L2136.00 668.90" stroke="#ffbf00" stroke-width="6.0" fill="none" stroke-linejoin="round"/>
<path d="M1295.90 384.00 L1298.47 383.95 L1302.02 383.88 L1306.23 383.79 L1310.77 383.70 L1315.30 383.60 L1319.50 383.50 L1323.42 383.41 L1327.34 383.31 L1331.26 383.22 L1335.18 383.11 L1339.09 382.97 L1343.00 382.80 L1346.96 382.53 L1350.98 382.17 L1354.99 381.78 L1358.94 381.44 L1362.77 381.22 L1366.40 381.20 L1369.75 381.38 L1372.83 381.69 L1375.79 382.13 L1378.76 382.67 L1381.85 383.30 L1385.20 384.00 L1388.90 384.97 L1392.86 386.26 L1396.95 387.64 L1401.04 388.86 L1405.00 389.70 L1408.70 389.90 L1412.13 389.34 L1415.40 388.17 L1418.54 386.61 L1421.59 384.87 L1424.56 383.17 L1427.50 381.70 L1430.40 380.38 L1433.23 379.03 L1435.99 377.71 L1438.69 376.49 L1441.33 375.43 L1443.90 374.60 L1446.38 374.19 L1448.77 374.20 L1451.09 374.36 L1453.39 374.45 L1455.68 374.21 L1458.00 373.40 L1460.35 371.89 L1462.70 369.84 L1465.05 367.46 L1467.40 364.97 L1469.75 362.58 L1472.10 360.50 L1474.48 358.54 L1476.89 356.50 L1479.30 354.55 L1481.68 352.88 L1483.99 351.67 L1486.20 351.10 L1488.28 351.25 L1490.26 352.00 L1492.17 353.20 L1494.06 354.73 L1495.95 356.44 L1497.90 358.20 L1499.91 360.17 L1501.96 362.48 L1504.03 364.98 L1506.07 367.51 L1508.07 369.90 L1510.00 372.00 L1511.84 373.65 L1513.62 374.96 L1515.35 376.13 L1517.06 377.39 L1518.77 378.94 L1520.50 381.00 L1522.25 383.82 L1524.00 387.26 L1525.75 391.00 L1527.50 394.71 L1529.25 398.05 L1531.00 400.70 L1532.73 402.47 L1534.45 403.58 L1536.16 404.33 L1537.90 405.01 L1539.67 405.90 L1541.50 407.30 L1543.43 409.55 L1545.46 412.49 L1547.53 415.65 L1549.58 418.55 L1551.56 420.73 L1553.40 421.70 L1555.09 421.13 L1556.67 419.32 L1558.17 416.78 L1559.63 414.03 L1561.10 411.56 L1562.60 409.90 L1564.13 409.41 L1565.67 409.76 L1567.20 410.41 L1568.73 410.79 L1570.27 410.37 L1571.80 408.60 L1573.32 404.86 L1574.82 399.47 L1576.32 393.28 L1577.84 387.13 L1579.39 381.85 L1581.00 378.30 L1582.70 376.94 L1584.50 377.20 L1586.33 378.34 L1588.14 379.62 L1589.89 380.32 L1591.50 379.70 L1592.94 377.61 L1594.23 374.60 L1595.45 371.01 L1596.67 367.16 L1597.96 363.38 L1599.40 360.00 L1600.97 356.89 L1602.61 353.77 L1604.33 350.71 L1606.11 347.82 L1607.97 345.19 L1609.90 342.90 L1611.90 341.05 L1613.97 339.59 L1616.12 338.38 L1618.34 337.29 L1620.63 336.21 L1623.00 335.00 L1625.51 333.43 L1628.16 331.54 L1630.89 329.66 L1633.63 328.08 L1636.29 327.13 L1638.80 327.10 L1641.18 328.09 L1643.49 329.86 L1645.73 332.24 L1647.90 335.09 L1649.99 338.23 L1652.00 341.50 L1653.91 345.13 L1655.70 349.29 L1657.42 353.75 L1659.10 358.26 L1660.78 362.59 L1662.50 366.50 L1664.22 370.01 L1665.90 373.31 L1667.59 376.44 L1669.31 379.40 L1671.10 382.21 L1673.00 384.90 L1675.03 387.58 L1677.17 390.27 L1679.38 392.82 L1681.63 395.07 L1683.88 396.88 L1686.10 398.10 L1688.33 398.72 L1690.59 398.86 L1692.86 398.56 L1695.10 397.85 L1697.26 396.79 L1699.30 395.40 L1701.21 393.37 L1703.00 390.60 L1704.72 387.47 L1706.40 384.36 L1708.08 381.64 L1709.80 379.70 L1711.57 378.59 L1713.37 378.03 L1715.17 377.86 L1716.94 377.94 L1718.66 378.14 L1720.30 378.30 L1721.83 378.22 L1723.25 377.98 L1724.62 377.84 L1725.99 378.10 L1727.40 379.03 L1728.90 380.90 L1730.51 384.40 L1732.20 389.43 L1733.93 395.13 L1735.67 400.64 L1737.37 405.08 L1739.00 407.60 L1740.57 407.89 L1742.10 406.59 L1743.61 404.23 L1745.07 401.34 L1746.51 398.45 L1747.90 396.10 L1749.23 394.11 L1750.48 392.01 L1751.70 389.92 L1752.92 387.93 L1754.17 386.16 L1755.50 384.70 L1756.94 384.10 L1758.46 384.39 L1760.03 384.89 L1761.57 384.93 L1763.05 383.82 L1764.40 380.90 L1765.59 375.39 L1766.64 367.69 L1767.62 358.84 L1768.60 349.91 L1769.63 341.95 L1770.80 336.00 L1772.10 332.56 L1773.50 330.88 L1774.96 330.17 L1776.44 329.63 L1777.94 328.47 L1779.40 325.90 L1780.82 321.84 L1782.21 316.91 L1783.61 311.36 L1785.04 305.44 L1786.53 299.41 L1788.10 293.50 L1789.78 287.58 L1791.54 281.43 L1793.37 275.15 L1795.22 268.87 L1797.08 262.72 L1798.90 256.80 L1800.73 250.90 L1802.58 244.88 L1804.44 238.98 L1806.26 233.44 L1808.03 228.50 L1809.70 224.40 L1811.28 221.30 L1812.81 219.04 L1814.27 217.38 L1815.67 216.07 L1817.01 214.90 L1818.30 213.60 L1819.50 212.08 L1820.62 210.50 L1821.68 209.05 L1822.71 207.90 L1823.74 207.22 L1824.80 207.20 L1825.86 207.83 L1826.89 208.97 L1827.92 210.58 L1828.98 212.64 L1830.10 215.13 L1831.30 218.00 L1832.64 221.49 L1834.09 225.67 L1835.60 230.28 L1837.11 235.03 L1838.56 239.66 L1839.90 243.90 L1841.10 247.60 L1842.22 250.94 L1843.28 254.16 L1844.31 257.50 L1845.34 261.20 L1846.40 265.50 L1847.48 270.78 L1848.57 276.92 L1849.66 283.42 L1850.74 289.78 L1851.82 295.47 L1852.90 300.00 L1853.97 303.10 L1855.04 305.12 L1856.10 306.48 L1857.16 307.60 L1858.23 308.90 L1859.30 310.80 L1860.38 313.36 L1861.47 316.25 L1862.56 319.33 L1863.65 322.41 L1864.73 325.36 L1865.80 328.00 L1866.88 330.39 L1867.97 332.68 L1869.06 334.82 L1870.11 336.79 L1871.10 338.52 L1872.00 340.00 L1872.75 341.25 L1873.37 342.30 L1873.92 343.12 L1874.49 343.70 L1875.16 344.00 L1876.00 344.00 L1877.05 343.71 L1878.26 343.15 L1879.56 342.31 L1880.90 341.19 L1882.23 339.75 L1883.50 338.00 L1884.71 335.71 L1885.91 332.85 L1887.09 329.69 L1888.27 326.48 L1889.44 323.50 L1890.60 321.00 L1891.72 319.02 L1892.79 317.36 L1893.86 315.92 L1894.95 314.61 L1896.12 313.33 L1897.40 312.00 L1898.85 310.56 L1900.44 309.06 L1902.11 307.61 L1903.77 306.27 L1905.36 305.14 L1906.80 304.30 L1908.08 303.76 L1909.24 303.47 L1910.33 303.38 L1911.38 303.46 L1912.43 303.68 L1913.50 304.00 L1914.61 304.44 L1915.73 305.02 L1916.84 305.74 L1917.94 306.60 L1918.99 307.59 L1920.00 308.70 L1920.92 309.94 L1921.76 311.31 L1922.56 312.81 L1923.37 314.44 L1924.24 316.21 L1925.20 318.10 L1926.27 320.23 L1927.43 322.63 L1928.64 325.15 L1929.87 327.67 L1931.10 330.07 L1932.30 332.20 L1933.50 333.98 L1934.73 335.51 L1935.95 336.90 L1937.14 338.29 L1938.27 339.82 L1939.30 341.60 L1940.14 343.83 L1940.78 346.43 L1941.36 349.17 L1942.00 351.79 L1942.84 354.05 L1944.00 355.70 L1945.52 356.55 L1947.29 356.77 L1949.26 356.62 L1951.36 356.39 L1953.53 356.36 L1955.70 356.80 L1957.99 357.61 L1960.48 358.53 L1963.04 359.64 L1965.53 361.04 L1967.83 362.80 L1969.80 365.00 L1971.39 367.75 L1972.69 371.02 L1973.79 374.64 L1974.80 378.48 L1975.80 382.38 L1976.90 386.20 L1978.04 389.98 L1979.15 393.87 L1980.26 397.81 L1981.39 401.79 L1982.60 405.76 L1983.90 409.70 L1985.30 413.66 L1986.77 417.68 L1988.30 421.69 L1989.90 425.64 L1991.57 429.47 L1993.30 433.10 L1995.16 436.39 L1997.17 439.36 L1999.25 442.21 L2001.31 445.11 L2003.29 448.28 L2005.10 451.90 L2006.70 456.09 L2008.16 460.71 L2009.52 465.60 L2010.86 470.56 L2012.23 475.42 L2013.70 480.00 L2015.26 484.28 L2016.88 488.40 L2018.53 492.43 L2020.19 496.40 L2021.85 500.37 L2023.50 504.40 L2025.13 508.42 L2026.77 512.38 L2028.41 516.34 L2030.04 520.37 L2031.67 524.54 L2033.30 528.90 L2034.92 533.53 L2036.54 538.40 L2038.15 543.41 L2039.76 548.44 L2041.38 553.41 L2043.00 558.20 L2044.63 562.84 L2046.26 567.40 L2047.89 571.90 L2049.53 576.33 L2051.17 580.70 L2052.80 585.00 L2054.43 589.16 L2056.07 593.16 L2057.70 597.09 L2059.33 601.06 L2060.97 605.17 L2062.60 609.50 L2064.23 614.22 L2065.87 619.27 L2067.51 624.46 L2069.14 629.58 L2070.77 634.43 L2072.40 638.80 L2074.02 642.59 L2075.64 645.93 L2077.25 649.01 L2078.86 651.98 L2080.48 655.02 L2082.10 658.30 L2083.70 661.82 L2085.27 665.45 L2086.84 669.14 L2088.45 672.87 L2090.13 676.60 L2091.90 680.30 L2093.79 684.02 L2095.79 687.81 L2097.85 691.61 L2099.94 695.33 L2102.04 698.92 L2104.10 702.30 L2106.08 705.52 L2108.00 708.64 L2109.92 711.62 L2111.90 714.43 L2114.01 717.03 L2116.30 719.40 L2118.98 721.54 L2122.04 723.48 L2125.23 725.21 L2128.28 726.73 L2130.96 728.03 L2133.00 729.10 L2134.33 729.87 L2135.13 730.32 L2135.54 730.56 L2135.73 730.66 L2135.83 730.71 L2136.00 730.80" stroke="#ff0000" stroke-width="8.0" fill="none" stroke-linejoin="round"/>
</g></g>
<text x="176.0" y="83.4" text-anchor="end" class="tl">10<tspan dy="-24.2" class="sup">2</tspan></text>
<text x="176.0" y="363.8" text-anchor="end" class="tl">10<tspan dy="-24.2" class="sup">0</tspan></text>
<text x="176.0" y="644.0" text-anchor="end" class="tl">10<tspan dy="-24.2" class="sup">-2</tspan></text>
<text x="176.0" y="925.0" text-anchor="end" class="tl">10<tspan dy="-24.2" class="sup">-4</tspan></text>
<text x="410.5" y="981.0" text-anchor="middle" class="tl">10<tspan dy="-24.2" class="sup">-2</tspan></text>
<text x="720.6" y="981.0" text-anchor="middle" class="tl">10<tspan dy="-24.2" class="sup">-1</tspan></text>
<text x="1030.7" y="981.0" text-anchor="middle" class="tl">10<tspan dy="-24.2" class="sup">0</tspan></text>
<text x="1276.8" y="83.4" text-anchor="end" class="tl">10<tspan dy="-24.2" class="sup">2</tspan></text>
<text x="1276.8" y="363.8" text-anchor="end" class="tl">10<tspan dy="-24.2" class="sup">0</tspan></text>
<text x="1276.8" y="644.0" text-anchor="end" class="tl">10<tspan dy="-24.2" class="sup">-2</tspan></text>
<text x="1276.8" y="925.0" text-anchor="end" class="tl">10<tspan dy="-24.2" class="sup">-4</tspan></text>
<text x="1511.3" y="981.0" text-anchor="middle" class="tl">10<tspan dy="-24.2" class="sup">-2</tspan></text>
<text x="1821.4" y="981.0" text-anchor="middle" class="tl">10<tspan dy="-24.2" class="sup">-1</tspan></text>
<text x="2131.5" y="981.0" text-anchor="middle" class="tl">10<tspan dy="-24.2" class="sup">0</tspan></text>
<rect x="228.4" y="610.6" width="337.1" height="254.0" fill="#fff" stroke="#262626" stroke-width="1.8"/>
<path d="M240.5 646.5H366.5" stroke="#1a1a1a" stroke-width="6.0"/>
<text transform="translate(376.6 663.7) scale(1 1.055)" class="lg">N0 <tspan class="it" dx="3">d</tspan>=31</text>
<path d="M240.5 707.3H366.5" stroke="#00ff40" stroke-width="6.0"/>
<text transform="translate(376.6 724.5) scale(1 1.055)" class="lg">N1 <tspan class="it" dx="3">d</tspan>=14</text>
<path d="M240.5 767.3H366.5" stroke="#80ff00" stroke-width="6.0" stroke-dasharray="24.5 5.3 12.5 5.3"/>
<text transform="translate(376.6 784.5) scale(1 1.055)" class="lg">N2 <tspan class="it" dx="3">d</tspan>=10</text>
<path d="M240.5 828.3H366.5" stroke="#ff0000" stroke-width="6.0"/>
<text transform="translate(376.6 845.5) scale(1 1.055)" class="lg">N3 <tspan class="it" dx="3">d</tspan>=6</text>
<rect x="1328.2" y="671.6" width="693.5" height="192.5" fill="#fff" stroke="#262626" stroke-width="1.6"/>
<path d="M1340.5 707.4H1465.3" stroke="#1a1a1a" stroke-width="6.0"/>
<text transform="translate(1474.5 724.6) scale(1 1.055)" class="lg">J0 <tspan class="it" dx="3">d</tspan>=33.5</text>
<path d="M1340.5 767.8H1465.3" stroke="#0040ff" stroke-width="6.0" stroke-dasharray="24.5 5.3 12.5 5.3"/>
<text transform="translate(1474.5 785.0) scale(1 1.055)" class="lg">J1 <tspan class="it" dx="3">d</tspan>=24</text>
<path d="M1340.5 828.5H1465.3" stroke="#00ffff" stroke-width="6.0"/>
<text transform="translate(1474.5 845.7) scale(1 1.055)" class="lg">J2 <tspan class="it" dx="3">d</tspan>=19</text>
<path d="M1706.5 707.4H1831.6" stroke="#80ff00" stroke-width="6.0" stroke-dasharray="24.5 5.3 12.5 5.3"/>
<text transform="translate(1841.1 724.6) scale(1 1.055)" class="lg">J3 <tspan class="it" dx="3">d</tspan>=12</text>
<path d="M1706.5 767.8H1831.6" stroke="#ffbf00" stroke-width="6.0"/>
<text transform="translate(1841.1 785.0) scale(1 1.055)" class="lg">J4 <tspan class="it" dx="3">d</tspan>=8</text>
<path d="M1706.5 828.5H1831.6" stroke="#ff0000" stroke-width="6.0"/>
<text transform="translate(1841.1 845.7) scale(1 1.055)" class="lg">J5 <tspan class="it" dx="3">d</tspan>=5</text>
<text transform="translate(613.4 39.8) scale(1 1.042)" text-anchor="middle" class="ti">Site N</text>
<text transform="translate(1714.2 40) scale(1 1.042)" text-anchor="middle" class="ti">Site J</text>
<text transform="translate(614.1 1052.9) scale(1 1.057)" text-anchor="middle" class="xl">frequency (Hz)</text>
<text transform="translate(1714.9 1052.9) scale(1 1.057)" text-anchor="middle" class="xl">frequency (Hz)</text>
<text transform="translate(59.0 476.3) rotate(-90) scale(1 1.057)" text-anchor="middle" class="xl"><tspan class="it">E</tspan> (m<tspan class="ysup" dy="-27">2</tspan><tspan dy="27" dx="1">/Hz)</tspan></text>
<text transform="translate(1159.8 476.3) rotate(-90) scale(1 1.057)" text-anchor="middle" class="xl"><tspan class="it">E</tspan> (m<tspan class="ysup" dy="-27">2</tspan><tspan dy="27" dx="1">/Hz)</tspan></text>
</svg>
</body></html>
